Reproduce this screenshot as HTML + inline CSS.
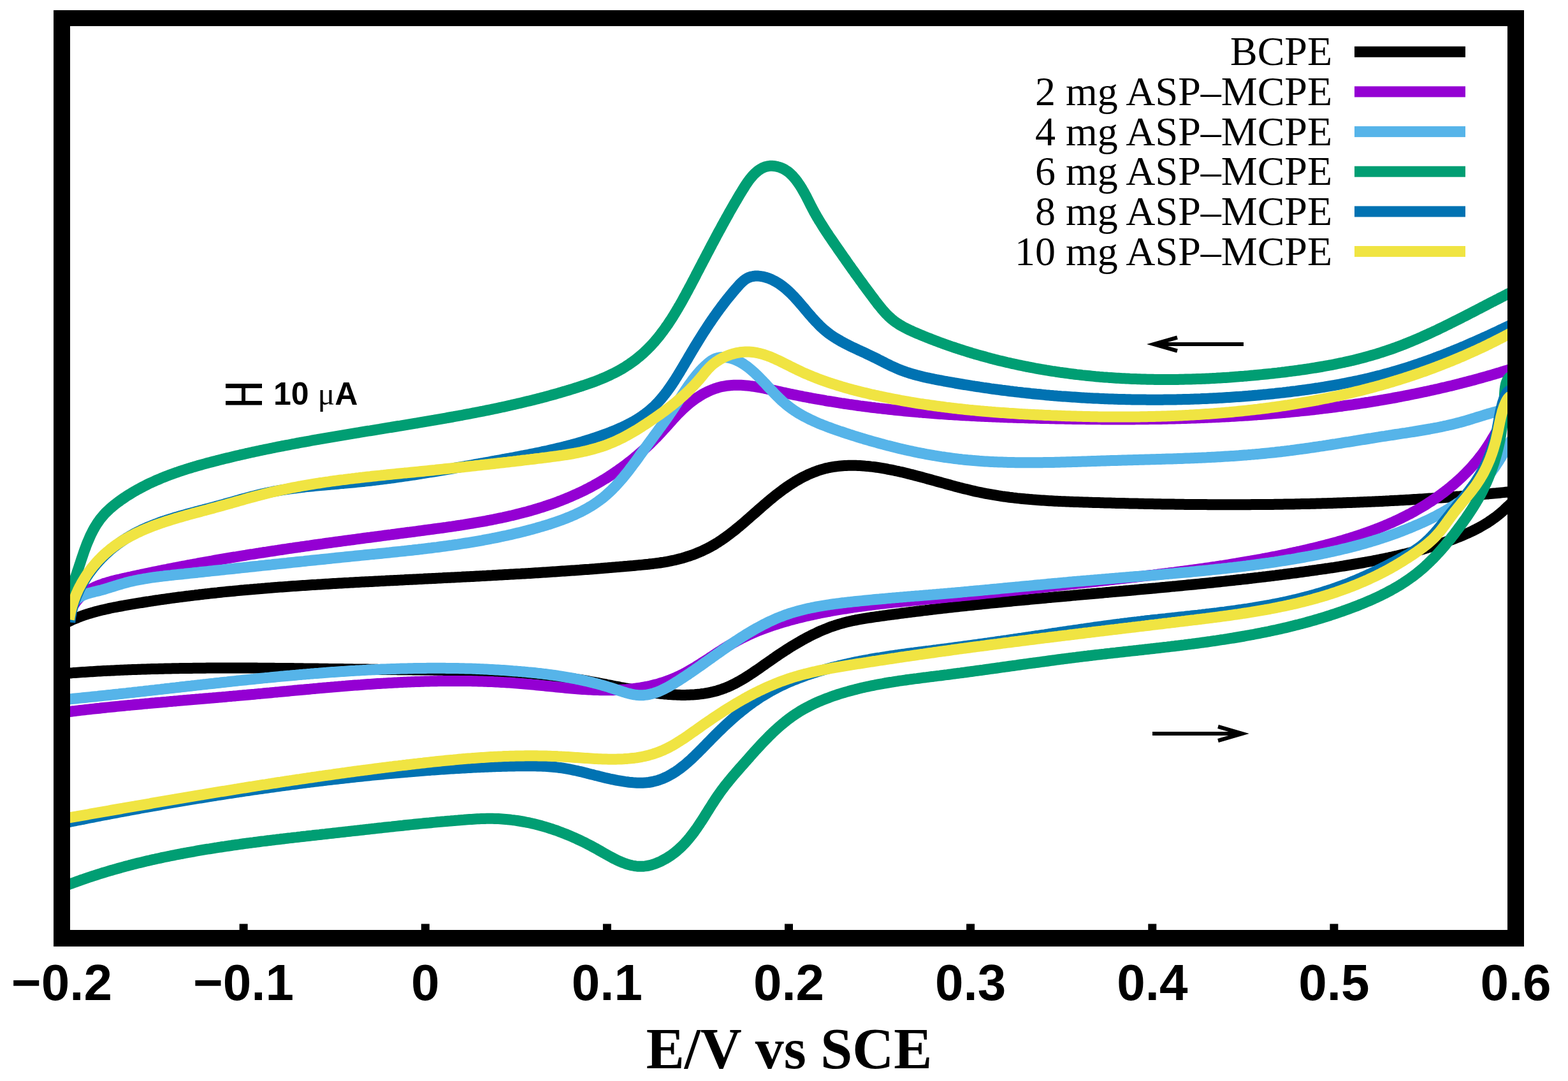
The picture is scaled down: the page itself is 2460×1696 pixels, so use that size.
<!DOCTYPE html>
<html><head><meta charset="utf-8"><title>Cyclic voltammograms</title>
<style>
html,body{margin:0;padding:0;background:#fff;}
body{width:2460px;height:1696px;overflow:hidden;}
svg{display:block;}
.tl{font-family:"Liberation Sans",Arial,sans-serif;font-weight:bold;font-size:80px;}
.leg{font-family:"Liberation Serif","Times New Roman",serif;font-size:64px;}
.xl{font-family:"Liberation Serif","Times New Roman",serif;font-weight:bold;font-size:90px;}
.sb{font-family:"Liberation Sans",Arial,sans-serif;font-weight:bold;font-size:50px;}
.mu{font-family:"Liberation Serif","Times New Roman",serif;font-weight:normal;font-size:50px;}
</style></head>
<body>
<svg xmlns="http://www.w3.org/2000/svg" width="2460" height="1696" viewBox="0 0 2460 1696">
<rect x="0" y="0" width="2460" height="1696" fill="#fff"/>
<defs><clipPath id="pa"><rect x="84" y="16" width="2307" height="1469"/></clipPath></defs>
<g clip-path="url(#pa)" fill="none" stroke-width="17" stroke-linejoin="round" stroke-linecap="butt">
<path d="M97.0 1057.0L100.0 1056.8 103.0 1056.5 106.0 1056.3 109.0 1056.1 112.0 1055.9 115.0 1055.6 118.0 1055.4 121.0 1055.2 124.0 1055.0 127.0 1054.8 130.0 1054.6 133.0 1054.4 136.0 1054.2 139.0 1054.0 142.0 1053.8 145.0 1053.7 148.0 1053.5 151.0 1053.3 153.9 1053.1 156.9 1053.0 159.9 1052.8 162.9 1052.6 165.9 1052.5 168.9 1052.3 171.9 1052.2 174.9 1052.0 177.9 1051.9 180.9 1051.7 183.9 1051.6 186.9 1051.5 189.9 1051.3 192.9 1051.2 195.9 1051.1 198.9 1051.0 201.9 1050.8 204.9 1050.7 207.9 1050.6 210.9 1050.5 213.9 1050.4 216.9 1050.3 219.8 1050.2 222.8 1050.1 225.8 1050.0 228.8 1049.9 231.8 1049.8 234.8 1049.7 237.8 1049.6 240.8 1049.5 243.8 1049.5 246.8 1049.4 249.8 1049.3 252.8 1049.2 255.8 1049.2 258.8 1049.1 261.8 1049.0 264.8 1049.0 267.8 1048.9 270.8 1048.8 273.7 1048.8 276.7 1048.7 279.7 1048.7 282.7 1048.6 285.7 1048.6 288.7 1048.5 291.7 1048.5 294.7 1048.4 297.7 1048.4 300.7 1048.4 303.7 1048.3 306.7 1048.3 309.7 1048.3 312.7 1048.2 315.7 1048.2 318.7 1048.2 321.7 1048.2 324.6 1048.1 327.6 1048.1 330.6 1048.1 333.6 1048.1 336.6 1048.1 339.6 1048.1 342.6 1048.0 345.6 1048.0 348.6 1048.0 351.6 1048.0 354.6 1048.0 357.6 1048.0 360.6 1048.0 363.6 1048.0 366.6 1048.0 369.6 1048.0 372.6 1048.0 375.6 1048.0 378.5 1048.0 381.5 1048.0 384.5 1048.1 387.5 1048.1 390.5 1048.1 393.5 1048.1 396.5 1048.1 399.5 1048.1 402.5 1048.1 405.5 1048.2 408.5 1048.2 411.5 1048.2 414.5 1048.2 417.5 1048.2 420.5 1048.3 423.5 1048.3 426.5 1048.3 429.5 1048.3 432.5 1048.4 435.5 1048.4 438.5 1048.4 441.4 1048.4 444.4 1048.5 447.4 1048.5 450.4 1048.5 453.4 1048.6 456.4 1048.6 459.4 1048.6 462.4 1048.7 465.4 1048.7 468.4 1048.7 471.4 1048.8 474.4 1048.8 477.4 1048.9 480.4 1048.9 483.4 1048.9 486.4 1049.0 489.4 1049.0 492.4 1049.0 495.4 1049.1 498.4 1049.1 501.4 1049.2 504.4 1049.2 507.4 1049.2 510.4 1049.3 513.4 1049.3 516.4 1049.4 519.4 1049.4 522.4 1049.4 525.4 1049.5 528.4 1049.5 531.4 1049.6 534.4 1049.6 537.4 1049.6 540.4 1049.7 543.4 1049.7 546.4 1049.8 549.4 1049.8 552.4 1049.8 555.4 1049.9 558.4 1049.9 561.4 1050.0 564.4 1050.0 567.4 1050.0 570.4 1050.1 573.4 1050.1 576.4 1050.1 579.4 1050.2 582.4 1050.2 585.4 1050.3 588.4 1050.3 591.4 1050.3 594.4 1050.4 597.4 1050.4 600.4 1050.4 603.4 1050.5 606.4 1050.5 609.4 1050.5 612.4 1050.5 615.4 1050.6 618.4 1050.6 621.4 1050.6 624.4 1050.7 627.4 1050.7 630.4 1050.7 633.4 1050.7 636.5 1050.8 639.5 1050.8 642.5 1050.8 645.5 1050.8 648.5 1050.9 651.5 1050.9 654.5 1050.9 657.5 1050.9 660.5 1051.0 663.5 1051.0 666.5 1051.0 669.5 1051.0 672.5 1051.1 675.5 1051.1 678.5 1051.1 681.5 1051.2 684.5 1051.2 687.5 1051.2 690.5 1051.3 693.6 1051.3 696.6 1051.4 699.6 1051.4 702.6 1051.4 705.6 1051.5 708.6 1051.5 711.6 1051.6 714.6 1051.7 717.6 1051.7 720.6 1051.8 723.6 1051.8 726.6 1051.9 729.6 1052.0 732.6 1052.1 735.6 1052.1 738.6 1052.2 741.6 1052.3 744.6 1052.4 747.6 1052.5 750.6 1052.6 753.6 1052.7 756.6 1052.8 759.6 1052.9 762.6 1053.0 765.6 1053.1 768.6 1053.2 771.6 1053.4 774.6 1053.5 777.6 1053.6 780.5 1053.8 783.5 1053.9 786.5 1054.1 789.5 1054.2 792.5 1054.4 795.5 1054.6 798.5 1054.7 801.5 1054.9 804.5 1055.1 807.5 1055.3 810.4 1055.5 813.4 1055.7 816.4 1055.9 819.4 1056.1 822.4 1056.4 825.4 1056.6 828.3 1056.8 831.3 1057.1 834.3 1057.3 837.3 1057.6 840.3 1057.8 843.2 1058.1 846.2 1058.4 849.2 1058.7 852.2 1059.0 855.1 1059.3 858.1 1059.6 861.1 1059.9 864.1 1060.3 867.0 1060.6 870.0 1060.9 873.0 1061.3 875.9 1061.7 878.9 1062.0 881.9 1062.4 884.8 1062.8 887.8 1063.2 890.8 1063.6 893.7 1064.0 896.7 1064.4 899.6 1064.9 902.6 1065.3 905.5 1065.8 908.5 1066.3 911.5 1066.7 914.4 1067.2 917.4 1067.7 920.3 1068.2 923.3 1068.7 926.2 1069.3 929.1 1069.8 932.1 1070.3 935.0 1070.9 938.0 1071.4 940.9 1072.0 943.9 1072.6 946.8 1073.1 949.8 1073.7 952.7 1074.3 955.7 1074.8 958.6 1075.4 961.5 1076.0 964.5 1076.6 967.4 1077.1 970.4 1077.7 973.3 1078.3 976.3 1078.8 979.2 1079.4 982.2 1080.0 985.2 1080.5 988.1 1081.0 991.1 1081.6 994.0 1082.1 997.0 1082.6 1000.0 1083.1 1003.0 1083.6 1005.9 1084.1 1008.9 1084.6 1011.9 1085.1 1014.9 1085.5 1017.9 1086.0 1020.8 1086.4 1023.8 1086.8 1026.8 1087.2 1029.8 1087.5 1032.9 1087.9 1035.9 1088.2 1038.9 1088.6 1041.9 1088.9 1044.9 1089.1 1047.9 1089.4 1050.9 1089.6 1054.0 1089.8 1057.0 1090.0 1060.0 1090.1 1063.0 1090.2 1066.0 1090.3 1069.0 1090.4 1072.0 1090.4 1075.0 1090.4 1078.0 1090.3 1081.0 1090.3 1084.0 1090.1 1087.0 1090.0 1090.0 1089.8 1092.9 1089.5 1095.9 1089.2 1098.8 1088.9 1101.7 1088.5 1104.7 1088.1 1107.6 1087.6 1110.5 1087.1 1113.3 1086.6 1116.2 1085.9 1119.1 1085.3 1121.9 1084.6 1124.7 1083.8 1127.5 1082.9 1130.3 1082.0 1133.1 1081.1 1135.9 1080.1 1138.6 1079.0 1141.3 1077.9 1144.0 1076.7 1146.7 1075.5 1149.4 1074.2 1152.1 1072.9 1154.7 1071.5 1157.3 1070.1 1160.0 1068.6 1162.6 1067.1 1165.2 1065.6 1167.8 1064.1 1170.3 1062.5 1172.9 1060.8 1175.5 1059.2 1178.0 1057.5 1180.6 1055.8 1183.1 1054.1 1185.6 1052.4 1188.1 1050.7 1190.7 1048.9 1193.2 1047.2 1195.7 1045.4 1198.2 1043.6 1200.7 1041.9 1203.2 1040.1 1205.7 1038.3 1208.3 1036.6 1210.8 1034.8 1213.3 1033.1 1215.8 1031.3 1218.3 1029.6 1220.8 1027.9 1223.4 1026.2 1225.9 1024.5 1228.4 1022.9 1230.9 1021.2 1233.5 1019.6 1236.0 1017.9 1238.6 1016.3 1241.1 1014.7 1243.7 1013.2 1246.2 1011.6 1248.8 1010.1 1251.4 1008.6 1254.0 1007.1 1256.5 1005.6 1259.1 1004.1 1261.7 1002.7 1264.3 1001.3 1267.0 999.9 1269.6 998.5 1272.2 997.2 1274.9 995.8 1277.5 994.6 1280.2 993.3 1282.9 992.0 1285.5 990.8 1288.2 989.6 1290.9 988.5 1293.6 987.4 1296.4 986.3 1299.1 985.2 1301.8 984.1 1304.6 983.1 1307.4 982.2 1310.2 981.2 1313.0 980.3 1315.8 979.4 1318.6 978.6 1321.4 977.8 1324.3 977.0 1327.2 976.3 1330.0 975.6 1332.9 974.9 1335.8 974.3 1338.7 973.6 1341.7 973.0 1344.6 972.5 1347.5 971.9 1350.5 971.4 1353.4 970.9 1356.4 970.4 1359.4 969.9 1362.3 969.4 1365.3 969.0 1368.3 968.5 1371.3 968.1 1374.2 967.7 1377.2 967.3 1380.2 966.8 1383.2 966.4 1386.2 966.0 1389.2 965.6 1392.1 965.2 1395.1 964.8 1398.1 964.4 1401.1 964.0 1404.1 963.6 1407.1 963.2 1410.0 962.8 1413.0 962.4 1416.0 962.0 1419.0 961.6 1422.0 961.3 1425.0 960.9 1428.0 960.5 1430.9 960.1 1433.9 959.8 1436.9 959.4 1439.9 959.0 1442.9 958.7 1445.9 958.3 1448.8 957.9 1451.8 957.6 1454.8 957.2 1457.8 956.9 1460.8 956.5 1463.8 956.1 1466.8 955.8 1469.7 955.4 1472.7 955.1 1475.7 954.8 1478.7 954.4 1481.7 954.1 1484.7 953.7 1487.7 953.4 1490.6 953.1 1493.6 952.7 1496.6 952.4 1499.6 952.1 1502.6 951.8 1505.6 951.4 1508.5 951.1 1511.5 950.8 1514.5 950.5 1517.5 950.1 1520.5 949.8 1523.5 949.5 1526.5 949.2 1529.4 948.9 1532.4 948.6 1535.4 948.3 1538.4 948.0 1541.4 947.6 1544.4 947.3 1547.4 947.0 1550.3 946.7 1553.3 946.4 1556.3 946.1 1559.3 945.8 1562.3 945.5 1565.3 945.2 1568.3 944.9 1571.2 944.7 1574.2 944.4 1577.2 944.1 1580.2 943.8 1583.2 943.5 1586.2 943.2 1589.1 942.9 1592.1 942.6 1595.1 942.3 1598.1 942.1 1601.1 941.8 1604.1 941.5 1607.1 941.2 1610.0 940.9 1613.0 940.7 1616.0 940.4 1619.0 940.1 1622.0 939.8 1625.0 939.5 1628.0 939.3 1630.9 939.0 1633.9 938.7 1636.9 938.4 1639.9 938.2 1642.9 937.9 1645.9 937.6 1648.8 937.4 1651.8 937.1 1654.8 936.8 1657.8 936.5 1660.8 936.3 1663.8 936.0 1666.8 935.7 1669.7 935.5 1672.7 935.2 1675.7 934.9 1678.7 934.7 1681.7 934.4 1684.7 934.1 1687.6 933.9 1690.6 933.6 1693.6 933.3 1696.6 933.1 1699.6 932.8 1702.6 932.6 1705.6 932.3 1708.5 932.0 1711.5 931.8 1714.5 931.5 1717.5 931.2 1720.5 931.0 1723.5 930.7 1726.4 930.4 1729.4 930.2 1732.4 929.9 1735.4 929.6 1738.4 929.4 1741.4 929.1 1744.3 928.8 1747.3 928.6 1750.3 928.3 1753.3 928.1 1756.3 927.8 1759.3 927.5 1762.2 927.3 1765.2 927.0 1768.2 926.7 1771.2 926.5 1774.2 926.2 1777.2 925.9 1780.1 925.7 1783.1 925.4 1786.1 925.1 1789.1 924.8 1792.1 924.6 1795.1 924.3 1798.0 924.0 1801.0 923.8 1804.0 923.5 1807.0 923.2 1810.0 922.9 1812.9 922.7 1815.9 922.4 1818.9 922.1 1821.9 921.8 1824.9 921.5 1827.9 921.3 1830.8 921.0 1833.8 920.7 1836.8 920.4 1839.8 920.1 1842.8 919.9 1845.7 919.6 1848.7 919.3 1851.7 919.0 1854.7 918.7 1857.7 918.4 1860.6 918.1 1863.6 917.8 1866.6 917.6 1869.6 917.3 1872.6 917.0 1875.5 916.7 1878.5 916.4 1881.5 916.1 1884.5 915.8 1887.5 915.5 1890.5 915.2 1893.4 914.9 1896.4 914.6 1899.4 914.3 1902.4 914.0 1905.3 913.6 1908.3 913.3 1911.3 913.0 1914.3 912.7 1917.3 912.4 1920.2 912.1 1923.2 911.8 1926.2 911.4 1929.2 911.1 1932.2 910.8 1935.1 910.5 1938.1 910.1 1941.1 909.8 1944.1 909.5 1947.1 909.2 1950.0 908.8 1953.0 908.5 1956.0 908.2 1959.0 907.8 1961.9 907.5 1964.9 907.1 1967.9 906.8 1970.9 906.4 1973.9 906.1 1976.8 905.7 1979.8 905.4 1982.8 905.0 1985.8 904.7 1988.7 904.3 1991.7 904.0 1994.7 903.6 1997.7 903.2 2000.6 902.9 2003.6 902.5 2006.6 902.1 2009.6 901.7 2012.5 901.4 2015.5 901.0 2018.5 900.6 2021.5 900.2 2024.4 899.8 2027.4 899.4 2030.4 899.1 2033.4 898.7 2036.3 898.3 2039.3 897.9 2042.3 897.5 2045.3 897.1 2048.2 896.7 2051.2 896.3 2054.2 895.8 2057.2 895.4 2060.1 895.0 2063.1 894.6 2066.1 894.2 2069.1 893.7 2072.0 893.3 2075.0 892.9 2078.0 892.5 2080.9 892.0 2083.9 891.6 2086.9 891.1 2089.9 890.7 2092.8 890.3 2095.8 889.8 2098.8 889.3 2101.7 888.9 2104.7 888.4 2107.7 888.0 2110.7 887.5 2113.6 887.0 2116.6 886.5 2119.6 886.0 2122.5 885.5 2125.5 885.0 2128.4 884.5 2131.4 884.0 2134.4 883.5 2137.3 883.0 2140.3 882.5 2143.2 881.9 2146.2 881.4 2149.1 880.8 2152.1 880.3 2155.0 879.7 2158.0 879.2 2160.9 878.6 2163.9 878.0 2166.8 877.4 2169.8 876.8 2172.7 876.2 2175.6 875.6 2178.6 875.0 2181.5 874.3 2184.4 873.7 2187.3 873.0 2190.3 872.4 2193.2 871.7 2196.1 871.0 2199.0 870.3 2201.9 869.6 2204.8 868.9 2207.7 868.2 2210.6 867.4 2213.5 866.7 2216.4 865.9 2219.3 865.2 2222.2 864.4 2225.1 863.6 2228.0 862.8 2230.9 862.0 2233.8 861.2 2236.6 860.3 2239.5 859.5 2242.4 858.6 2245.2 857.7 2248.1 856.9 2250.9 856.0 2253.8 855.0 2256.6 854.1 2259.5 853.2 2262.3 852.2 2265.2 851.2 2268.0 850.3 2270.8 849.3 2273.6 848.3 2276.4 847.2 2279.3 846.2 2282.1 845.1 2284.8 844.0 2287.6 842.9 2290.4 841.8 2293.2 840.7 2295.9 839.5 2298.7 838.3 2301.4 837.1 2304.1 835.9 2306.8 834.6 2309.5 833.3 2312.2 832.0 2314.9 830.7 2317.5 829.3 2320.1 827.9 2322.7 826.5 2325.3 825.0 2327.9 823.5 2330.4 822.0 2333.0 820.4 2335.5 818.8 2338.0 817.1 2340.4 815.5 2342.9 813.7 2345.3 812.0 2347.7 810.2 2350.0 808.4 2352.3 806.5 2354.6 804.6 2356.9 802.6 2359.2 800.6 2361.4 798.5 2363.6 796.4 2365.8 794.4 2368.0 792.3 2370.2 790.3 2372.5 788.3 2374.8 786.4 2377.2 784.6 2379.7 782.9 2382.3 781.4 2385.0 780.0 M2380.0 770.5L2377.0 770.8 2374.0 771.1 2371.0 771.4 2368.1 771.7 2365.1 772.0 2362.1 772.3 2359.1 772.6 2356.1 772.9 2353.1 773.2 2350.1 773.5 2347.2 773.8 2344.2 774.0 2341.2 774.3 2338.2 774.6 2335.2 774.9 2332.2 775.1 2329.2 775.4 2326.2 775.7 2323.3 775.9 2320.3 776.2 2317.3 776.4 2314.3 776.7 2311.3 777.0 2308.3 777.2 2305.3 777.5 2302.3 777.7 2299.4 777.9 2296.4 778.2 2293.4 778.4 2290.4 778.7 2287.4 778.9 2284.4 779.1 2281.4 779.4 2278.4 779.6 2275.4 779.8 2272.5 780.0 2269.5 780.3 2266.5 780.5 2263.5 780.7 2260.5 780.9 2257.5 781.1 2254.5 781.3 2251.5 781.5 2248.5 781.7 2245.5 781.9 2242.6 782.1 2239.6 782.3 2236.6 782.5 2233.6 782.7 2230.6 782.9 2227.6 783.1 2224.6 783.3 2221.6 783.5 2218.6 783.6 2215.6 783.8 2212.7 784.0 2209.7 784.2 2206.7 784.3 2203.7 784.5 2200.7 784.7 2197.7 784.8 2194.7 785.0 2191.7 785.2 2188.7 785.3 2185.7 785.5 2182.7 785.6 2179.7 785.8 2176.8 785.9 2173.8 786.1 2170.8 786.2 2167.8 786.4 2164.8 786.5 2161.8 786.7 2158.8 786.8 2155.8 786.9 2152.8 787.1 2149.8 787.2 2146.8 787.3 2143.8 787.5 2140.8 787.6 2137.8 787.7 2134.9 787.8 2131.9 787.9 2128.9 788.1 2125.9 788.2 2122.9 788.3 2119.9 788.4 2116.9 788.5 2113.9 788.6 2110.9 788.7 2107.9 788.8 2104.9 788.9 2101.9 789.0 2098.9 789.1 2095.9 789.2 2092.9 789.3 2089.9 789.4 2086.9 789.5 2084.0 789.6 2081.0 789.7 2078.0 789.8 2075.0 789.8 2072.0 789.9 2069.0 790.0 2066.0 790.1 2063.0 790.2 2060.0 790.2 2057.0 790.3 2054.0 790.4 2051.0 790.4 2048.0 790.5 2045.0 790.6 2042.0 790.6 2039.0 790.7 2036.0 790.7 2033.0 790.8 2030.0 790.9 2027.0 790.9 2024.0 791.0 2021.1 791.0 2018.1 791.1 2015.1 791.1 2012.1 791.2 2009.1 791.2 2006.1 791.2 2003.1 791.3 2000.1 791.3 1997.1 791.4 1994.1 791.4 1991.1 791.4 1988.1 791.5 1985.1 791.5 1982.1 791.5 1979.1 791.5 1976.1 791.6 1973.1 791.6 1970.1 791.6 1967.1 791.6 1964.1 791.6 1961.1 791.7 1958.1 791.7 1955.1 791.7 1952.1 791.7 1949.1 791.7 1946.1 791.7 1943.1 791.7 1940.1 791.7 1937.1 791.7 1934.1 791.7 1931.1 791.7 1928.1 791.7 1925.1 791.7 1922.1 791.7 1919.1 791.7 1916.1 791.7 1913.2 791.7 1910.2 791.7 1907.2 791.7 1904.2 791.7 1901.2 791.7 1898.2 791.7 1895.2 791.7 1892.2 791.6 1889.2 791.6 1886.2 791.6 1883.2 791.6 1880.2 791.6 1877.2 791.5 1874.2 791.5 1871.2 791.5 1868.2 791.4 1865.2 791.4 1862.2 791.4 1859.2 791.4 1856.2 791.3 1853.2 791.3 1850.2 791.2 1847.2 791.2 1844.2 791.2 1841.2 791.1 1838.2 791.1 1835.2 791.0 1832.2 791.0 1829.2 791.0 1826.2 790.9 1823.2 790.9 1820.2 790.8 1817.2 790.8 1814.2 790.7 1811.2 790.7 1808.2 790.6 1805.2 790.5 1802.2 790.5 1799.2 790.4 1796.2 790.4 1793.2 790.3 1790.2 790.2 1787.2 790.2 1784.2 790.1 1781.2 790.1 1778.2 790.0 1775.2 789.9 1772.2 789.9 1769.2 789.8 1766.2 789.7 1763.2 789.6 1760.2 789.6 1757.2 789.5 1754.2 789.4 1751.2 789.4 1748.2 789.3 1745.2 789.2 1742.2 789.1 1739.2 789.0 1736.2 789.0 1733.2 788.9 1730.2 788.8 1727.2 788.7 1724.2 788.6 1721.2 788.5 1718.2 788.4 1715.2 788.4 1712.2 788.3 1709.2 788.2 1706.2 788.1 1703.2 788.0 1700.2 787.9 1697.2 787.8 1694.2 787.7 1691.2 787.6 1688.2 787.5 1685.2 787.4 1682.2 787.3 1679.2 787.2 1676.2 787.1 1673.2 787.0 1670.2 786.8 1667.2 786.7 1664.2 786.6 1661.2 786.4 1658.2 786.3 1655.2 786.2 1652.2 786.0 1649.2 785.8 1646.2 785.7 1643.2 785.5 1640.2 785.3 1637.3 785.1 1634.3 784.9 1631.3 784.7 1628.3 784.5 1625.3 784.3 1622.3 784.1 1619.3 783.8 1616.4 783.6 1613.4 783.3 1610.4 783.1 1607.4 782.8 1604.5 782.5 1601.5 782.2 1598.5 781.9 1595.5 781.6 1592.6 781.2 1589.6 780.9 1586.6 780.5 1583.7 780.2 1580.7 779.8 1577.8 779.4 1574.8 779.0 1571.9 778.6 1568.9 778.1 1566.0 777.7 1563.0 777.2 1560.1 776.7 1557.1 776.2 1554.2 775.7 1551.2 775.2 1548.3 774.7 1545.4 774.1 1542.4 773.5 1539.5 772.9 1536.6 772.3 1533.7 771.7 1530.8 771.1 1527.8 770.4 1524.9 769.7 1522.0 769.0 1519.1 768.3 1516.2 767.6 1513.3 766.9 1510.4 766.2 1507.5 765.4 1504.6 764.7 1501.7 763.9 1498.8 763.2 1495.9 762.4 1493.0 761.6 1490.1 760.8 1487.2 760.0 1484.3 759.2 1481.4 758.4 1478.4 757.6 1475.5 756.8 1472.6 756.0 1469.7 755.2 1466.8 754.4 1463.9 753.6 1461.0 752.8 1458.1 752.0 1455.2 751.2 1452.3 750.4 1449.4 749.6 1446.5 748.8 1443.6 748.0 1440.6 747.2 1437.7 746.5 1434.8 745.7 1431.9 744.9 1428.9 744.2 1426.0 743.5 1423.1 742.7 1420.1 742.0 1417.2 741.3 1414.3 740.6 1411.3 740.0 1408.3 739.3 1405.4 738.7 1402.4 738.0 1399.5 737.4 1396.5 736.8 1393.5 736.3 1390.5 735.7 1387.6 735.2 1384.6 734.7 1381.6 734.2 1378.6 733.7 1375.6 733.2 1372.6 732.8 1369.6 732.4 1366.6 732.1 1363.6 731.7 1360.6 731.4 1357.7 731.2 1354.7 730.9 1351.7 730.7 1348.7 730.5 1345.7 730.4 1342.8 730.3 1339.8 730.2 1336.8 730.2 1333.9 730.2 1331.0 730.3 1328.0 730.4 1325.1 730.5 1322.2 730.7 1319.3 731.0 1316.4 731.3 1313.5 731.6 1310.6 732.0 1307.7 732.4 1304.9 732.9 1302.0 733.4 1299.2 734.0 1296.4 734.6 1293.6 735.3 1290.8 736.1 1288.0 736.9 1285.3 737.8 1282.5 738.7 1279.8 739.7 1277.1 740.7 1274.4 741.8 1271.7 742.9 1269.0 744.1 1266.4 745.3 1263.8 746.6 1261.1 747.9 1258.5 749.2 1255.9 750.6 1253.3 752.1 1250.8 753.5 1248.2 755.0 1245.7 756.6 1243.1 758.2 1240.6 759.8 1238.1 761.5 1235.6 763.1 1233.2 764.9 1230.7 766.6 1228.2 768.4 1225.8 770.2 1223.4 772.0 1220.9 773.9 1218.5 775.7 1216.1 777.6 1213.8 779.5 1211.4 781.5 1209.0 783.4 1206.7 785.4 1204.3 787.4 1202.0 789.4 1199.6 791.4 1197.3 793.4 1195.0 795.4 1192.6 797.5 1190.3 799.5 1188.0 801.5 1185.7 803.6 1183.3 805.6 1181.0 807.7 1178.7 809.7 1176.4 811.7 1174.1 813.8 1171.7 815.8 1169.4 817.8 1167.1 819.8 1164.8 821.8 1162.4 823.8 1160.1 825.8 1157.7 827.7 1155.4 829.6 1153.0 831.6 1150.6 833.5 1148.2 835.3 1145.8 837.2 1143.4 839.0 1141.0 840.8 1138.6 842.6 1136.2 844.3 1133.7 846.0 1131.2 847.7 1128.8 849.3 1126.3 851.0 1123.7 852.5 1121.2 854.1 1118.7 855.6 1116.1 857.0 1113.5 858.4 1110.9 859.8 1108.3 861.1 1105.6 862.4 1103.0 863.7 1100.3 864.9 1097.6 866.1 1094.9 867.2 1092.2 868.3 1089.5 869.4 1086.7 870.4 1084.0 871.4 1081.2 872.3 1078.4 873.2 1075.6 874.1 1072.8 875.0 1070.0 875.8 1067.1 876.6 1064.3 877.3 1061.4 878.0 1058.5 878.7 1055.7 879.3 1052.8 879.9 1049.9 880.5 1046.9 881.1 1044.0 881.6 1041.1 882.1 1038.1 882.5 1035.2 883.0 1032.2 883.4 1029.2 883.8 1026.3 884.1 1023.3 884.5 1020.3 884.8 1017.3 885.2 1014.3 885.5 1011.3 885.8 1008.4 886.1 1005.4 886.4 1002.4 886.6 999.4 886.9 996.4 887.2 993.4 887.5 990.4 887.7 987.4 888.0 984.4 888.3 981.4 888.5 978.4 888.8 975.4 889.1 972.4 889.3 969.4 889.6 966.4 889.8 963.4 890.1 960.4 890.3 957.4 890.6 954.4 890.8 951.4 891.1 948.4 891.3 945.4 891.5 942.4 891.8 939.4 892.0 936.4 892.2 933.4 892.5 930.4 892.7 927.4 892.9 924.4 893.2 921.5 893.4 918.5 893.6 915.5 893.8 912.5 894.0 909.5 894.3 906.5 894.5 903.5 894.7 900.5 894.9 897.5 895.1 894.5 895.3 891.5 895.5 888.5 895.7 885.5 895.9 882.5 896.1 879.5 896.3 876.5 896.5 873.5 896.7 870.5 896.9 867.6 897.1 864.6 897.3 861.6 897.5 858.6 897.7 855.6 897.9 852.6 898.1 849.6 898.3 846.6 898.5 843.6 898.7 840.6 898.8 837.6 899.0 834.6 899.2 831.6 899.4 828.6 899.6 825.6 899.7 822.7 899.9 819.7 900.1 816.7 900.3 813.7 900.4 810.7 900.6 807.7 900.8 804.7 901.0 801.7 901.1 798.7 901.3 795.7 901.5 792.7 901.6 789.7 901.8 786.7 902.0 783.8 902.1 780.8 902.3 777.8 902.5 774.8 902.6 771.8 902.8 768.8 902.9 765.8 903.1 762.8 903.3 759.8 903.4 756.8 903.6 753.8 903.7 750.8 903.9 747.8 904.0 744.8 904.2 741.9 904.4 738.9 904.5 735.9 904.7 732.9 904.8 729.9 905.0 726.9 905.1 723.9 905.3 720.9 905.4 717.9 905.6 714.9 905.7 711.9 905.9 708.9 906.0 705.9 906.2 703.0 906.3 700.0 906.5 697.0 906.6 694.0 906.8 691.0 906.9 688.0 907.1 685.0 907.2 682.0 907.4 679.0 907.5 676.0 907.7 673.0 907.8 670.0 908.0 667.0 908.1 664.1 908.3 661.1 908.4 658.1 908.6 655.1 908.7 652.1 908.9 649.1 909.0 646.1 909.2 643.1 909.3 640.1 909.5 637.1 909.6 634.1 909.8 631.1 909.9 628.1 910.1 625.1 910.2 622.2 910.4 619.2 910.5 616.2 910.7 613.2 910.8 610.2 911.0 607.2 911.1 604.2 911.3 601.2 911.4 598.2 911.6 595.2 911.7 592.2 911.9 589.2 912.0 586.2 912.2 583.2 912.4 580.2 912.5 577.2 912.7 574.2 912.8 571.3 913.0 568.3 913.1 565.3 913.3 562.3 913.5 559.3 913.6 556.3 913.8 553.3 914.0 550.3 914.1 547.3 914.3 544.3 914.4 541.3 914.6 538.3 914.8 535.3 915.0 532.3 915.1 529.3 915.3 526.3 915.5 523.3 915.6 520.3 915.8 517.3 916.0 514.4 916.2 511.4 916.3 508.4 916.5 505.4 916.7 502.4 916.9 499.4 917.1 496.4 917.3 493.4 917.4 490.4 917.6 487.4 917.8 484.4 918.0 481.4 918.2 478.4 918.4 475.4 918.6 472.4 918.8 469.4 919.0 466.4 919.2 463.5 919.4 460.5 919.6 457.5 919.8 454.5 920.0 451.5 920.3 448.5 920.5 445.5 920.7 442.5 920.9 439.5 921.1 436.5 921.3 433.5 921.6 430.5 921.8 427.5 922.0 424.6 922.3 421.6 922.5 418.6 922.7 415.6 923.0 412.6 923.2 409.6 923.5 406.6 923.7 403.6 924.0 400.6 924.2 397.6 924.5 394.7 924.7 391.7 925.0 388.7 925.2 385.7 925.5 382.7 925.8 379.7 926.0 376.7 926.3 373.8 926.6 370.8 926.9 367.8 927.2 364.8 927.5 361.8 927.7 358.8 928.0 355.8 928.3 352.9 928.6 349.9 928.9 346.9 929.2 343.9 929.5 340.9 929.9 338.0 930.2 335.0 930.5 332.0 930.8 329.0 931.1 326.0 931.5 323.1 931.8 320.1 932.1 317.1 932.5 314.1 932.8 311.1 933.2 308.2 933.5 305.2 933.9 302.2 934.2 299.2 934.6 296.3 935.0 293.3 935.3 290.3 935.7 287.3 936.1 284.4 936.5 281.4 936.8 278.4 937.2 275.5 937.6 272.5 938.0 269.5 938.4 266.6 938.8 263.6 939.2 260.6 939.7 257.6 940.1 254.7 940.5 251.7 940.9 248.8 941.4 245.8 941.8 242.8 942.2 239.9 942.7 236.9 943.1 233.9 943.6 231.0 944.0 228.0 944.5 225.1 945.0 222.1 945.5 219.1 945.9 216.2 946.4 213.2 946.9 210.3 947.4 207.3 947.9 204.4 948.4 201.4 948.9 198.4 949.4 195.5 949.9 192.5 950.5 189.6 951.0 186.6 951.5 183.7 952.1 180.8 952.7 177.8 953.2 174.9 953.8 172.0 954.4 169.0 955.1 166.1 955.7 163.2 956.4 160.3 957.1 157.4 957.8 154.5 958.5 151.6 959.2 148.7 960.0 145.9 960.8 143.0 961.7 140.1 962.5 137.3 963.4 134.4 964.3 131.6 965.3 128.8 966.3 126.0 967.3 123.2 968.4 120.4 969.5 117.7 970.6 114.9 971.8 112.1 973.0 109.4 974.3 106.7 975.6 104.0 977.0" stroke="#000000"/>
<path d="M97.0 1118.0L99.9 1117.6 102.9 1117.3 105.8 1116.9 108.8 1116.5 111.7 1116.2 114.7 1115.8 117.6 1115.5 120.6 1115.1 123.5 1114.8 126.5 1114.4 129.5 1114.1 132.4 1113.8 135.4 1113.4 138.4 1113.1 141.3 1112.8 144.3 1112.4 147.3 1112.1 150.2 1111.8 153.2 1111.5 156.2 1111.2 159.2 1110.8 162.1 1110.5 165.1 1110.2 168.1 1109.9 171.1 1109.6 174.1 1109.3 177.0 1109.0 180.0 1108.7 183.0 1108.4 186.0 1108.1 189.0 1107.8 192.0 1107.5 195.0 1107.2 197.9 1106.9 200.9 1106.6 203.9 1106.4 206.9 1106.1 209.9 1105.8 212.9 1105.5 215.9 1105.2 218.9 1105.0 221.9 1104.7 224.9 1104.4 227.9 1104.1 230.9 1103.9 233.9 1103.6 236.9 1103.3 239.9 1103.0 242.9 1102.8 245.9 1102.5 248.9 1102.2 251.9 1102.0 254.9 1101.7 257.9 1101.4 260.9 1101.2 263.9 1100.9 266.9 1100.6 270.0 1100.4 273.0 1100.1 276.0 1099.9 279.0 1099.6 282.0 1099.3 285.0 1099.1 288.0 1098.8 291.0 1098.6 294.0 1098.3 297.0 1098.1 300.0 1097.8 303.0 1097.5 306.0 1097.3 309.0 1097.0 312.1 1096.8 315.1 1096.5 318.1 1096.3 321.1 1096.0 324.1 1095.7 327.1 1095.5 330.1 1095.2 333.1 1095.0 336.1 1094.7 339.1 1094.5 342.1 1094.2 345.1 1093.9 348.1 1093.7 351.1 1093.4 354.1 1093.2 357.1 1092.9 360.1 1092.6 363.1 1092.4 366.1 1092.1 369.1 1091.9 372.1 1091.6 375.1 1091.3 378.1 1091.1 381.1 1090.8 384.1 1090.5 387.1 1090.3 390.1 1090.0 393.1 1089.7 396.1 1089.4 399.1 1089.2 402.1 1088.9 405.1 1088.6 408.1 1088.4 411.1 1088.1 414.0 1087.8 417.0 1087.5 420.0 1087.2 423.0 1087.0 426.0 1086.7 429.0 1086.4 432.0 1086.1 434.9 1085.9 437.9 1085.6 440.9 1085.3 443.9 1085.0 446.9 1084.7 449.8 1084.5 452.8 1084.2 455.8 1083.9 458.8 1083.6 461.8 1083.3 464.7 1083.1 467.7 1082.8 470.7 1082.5 473.7 1082.2 476.6 1082.0 479.6 1081.7 482.6 1081.4 485.6 1081.2 488.5 1080.9 491.5 1080.6 494.5 1080.4 497.5 1080.1 500.4 1079.8 503.4 1079.6 506.4 1079.3 509.4 1079.0 512.3 1078.8 515.3 1078.5 518.3 1078.3 521.2 1078.0 524.2 1077.8 527.2 1077.5 530.2 1077.3 533.1 1077.0 536.1 1076.8 539.1 1076.5 542.0 1076.3 545.0 1076.0 548.0 1075.8 551.0 1075.6 553.9 1075.3 556.9 1075.1 559.9 1074.9 562.8 1074.7 565.8 1074.5 568.8 1074.2 571.7 1074.0 574.7 1073.8 577.7 1073.6 580.7 1073.4 583.6 1073.2 586.6 1073.0 589.6 1072.8 592.5 1072.6 595.5 1072.4 598.5 1072.2 601.5 1072.1 604.4 1071.9 607.4 1071.7 610.4 1071.5 613.3 1071.4 616.3 1071.2 619.3 1071.0 622.3 1070.9 625.2 1070.7 628.2 1070.6 631.2 1070.4 634.2 1070.3 637.1 1070.2 640.1 1070.0 643.1 1069.9 646.1 1069.8 649.1 1069.7 652.0 1069.6 655.0 1069.5 658.0 1069.4 661.0 1069.3 663.9 1069.2 666.9 1069.1 669.9 1069.0 672.9 1068.9 675.9 1068.8 678.9 1068.8 681.8 1068.7 684.8 1068.7 687.8 1068.6 690.8 1068.6 693.8 1068.5 696.8 1068.5 699.8 1068.5 702.8 1068.4 705.7 1068.4 708.7 1068.4 711.7 1068.4 714.7 1068.4 717.7 1068.4 720.7 1068.4 723.7 1068.4 726.7 1068.5 729.7 1068.5 732.7 1068.5 735.7 1068.6 738.7 1068.6 741.7 1068.7 744.7 1068.8 747.7 1068.8 750.7 1068.9 753.7 1069.0 756.7 1069.1 759.7 1069.2 762.7 1069.3 765.7 1069.4 768.7 1069.5 771.7 1069.6 774.8 1069.8 777.8 1069.9 780.8 1070.1 783.8 1070.2 786.8 1070.4 789.8 1070.6 792.9 1070.7 795.9 1070.9 798.9 1071.1 801.9 1071.3 804.9 1071.5 808.0 1071.8 811.0 1072.0 814.0 1072.2 817.1 1072.5 820.1 1072.7 823.1 1073.0 826.1 1073.3 829.2 1073.5 832.2 1073.8 835.3 1074.1 838.3 1074.4 841.3 1074.7 844.4 1075.0 847.4 1075.3 850.4 1075.6 853.5 1075.9 856.5 1076.2 859.6 1076.5 862.6 1076.8 865.6 1077.1 868.7 1077.4 871.7 1077.7 874.7 1078.0 877.8 1078.3 880.8 1078.6 883.8 1078.9 886.9 1079.2 889.9 1079.5 892.9 1079.7 895.9 1080.0 899.0 1080.3 902.0 1080.5 905.0 1080.7 908.0 1081.0 911.0 1081.2 914.0 1081.4 917.1 1081.6 920.1 1081.8 923.1 1081.9 926.1 1082.1 929.1 1082.2 932.0 1082.4 935.0 1082.5 938.0 1082.6 941.0 1082.7 944.0 1082.7 947.0 1082.8 949.9 1082.8 952.9 1082.8 955.9 1082.8 958.8 1082.7 961.8 1082.7 964.7 1082.6 967.7 1082.5 970.6 1082.4 973.5 1082.2 976.5 1082.1 979.4 1081.9 982.3 1081.7 985.2 1081.4 988.1 1081.1 991.0 1080.8 993.9 1080.5 996.8 1080.1 999.7 1079.7 1002.5 1079.3 1005.4 1078.9 1008.3 1078.4 1011.1 1077.9 1014.0 1077.3 1016.8 1076.8 1019.6 1076.2 1022.5 1075.5 1025.3 1074.8 1028.1 1074.1 1030.9 1073.4 1033.7 1072.6 1036.5 1071.7 1039.2 1070.9 1042.0 1070.0 1044.8 1069.0 1047.5 1068.0 1050.3 1067.0 1053.0 1065.9 1055.7 1064.8 1058.4 1063.7 1061.1 1062.5 1063.8 1061.2 1066.5 1060.0 1069.2 1058.6 1071.9 1057.3 1074.5 1055.9 1077.2 1054.4 1079.9 1052.9 1082.5 1051.4 1085.1 1049.9 1087.8 1048.3 1090.4 1046.8 1093.0 1045.1 1095.6 1043.5 1098.2 1041.9 1100.8 1040.2 1103.5 1038.5 1106.1 1036.8 1108.7 1035.2 1111.3 1033.5 1113.9 1031.7 1116.5 1030.0 1119.1 1028.3 1121.7 1026.6 1124.3 1024.9 1126.9 1023.2 1129.5 1021.5 1132.1 1019.9 1134.7 1018.2 1137.3 1016.6 1140.0 1014.9 1142.6 1013.3 1145.2 1011.8 1147.9 1010.2 1150.5 1008.7 1153.2 1007.2 1155.8 1005.7 1158.5 1004.3 1161.2 1002.8 1163.8 1001.5 1166.5 1000.1 1169.2 998.8 1171.9 997.5 1174.6 996.2 1177.4 995.0 1180.1 993.8 1182.8 992.6 1185.5 991.5 1188.3 990.3 1191.0 989.2 1193.8 988.1 1196.5 987.1 1199.3 986.0 1202.1 985.0 1204.9 984.0 1207.6 983.0 1210.4 982.1 1213.2 981.1 1216.0 980.2 1218.8 979.3 1221.6 978.4 1224.5 977.5 1227.3 976.7 1230.1 975.9 1232.9 975.0 1235.8 974.2 1238.6 973.4 1241.5 972.6 1244.3 971.9 1247.2 971.1 1250.0 970.4 1252.9 969.6 1255.8 968.9 1258.6 968.2 1261.5 967.5 1264.4 966.8 1267.3 966.2 1270.2 965.5 1273.1 964.9 1276.0 964.2 1278.9 963.6 1281.8 963.0 1284.7 962.4 1287.6 961.8 1290.5 961.2 1293.4 960.6 1296.3 960.1 1299.3 959.5 1302.2 959.0 1305.1 958.4 1308.1 957.9 1311.0 957.4 1314.0 956.9 1316.9 956.4 1319.8 955.9 1322.8 955.4 1325.8 955.0 1328.7 954.5 1331.7 954.1 1334.6 953.6 1337.6 953.2 1340.6 952.7 1343.5 952.3 1346.5 951.9 1349.5 951.5 1352.4 951.1 1355.4 950.7 1358.4 950.3 1361.4 949.9 1364.4 949.5 1367.4 949.2 1370.3 948.8 1373.3 948.4 1376.3 948.1 1379.3 947.7 1382.3 947.4 1385.3 947.0 1388.3 946.7 1391.3 946.4 1394.3 946.0 1397.3 945.7 1400.3 945.4 1403.3 945.1 1406.3 944.8 1409.3 944.5 1412.3 944.2 1415.3 943.8 1418.3 943.5 1421.3 943.2 1424.3 943.0 1427.3 942.7 1430.3 942.4 1433.4 942.1 1436.4 941.8 1439.4 941.5 1442.4 941.2 1445.4 940.9 1448.4 940.6 1451.4 940.4 1454.4 940.1 1457.4 939.8 1460.4 939.5 1463.4 939.2 1466.4 938.9 1469.4 938.7 1472.4 938.4 1475.5 938.1 1478.5 937.8 1481.5 937.5 1484.5 937.2 1487.5 936.9 1490.5 936.6 1493.5 936.4 1496.5 936.1 1499.5 935.8 1502.5 935.5 1505.5 935.2 1508.4 934.9 1511.4 934.6 1514.4 934.3 1517.4 934.0 1520.4 933.7 1523.4 933.4 1526.4 933.1 1529.4 932.8 1532.4 932.5 1535.4 932.2 1538.4 931.9 1541.3 931.5 1544.3 931.2 1547.3 930.9 1550.3 930.6 1553.3 930.3 1556.3 930.0 1559.3 929.7 1562.2 929.4 1565.2 929.0 1568.2 928.7 1571.2 928.4 1574.2 928.1 1577.2 927.8 1580.1 927.5 1583.1 927.1 1586.1 926.8 1589.1 926.5 1592.1 926.2 1595.0 925.9 1598.0 925.5 1601.0 925.2 1604.0 924.9 1606.9 924.6 1609.9 924.3 1612.9 923.9 1615.9 923.6 1618.8 923.3 1621.8 923.0 1624.8 922.6 1627.8 922.3 1630.7 922.0 1633.7 921.7 1636.7 921.3 1639.7 921.0 1642.6 920.7 1645.6 920.3 1648.6 920.0 1651.6 919.7 1654.5 919.4 1657.5 919.0 1660.5 918.7 1663.4 918.4 1666.4 918.1 1669.4 917.7 1672.4 917.4 1675.3 917.1 1678.3 916.7 1681.3 916.4 1684.3 916.1 1687.2 915.8 1690.2 915.4 1693.2 915.1 1696.1 914.8 1699.1 914.5 1702.1 914.1 1705.1 913.8 1708.0 913.5 1711.0 913.2 1714.0 912.8 1716.9 912.5 1719.9 912.2 1722.9 911.8 1725.9 911.5 1728.8 911.2 1731.8 910.9 1734.8 910.5 1737.8 910.2 1740.7 909.9 1743.7 909.6 1746.7 909.2 1749.6 908.9 1752.6 908.6 1755.6 908.2 1758.6 907.9 1761.5 907.6 1764.5 907.2 1767.5 906.9 1770.4 906.6 1773.4 906.2 1776.4 905.9 1779.4 905.5 1782.3 905.2 1785.3 904.9 1788.3 904.5 1791.3 904.2 1794.2 903.8 1797.2 903.5 1800.2 903.1 1803.1 902.8 1806.1 902.4 1809.1 902.1 1812.0 901.7 1815.0 901.4 1818.0 901.0 1821.0 900.6 1823.9 900.3 1826.9 899.9 1829.9 899.5 1832.8 899.2 1835.8 898.8 1838.8 898.4 1841.7 898.1 1844.7 897.7 1847.7 897.3 1850.6 896.9 1853.6 896.5 1856.6 896.1 1859.6 895.7 1862.5 895.3 1865.5 894.9 1868.5 894.5 1871.4 894.1 1874.4 893.7 1877.3 893.3 1880.3 892.9 1883.3 892.5 1886.2 892.1 1889.2 891.7 1892.2 891.2 1895.1 890.8 1898.1 890.4 1901.1 889.9 1904.0 889.5 1907.0 889.1 1909.9 888.6 1912.9 888.2 1915.9 887.7 1918.8 887.3 1921.8 886.8 1924.8 886.3 1927.7 885.9 1930.7 885.4 1933.6 884.9 1936.6 884.4 1939.5 884.0 1942.5 883.5 1945.5 883.0 1948.4 882.5 1951.4 882.0 1954.3 881.5 1957.3 881.0 1960.2 880.5 1963.2 879.9 1966.2 879.4 1969.1 878.9 1972.1 878.4 1975.0 877.8 1978.0 877.3 1980.9 876.7 1983.9 876.2 1986.8 875.6 1989.8 875.1 1992.7 874.5 1995.7 873.9 1998.6 873.3 2001.6 872.8 2004.5 872.2 2007.5 871.6 2010.4 871.0 2013.4 870.4 2016.3 869.8 2019.2 869.2 2022.2 868.5 2025.1 867.9 2028.1 867.3 2031.0 866.6 2034.0 866.0 2036.9 865.3 2039.8 864.7 2042.8 864.0 2045.7 863.4 2048.7 862.7 2051.6 862.0 2054.5 861.3 2057.5 860.6 2060.4 859.9 2063.3 859.2 2066.3 858.5 2069.2 857.8 2072.1 857.0 2075.0 856.3 2078.0 855.6 2080.9 854.8 2083.8 854.0 2086.7 853.3 2089.6 852.5 2092.5 851.7 2095.4 850.9 2098.3 850.1 2101.2 849.2 2104.1 848.4 2107.0 847.6 2109.9 846.7 2112.8 845.8 2115.7 845.0 2118.5 844.1 2121.4 843.2 2124.3 842.3 2127.1 841.3 2130.0 840.4 2132.8 839.4 2135.7 838.5 2138.5 837.5 2141.3 836.5 2144.2 835.5 2147.0 834.5 2149.8 833.5 2152.6 832.5 2155.4 831.4 2158.2 830.3 2161.0 829.3 2163.8 828.2 2166.6 827.1 2169.3 825.9 2172.1 824.8 2174.9 823.6 2177.6 822.5 2180.3 821.3 2183.1 820.1 2185.8 818.9 2188.5 817.6 2191.2 816.4 2193.9 815.1 2196.6 813.8 2199.3 812.5 2202.0 811.2 2204.6 809.9 2207.3 808.5 2209.9 807.1 2212.6 805.8 2215.2 804.3 2217.8 802.9 2220.4 801.5 2223.0 800.0 2225.6 798.5 2228.2 797.0 2230.8 795.5 2233.3 794.0 2235.9 792.4 2238.4 790.8 2240.9 789.2 2243.5 787.6 2246.0 786.0 2248.4 784.3 2250.9 782.6 2253.4 780.9 2255.8 779.2 2258.2 777.5 2260.7 775.7 2263.1 773.9 2265.5 772.1 2267.8 770.3 2270.2 768.5 2272.5 766.6 2274.8 764.7 2277.1 762.8 2279.4 760.9 2281.7 759.0 2283.9 757.0 2286.2 755.0 2288.4 753.0 2290.6 751.0 2292.8 749.0 2294.9 746.9 2297.0 744.8 2299.2 742.7 2301.2 740.6 2303.3 738.4 2305.4 736.3 2307.4 734.1 2309.4 731.9 2311.4 729.6 2313.3 727.4 2315.3 725.1 2317.2 722.8 2319.1 720.5 2320.9 718.1 2322.8 715.7 2324.6 713.4 2326.4 711.0 2328.2 708.5 2329.9 706.1 2331.6 703.6 2333.3 701.1 2334.9 698.6 2336.6 696.0 2338.2 693.5 2339.7 690.9 2341.3 688.3 2342.8 685.7 2344.4 683.1 2345.9 680.4 2347.4 677.9 2349.0 675.3 2350.6 672.7 2352.2 670.2 2353.8 667.8 2355.5 665.4 2357.3 663.1 2359.1 660.8 2361.0 658.6 2363.0 656.5 2365.1 654.5 2367.3 652.6 2369.6 650.8 2372.0 649.2 2374.5 647.6 2377.2 646.2 2380.0 645.0 M2380.0 576.0L2377.1 576.9 2374.3 577.8 2371.4 578.8 2368.5 579.7 2365.7 580.6 2362.8 581.5 2359.9 582.3 2357.1 583.2 2354.2 584.1 2351.3 585.0 2348.4 585.8 2345.6 586.7 2342.7 587.5 2339.8 588.4 2336.9 589.2 2334.0 590.0 2331.1 590.9 2328.3 591.7 2325.4 592.5 2322.5 593.3 2319.6 594.1 2316.7 594.9 2313.8 595.7 2310.9 596.5 2308.0 597.2 2305.1 598.0 2302.2 598.8 2299.3 599.5 2296.4 600.3 2293.5 601.0 2290.6 601.8 2287.7 602.5 2284.8 603.2 2281.9 603.9 2279.0 604.7 2276.1 605.4 2273.2 606.1 2270.3 606.8 2267.4 607.5 2264.4 608.1 2261.5 608.8 2258.6 609.5 2255.7 610.2 2252.8 610.8 2249.9 611.5 2246.9 612.1 2244.0 612.8 2241.1 613.4 2238.2 614.1 2235.2 614.7 2232.3 615.3 2229.4 615.9 2226.5 616.5 2223.5 617.1 2220.6 617.7 2217.7 618.3 2214.7 618.9 2211.8 619.5 2208.9 620.1 2205.9 620.7 2203.0 621.2 2200.1 621.8 2197.1 622.4 2194.2 622.9 2191.3 623.5 2188.3 624.0 2185.4 624.5 2182.4 625.1 2179.5 625.6 2176.5 626.1 2173.6 626.6 2170.6 627.2 2167.7 627.7 2164.7 628.2 2161.8 628.7 2158.8 629.1 2155.9 629.6 2152.9 630.1 2150.0 630.6 2147.0 631.1 2144.1 631.5 2141.1 632.0 2138.2 632.4 2135.2 632.9 2132.3 633.3 2129.3 633.8 2126.3 634.2 2123.4 634.7 2120.4 635.1 2117.5 635.5 2114.5 635.9 2111.5 636.3 2108.6 636.7 2105.6 637.2 2102.6 637.6 2099.7 637.9 2096.7 638.3 2093.7 638.7 2090.8 639.1 2087.8 639.5 2084.8 639.9 2081.8 640.2 2078.9 640.6 2075.9 640.9 2072.9 641.3 2070.0 641.6 2067.0 642.0 2064.0 642.3 2061.0 642.7 2058.1 643.0 2055.1 643.3 2052.1 643.7 2049.1 644.0 2046.1 644.3 2043.2 644.6 2040.2 644.9 2037.2 645.2 2034.2 645.5 2031.2 645.8 2028.3 646.1 2025.3 646.4 2022.3 646.7 2019.3 646.9 2016.3 647.2 2013.3 647.5 2010.4 647.7 2007.4 648.0 2004.4 648.3 2001.4 648.5 1998.4 648.8 1995.4 649.0 1992.4 649.3 1989.4 649.5 1986.5 649.7 1983.5 650.0 1980.5 650.2 1977.5 650.4 1974.5 650.6 1971.5 650.9 1968.5 651.1 1965.5 651.3 1962.5 651.5 1959.5 651.7 1956.5 651.9 1953.5 652.1 1950.6 652.3 1947.6 652.4 1944.6 652.6 1941.6 652.8 1938.6 653.0 1935.6 653.2 1932.6 653.3 1929.6 653.5 1926.6 653.7 1923.6 653.8 1920.6 654.0 1917.6 654.1 1914.6 654.3 1911.6 654.4 1908.6 654.6 1905.6 654.7 1902.6 654.8 1899.6 655.0 1896.6 655.1 1893.6 655.2 1890.6 655.3 1887.6 655.5 1884.6 655.6 1881.6 655.7 1878.6 655.8 1875.6 655.9 1872.6 656.0 1869.6 656.1 1866.6 656.2 1863.6 656.3 1860.6 656.4 1857.6 656.5 1854.6 656.6 1851.6 656.7 1848.6 656.7 1845.6 656.8 1842.6 656.9 1839.6 657.0 1836.6 657.0 1833.6 657.1 1830.6 657.2 1827.6 657.2 1824.6 657.3 1821.6 657.4 1818.6 657.4 1815.6 657.5 1812.6 657.5 1809.6 657.5 1806.6 657.6 1803.6 657.6 1800.6 657.7 1797.5 657.7 1794.5 657.7 1791.5 657.8 1788.5 657.8 1785.5 657.8 1782.5 657.8 1779.5 657.9 1776.5 657.9 1773.5 657.9 1770.5 657.9 1767.5 657.9 1764.5 657.9 1761.5 657.9 1758.5 657.9 1755.5 657.9 1752.5 657.9 1749.5 657.9 1746.5 657.9 1743.5 657.9 1740.5 657.9 1737.5 657.9 1734.5 657.9 1731.5 657.9 1728.5 657.9 1725.5 657.8 1722.5 657.8 1719.5 657.8 1716.5 657.8 1713.5 657.7 1710.5 657.7 1707.5 657.7 1704.5 657.7 1701.5 657.6 1698.5 657.6 1695.5 657.5 1692.5 657.5 1689.5 657.5 1686.5 657.4 1683.5 657.4 1680.5 657.3 1677.5 657.3 1674.6 657.2 1671.6 657.2 1668.6 657.1 1665.6 657.1 1662.6 657.0 1659.6 657.0 1656.6 656.9 1653.6 656.8 1650.6 656.8 1647.6 656.7 1644.6 656.6 1641.6 656.6 1638.6 656.5 1635.6 656.4 1632.7 656.4 1629.7 656.3 1626.7 656.2 1623.7 656.1 1620.7 656.1 1617.7 656.0 1614.7 655.9 1611.7 655.8 1608.8 655.7 1605.8 655.6 1602.8 655.6 1599.8 655.5 1596.8 655.4 1593.8 655.3 1590.8 655.2 1587.9 655.1 1584.9 655.0 1581.9 654.9 1578.9 654.8 1575.9 654.7 1572.9 654.6 1570.0 654.4 1567.0 654.3 1564.0 654.2 1561.0 654.1 1558.0 654.0 1555.1 653.8 1552.1 653.7 1549.1 653.6 1546.1 653.5 1543.1 653.3 1540.2 653.2 1537.2 653.0 1534.2 652.9 1531.2 652.8 1528.2 652.6 1525.3 652.5 1522.3 652.3 1519.3 652.1 1516.3 652.0 1513.3 651.8 1510.4 651.7 1507.4 651.5 1504.4 651.3 1501.4 651.1 1498.5 651.0 1495.5 650.8 1492.5 650.6 1489.5 650.4 1486.6 650.2 1483.6 650.0 1480.6 649.8 1477.6 649.6 1474.7 649.4 1471.7 649.2 1468.7 649.0 1465.7 648.7 1462.8 648.5 1459.8 648.3 1456.8 648.1 1453.8 647.8 1450.9 647.6 1447.9 647.4 1444.9 647.1 1441.9 646.9 1439.0 646.6 1436.0 646.3 1433.0 646.1 1430.0 645.8 1427.1 645.5 1424.1 645.3 1421.1 645.0 1418.2 644.7 1415.2 644.4 1412.2 644.1 1409.2 643.8 1406.3 643.5 1403.3 643.2 1400.3 642.9 1397.3 642.6 1394.4 642.3 1391.4 641.9 1388.4 641.6 1385.4 641.3 1382.5 640.9 1379.5 640.6 1376.5 640.2 1373.6 639.9 1370.6 639.5 1367.6 639.2 1364.6 638.8 1361.7 638.4 1358.7 638.0 1355.7 637.6 1352.7 637.2 1349.8 636.9 1346.8 636.5 1343.8 636.0 1340.8 635.6 1337.9 635.2 1334.9 634.8 1331.9 634.4 1328.9 633.9 1326.0 633.5 1323.0 633.0 1320.0 632.6 1317.0 632.1 1314.1 631.7 1311.1 631.2 1308.1 630.7 1305.1 630.2 1302.2 629.7 1299.2 629.3 1296.2 628.8 1293.2 628.2 1290.3 627.7 1287.3 627.2 1284.3 626.7 1281.3 626.2 1278.4 625.6 1275.4 625.1 1272.4 624.5 1269.4 624.0 1266.4 623.4 1263.5 622.8 1260.5 622.3 1257.5 621.7 1254.5 621.1 1251.6 620.5 1248.6 619.9 1245.6 619.3 1242.6 618.7 1239.6 618.1 1236.7 617.4 1233.7 616.8 1230.7 616.1 1227.7 615.5 1224.7 614.8 1221.7 614.2 1218.8 613.5 1215.8 612.8 1212.8 612.2 1209.8 611.5 1206.8 610.9 1203.9 610.2 1200.9 609.6 1197.9 609.0 1195.0 608.4 1192.0 607.9 1189.0 607.4 1186.1 606.9 1183.1 606.4 1180.2 606.0 1177.2 605.6 1174.3 605.2 1171.4 604.9 1168.4 604.7 1165.5 604.5 1162.6 604.3 1159.7 604.2 1156.8 604.2 1153.9 604.2 1151.0 604.3 1148.2 604.4 1145.3 604.7 1142.5 605.0 1139.6 605.3 1136.8 605.8 1133.9 606.3 1131.1 606.9 1128.3 607.7 1125.5 608.5 1122.8 609.3 1120.0 610.3 1117.2 611.4 1114.5 612.5 1111.8 613.7 1109.1 615.0 1106.4 616.3 1103.8 617.7 1101.2 619.2 1098.6 620.8 1096.0 622.4 1093.5 624.0 1091.0 625.7 1088.5 627.5 1086.1 629.3 1083.7 631.2 1081.3 633.1 1079.0 635.0 1076.7 637.0 1074.4 639.0 1072.2 641.1 1070.0 643.2 1067.9 645.3 1065.7 647.4 1063.6 649.5 1061.5 651.7 1059.5 653.9 1057.4 656.1 1055.4 658.3 1053.4 660.6 1051.4 662.8 1049.4 665.0 1047.4 667.3 1045.4 669.5 1043.4 671.7 1041.4 673.9 1039.4 676.2 1037.4 678.4 1035.3 680.6 1033.3 682.7 1031.3 684.9 1029.2 687.0 1027.1 689.1 1025.0 691.2 1022.9 693.3 1020.8 695.4 1018.7 697.5 1016.5 699.5 1014.3 701.6 1012.1 703.6 1009.9 705.6 1007.7 707.6 1005.4 709.6 1003.2 711.6 1000.9 713.6 998.6 715.5 996.3 717.4 994.0 719.4 991.6 721.3 989.3 723.1 986.9 725.0 984.5 726.9 982.1 728.7 979.7 730.5 977.3 732.3 974.8 734.1 972.4 735.9 969.9 737.6 967.4 739.4 964.9 741.1 962.4 742.8 959.9 744.5 957.4 746.1 954.9 747.8 952.3 749.4 949.8 751.0 947.2 752.5 944.6 754.1 942.0 755.6 939.4 757.1 936.8 758.6 934.2 760.1 931.6 761.5 929.0 763.0 926.3 764.4 923.7 765.8 921.0 767.1 918.4 768.5 915.7 769.8 913.0 771.1 910.3 772.4 907.6 773.6 904.9 774.9 902.2 776.1 899.5 777.3 896.8 778.5 894.1 779.7 891.3 780.8 888.6 782.0 885.8 783.1 883.1 784.2 880.3 785.3 877.6 786.3 874.8 787.4 872.0 788.4 869.2 789.4 866.4 790.4 863.6 791.4 860.8 792.3 858.0 793.3 855.2 794.2 852.3 795.2 849.5 796.1 846.7 796.9 843.8 797.8 841.0 798.7 838.1 799.5 835.3 800.4 832.4 801.2 829.5 802.0 826.7 802.8 823.8 803.6 820.9 804.3 818.0 805.1 815.1 805.8 812.2 806.5 809.3 807.3 806.4 808.0 803.5 808.7 800.6 809.3 797.7 810.0 794.8 810.7 791.8 811.3 788.9 812.0 786.0 812.6 783.0 813.2 780.1 813.8 777.2 814.4 774.2 815.0 771.3 815.6 768.3 816.2 765.4 816.7 762.4 817.3 759.5 817.8 756.5 818.4 753.5 818.9 750.6 819.4 747.6 819.9 744.6 820.4 741.6 821.0 738.7 821.4 735.7 821.9 732.7 822.4 729.7 822.9 726.8 823.4 723.8 823.8 720.8 824.3 717.8 824.7 714.8 825.2 711.8 825.6 708.8 826.1 705.8 826.5 702.9 826.9 699.9 827.4 696.9 827.8 693.9 828.2 690.9 828.6 687.9 829.0 684.9 829.4 681.9 829.8 678.9 830.2 675.9 830.6 672.9 831.0 669.9 831.4 666.9 831.8 663.9 832.2 660.9 832.6 657.9 833.0 654.9 833.4 652.0 833.8 649.0 834.2 646.0 834.6 643.0 835.0 640.0 835.3 637.0 835.7 634.0 836.1 631.0 836.5 628.1 836.9 625.1 837.3 622.1 837.7 619.1 838.1 616.1 838.5 613.1 838.9 610.2 839.2 607.2 839.6 604.2 840.0 601.2 840.4 598.3 840.8 595.3 841.2 592.3 841.6 589.3 842.0 586.4 842.4 583.4 842.8 580.4 843.2 577.4 843.5 574.5 843.9 571.5 844.3 568.5 844.7 565.6 845.1 562.6 845.5 559.6 845.9 556.7 846.3 553.7 846.7 550.7 847.1 547.8 847.5 544.8 847.9 541.8 848.3 538.9 848.7 535.9 849.1 533.0 849.5 530.0 849.9 527.0 850.3 524.1 850.7 521.1 851.1 518.2 851.5 515.2 851.9 512.2 852.3 509.3 852.7 506.3 853.2 503.4 853.6 500.4 854.0 497.5 854.4 494.5 854.8 491.6 855.2 488.6 855.6 485.6 856.1 482.7 856.5 479.7 856.9 476.8 857.3 473.8 857.7 470.9 858.2 467.9 858.6 465.0 859.0 462.0 859.4 459.1 859.9 456.1 860.3 453.2 860.7 450.2 861.2 447.3 861.6 444.3 862.0 441.4 862.5 438.4 862.9 435.5 863.4 432.5 863.8 429.6 864.3 426.6 864.7 423.7 865.1 420.7 865.6 417.8 866.1 414.8 866.5 411.9 867.0 408.9 867.4 406.0 867.9 403.0 868.3 400.1 868.8 397.1 869.3 394.2 869.7 391.2 870.2 388.3 870.7 385.4 871.2 382.4 871.6 379.5 872.1 376.5 872.6 373.6 873.1 370.6 873.6 367.7 874.0 364.7 874.5 361.8 875.0 358.8 875.5 355.9 876.0 352.9 876.5 350.0 877.0 347.0 877.5 344.1 878.0 341.1 878.5 338.2 879.0 335.2 879.5 332.3 880.1 329.4 880.6 326.4 881.1 323.5 881.6 320.5 882.1 317.6 882.7 314.6 883.2 311.7 883.7 308.7 884.3 305.8 884.8 302.8 885.4 299.9 885.9 296.9 886.5 294.0 887.0 291.0 887.6 288.1 888.1 285.1 888.7 282.1 889.2 279.2 889.8 276.2 890.4 273.3 890.9 270.3 891.5 267.4 892.1 264.4 892.7 261.5 893.3 258.5 893.8 255.6 894.4 252.6 895.0 249.6 895.6 246.7 896.2 243.7 896.8 240.8 897.4 237.8 898.0 234.9 898.7 231.9 899.3 228.9 899.9 226.0 900.5 223.0 901.1 220.1 901.8 217.1 902.4 214.1 903.0 211.2 903.7 208.2 904.3 205.2 905.0 202.3 905.6 199.3 906.3 196.3 906.9 193.4 907.6 190.4 908.3 187.5 909.0 184.5 909.6 181.5 910.3 178.6 911.1 175.7 911.8 172.8 912.6 169.9 913.4 167.0 914.3 164.2 915.1 161.3 916.1 158.6 917.1 155.8 918.1 153.1 919.2 150.4 920.3 147.8 921.5 145.2 922.8 142.6 924.2 140.1 925.6 137.7 927.1 135.3 928.7 133.0 930.4 130.7 932.2 128.5 934.1 126.4 936.1 124.3 938.1 122.3 940.3 120.4 942.6 118.5 945.1 116.8 947.6 115.1 950.3 113.5 953.1 112.0 956.0" stroke="#9400d3"/>
<path d="M97.0 1098.0L100.0 1097.7 102.9 1097.4 105.9 1097.1 108.8 1096.9 111.8 1096.6 114.8 1096.3 117.7 1096.0 120.7 1095.7 123.7 1095.4 126.6 1095.1 129.6 1094.8 132.6 1094.5 135.5 1094.2 138.5 1093.9 141.5 1093.6 144.4 1093.3 147.4 1093.0 150.4 1092.7 153.3 1092.4 156.3 1092.0 159.3 1091.7 162.3 1091.4 165.2 1091.1 168.2 1090.8 171.2 1090.5 174.2 1090.2 177.1 1089.8 180.1 1089.5 183.1 1089.2 186.1 1088.9 189.0 1088.5 192.0 1088.2 195.0 1087.9 198.0 1087.6 200.9 1087.2 203.9 1086.9 206.9 1086.6 209.9 1086.2 212.8 1085.9 215.8 1085.6 218.8 1085.2 221.8 1084.9 224.8 1084.6 227.8 1084.2 230.7 1083.9 233.7 1083.6 236.7 1083.2 239.7 1082.9 242.7 1082.6 245.6 1082.2 248.6 1081.9 251.6 1081.6 254.6 1081.2 257.6 1080.9 260.6 1080.5 263.6 1080.2 266.5 1079.9 269.5 1079.5 272.5 1079.2 275.5 1078.9 278.5 1078.5 281.5 1078.2 284.5 1077.8 287.4 1077.5 290.4 1077.2 293.4 1076.8 296.4 1076.5 299.4 1076.2 302.4 1075.8 305.4 1075.5 308.4 1075.1 311.4 1074.8 314.3 1074.5 317.3 1074.1 320.3 1073.8 323.3 1073.5 326.3 1073.1 329.3 1072.8 332.3 1072.5 335.3 1072.2 338.3 1071.8 341.3 1071.5 344.3 1071.2 347.3 1070.8 350.2 1070.5 353.2 1070.2 356.2 1069.9 359.2 1069.5 362.2 1069.2 365.2 1068.9 368.2 1068.6 371.2 1068.3 374.2 1067.9 377.2 1067.6 380.2 1067.3 383.2 1067.0 386.2 1066.7 389.2 1066.4 392.2 1066.1 395.2 1065.8 398.2 1065.5 401.1 1065.1 404.1 1064.8 407.1 1064.5 410.1 1064.2 413.1 1063.9 416.1 1063.6 419.1 1063.4 422.1 1063.1 425.1 1062.8 428.1 1062.5 431.1 1062.2 434.1 1061.9 437.1 1061.6 440.1 1061.3 443.1 1061.1 446.1 1060.8 449.1 1060.5 452.1 1060.2 455.1 1060.0 458.1 1059.7 461.1 1059.4 464.1 1059.2 467.1 1058.9 470.1 1058.6 473.1 1058.4 476.1 1058.1 479.1 1057.9 482.1 1057.6 485.1 1057.4 488.0 1057.1 491.0 1056.9 494.0 1056.6 497.0 1056.4 500.0 1056.2 503.0 1055.9 506.0 1055.7 509.0 1055.5 512.0 1055.3 515.0 1055.0 518.0 1054.8 521.0 1054.6 524.0 1054.4 527.0 1054.2 530.0 1054.0 533.0 1053.8 536.0 1053.6 539.0 1053.4 542.0 1053.2 545.0 1053.0 548.0 1052.8 551.0 1052.6 554.0 1052.4 557.0 1052.3 560.0 1052.1 563.0 1051.9 566.0 1051.7 569.0 1051.6 571.9 1051.4 574.9 1051.3 577.9 1051.1 580.9 1051.0 583.9 1050.8 586.9 1050.7 589.9 1050.5 592.9 1050.4 595.9 1050.3 598.9 1050.1 601.9 1050.0 604.9 1049.9 607.9 1049.8 610.9 1049.7 613.9 1049.6 616.9 1049.5 619.9 1049.4 622.8 1049.3 625.8 1049.2 628.8 1049.1 631.8 1049.0 634.8 1048.9 637.8 1048.9 640.8 1048.8 643.8 1048.7 646.8 1048.7 649.8 1048.6 652.8 1048.5 655.8 1048.5 658.7 1048.5 661.7 1048.4 664.7 1048.4 667.7 1048.4 670.7 1048.3 673.7 1048.3 676.7 1048.3 679.7 1048.3 682.7 1048.3 685.6 1048.3 688.6 1048.3 691.6 1048.3 694.6 1048.3 697.6 1048.3 700.6 1048.4 703.6 1048.4 706.5 1048.4 709.5 1048.5 712.5 1048.5 715.5 1048.5 718.5 1048.6 721.5 1048.7 724.4 1048.7 727.4 1048.8 730.4 1048.9 733.4 1049.0 736.4 1049.0 739.4 1049.1 742.3 1049.2 745.3 1049.3 748.3 1049.5 751.3 1049.6 754.3 1049.7 757.2 1049.8 760.2 1050.0 763.2 1050.1 766.2 1050.2 769.2 1050.4 772.1 1050.5 775.1 1050.7 778.1 1050.9 781.1 1051.0 784.0 1051.2 787.0 1051.4 790.0 1051.6 793.0 1051.8 795.9 1052.0 798.9 1052.2 801.9 1052.4 804.8 1052.7 807.8 1052.9 810.8 1053.1 813.8 1053.4 816.7 1053.6 819.7 1053.9 822.7 1054.1 825.6 1054.4 828.6 1054.7 831.6 1054.9 834.5 1055.2 837.5 1055.5 840.5 1055.8 843.4 1056.2 846.4 1056.5 849.4 1056.8 852.3 1057.2 855.3 1057.5 858.3 1057.9 861.2 1058.3 864.2 1058.7 867.2 1059.1 870.1 1059.5 873.1 1059.9 876.1 1060.4 879.0 1060.8 882.0 1061.3 885.0 1061.8 887.9 1062.3 890.9 1062.8 893.9 1063.3 896.8 1063.8 899.8 1064.4 902.8 1065.0 905.7 1065.6 908.7 1066.2 911.7 1066.8 914.6 1067.4 917.6 1068.1 920.6 1068.8 923.5 1069.5 926.5 1070.2 929.5 1070.9 932.4 1071.7 935.4 1072.4 938.4 1073.2 941.4 1074.1 944.3 1074.9 947.3 1075.8 950.3 1076.6 953.2 1077.5 956.2 1078.5 959.2 1079.4 962.2 1080.4 965.1 1081.4 968.1 1082.4 971.1 1083.4 974.1 1084.3 977.0 1085.3 980.0 1086.2 982.9 1087.1 985.9 1087.9 988.8 1088.6 991.7 1089.2 994.7 1089.8 997.5 1090.2 1000.4 1090.5 1003.3 1090.7 1006.1 1090.7 1009.0 1090.7 1011.8 1090.4 1014.6 1090.1 1017.4 1089.6 1020.1 1089.0 1022.9 1088.4 1025.6 1087.6 1028.4 1086.7 1031.1 1085.7 1033.8 1084.7 1036.5 1083.5 1039.1 1082.3 1041.8 1081.0 1044.4 1079.7 1047.1 1078.3 1049.7 1076.8 1052.3 1075.3 1054.9 1073.8 1057.5 1072.2 1060.1 1070.6 1062.7 1069.0 1065.3 1067.4 1067.8 1065.7 1070.4 1064.1 1072.9 1062.4 1075.4 1060.7 1078.0 1059.1 1080.5 1057.4 1083.0 1055.6 1085.5 1053.9 1088.0 1052.2 1090.5 1050.5 1093.0 1048.7 1095.5 1047.0 1098.0 1045.3 1100.5 1043.5 1102.9 1041.8 1105.4 1040.0 1107.9 1038.2 1110.4 1036.5 1112.8 1034.7 1115.3 1033.0 1117.8 1031.2 1120.2 1029.4 1122.7 1027.7 1125.2 1025.9 1127.6 1024.2 1130.1 1022.5 1132.6 1020.7 1135.0 1019.0 1137.5 1017.3 1140.0 1015.5 1142.4 1013.8 1144.9 1012.1 1147.4 1010.4 1149.9 1008.8 1152.4 1007.1 1154.9 1005.4 1157.4 1003.8 1159.9 1002.1 1162.4 1000.5 1164.9 998.9 1167.4 997.3 1169.9 995.7 1172.5 994.2 1175.0 992.6 1177.6 991.1 1180.1 989.6 1182.7 988.1 1185.3 986.6 1187.9 985.2 1190.4 983.8 1193.0 982.4 1195.7 981.0 1198.3 979.6 1200.9 978.3 1203.6 977.0 1206.2 975.7 1208.9 974.4 1211.6 973.2 1214.3 972.0 1217.0 970.8 1219.7 969.6 1222.4 968.5 1225.2 967.4 1228.0 966.4 1230.7 965.3 1233.5 964.3 1236.3 963.4 1239.2 962.4 1242.0 961.5 1244.9 960.6 1247.7 959.8 1250.6 959.0 1253.5 958.2 1256.4 957.4 1259.3 956.7 1262.2 956.0 1265.2 955.3 1268.1 954.6 1271.1 954.0 1274.0 953.4 1277.0 952.8 1280.0 952.2 1283.0 951.6 1286.0 951.1 1289.0 950.6 1292.0 950.1 1295.0 949.6 1298.0 949.1 1301.0 948.7 1304.0 948.2 1307.1 947.8 1310.1 947.4 1313.1 947.0 1316.2 946.6 1319.2 946.2 1322.2 945.8 1325.3 945.5 1328.3 945.1 1331.3 944.8 1334.4 944.5 1337.4 944.1 1340.4 943.8 1343.4 943.5 1346.5 943.2 1349.5 942.9 1352.5 942.6 1355.5 942.3 1358.5 942.0 1361.5 941.7 1364.5 941.4 1367.5 941.1 1370.5 940.8 1373.5 940.5 1376.5 940.2 1379.5 940.0 1382.5 939.7 1385.5 939.4 1388.5 939.2 1391.5 938.9 1394.4 938.6 1397.4 938.4 1400.4 938.1 1403.4 937.9 1406.4 937.6 1409.3 937.4 1412.3 937.1 1415.3 936.9 1418.3 936.6 1421.2 936.4 1424.2 936.1 1427.2 935.9 1430.1 935.6 1433.1 935.4 1436.1 935.1 1439.0 934.9 1442.0 934.7 1445.0 934.4 1447.9 934.2 1450.9 933.9 1453.9 933.7 1456.8 933.5 1459.8 933.2 1462.8 933.0 1465.7 932.7 1468.7 932.5 1471.7 932.2 1474.6 932.0 1477.6 931.7 1480.6 931.5 1483.5 931.2 1486.5 931.0 1489.5 930.7 1492.4 930.5 1495.4 930.2 1498.4 930.0 1501.3 929.7 1504.3 929.4 1507.3 929.2 1510.2 928.9 1513.2 928.6 1516.2 928.4 1519.1 928.1 1522.1 927.8 1525.1 927.6 1528.1 927.3 1531.0 927.0 1534.0 926.7 1537.0 926.5 1540.0 926.2 1542.9 925.9 1545.9 925.6 1548.9 925.4 1551.9 925.1 1554.8 924.8 1557.8 924.5 1560.8 924.2 1563.8 924.0 1566.8 923.7 1569.7 923.4 1572.7 923.1 1575.7 922.8 1578.7 922.6 1581.7 922.3 1584.6 922.0 1587.6 921.7 1590.6 921.4 1593.6 921.1 1596.6 920.9 1599.6 920.6 1602.5 920.3 1605.5 920.0 1608.5 919.7 1611.5 919.4 1614.5 919.2 1617.5 918.9 1620.4 918.6 1623.4 918.3 1626.4 918.0 1629.4 917.7 1632.4 917.5 1635.4 917.2 1638.4 916.9 1641.4 916.6 1644.3 916.3 1647.3 916.1 1650.3 915.8 1653.3 915.5 1656.3 915.2 1659.3 915.0 1662.3 914.7 1665.3 914.4 1668.3 914.1 1671.3 913.9 1674.2 913.6 1677.2 913.3 1680.2 913.1 1683.2 912.8 1686.2 912.5 1689.2 912.3 1692.2 912.0 1695.2 911.8 1698.2 911.5 1701.2 911.2 1704.2 911.0 1707.2 910.7 1710.2 910.5 1713.2 910.2 1716.1 910.0 1719.1 909.7 1722.1 909.5 1725.1 909.2 1728.1 909.0 1731.1 908.7 1734.1 908.5 1737.1 908.2 1740.1 908.0 1743.1 907.7 1746.1 907.5 1749.1 907.3 1752.1 907.0 1755.1 906.8 1758.1 906.5 1761.1 906.3 1764.1 906.1 1767.1 905.8 1770.1 905.6 1773.1 905.3 1776.1 905.1 1779.1 904.8 1782.1 904.6 1785.1 904.4 1788.1 904.1 1791.1 903.9 1794.0 903.6 1797.0 903.4 1800.0 903.1 1803.0 902.9 1806.0 902.7 1809.0 902.4 1812.0 902.2 1815.0 901.9 1818.0 901.7 1821.0 901.4 1824.0 901.2 1827.0 900.9 1830.0 900.6 1833.0 900.4 1836.0 900.1 1839.0 899.9 1842.0 899.6 1844.9 899.3 1847.9 899.1 1850.9 898.8 1853.9 898.5 1856.9 898.3 1859.9 898.0 1862.9 897.7 1865.9 897.5 1868.9 897.2 1871.9 896.9 1874.9 896.6 1877.8 896.3 1880.8 896.0 1883.8 895.7 1886.8 895.5 1889.8 895.2 1892.8 894.9 1895.8 894.6 1898.7 894.3 1901.7 893.9 1904.7 893.6 1907.7 893.3 1910.7 893.0 1913.7 892.7 1916.6 892.4 1919.6 892.0 1922.6 891.7 1925.6 891.4 1928.6 891.0 1931.5 890.7 1934.5 890.4 1937.5 890.0 1940.5 889.7 1943.4 889.3 1946.4 889.0 1949.4 888.6 1952.4 888.2 1955.3 887.9 1958.3 887.5 1961.3 887.1 1964.3 886.7 1967.2 886.3 1970.2 885.9 1973.2 885.5 1976.1 885.1 1979.1 884.7 1982.1 884.3 1985.0 883.9 1988.0 883.5 1991.0 883.1 1993.9 882.6 1996.9 882.2 1999.8 881.8 2002.8 881.3 2005.8 880.9 2008.7 880.4 2011.7 879.9 2014.6 879.5 2017.6 879.0 2020.5 878.5 2023.5 878.0 2026.4 877.6 2029.4 877.1 2032.3 876.6 2035.3 876.0 2038.2 875.5 2041.2 875.0 2044.1 874.5 2047.1 874.0 2050.0 873.4 2053.0 872.9 2055.9 872.3 2058.8 871.8 2061.8 871.2 2064.7 870.6 2067.6 870.1 2070.6 869.5 2073.5 868.9 2076.4 868.3 2079.4 867.7 2082.3 867.0 2085.2 866.4 2088.1 865.8 2091.1 865.1 2094.0 864.5 2096.9 863.8 2099.8 863.2 2102.7 862.5 2105.6 861.8 2108.5 861.1 2111.4 860.4 2114.3 859.7 2117.2 859.0 2120.1 858.2 2123.0 857.5 2125.9 856.7 2128.8 856.0 2131.7 855.2 2134.6 854.4 2137.5 853.6 2140.3 852.8 2143.2 852.0 2146.1 851.1 2149.0 850.3 2151.8 849.4 2154.7 848.6 2157.5 847.7 2160.4 846.8 2163.3 845.9 2166.1 845.0 2169.0 844.1 2171.8 843.1 2174.6 842.2 2177.5 841.2 2180.3 840.2 2183.1 839.2 2186.0 838.2 2188.8 837.2 2191.6 836.2 2194.4 835.2 2197.2 834.1 2200.0 833.0 2202.8 831.9 2205.6 830.8 2208.4 829.7 2211.2 828.6 2214.0 827.4 2216.8 826.3 2219.5 825.1 2222.3 823.9 2225.1 822.7 2227.8 821.5 2230.6 820.3 2233.3 819.0 2236.1 817.7 2238.8 816.5 2241.6 815.2 2244.3 813.8 2247.0 812.5 2249.7 811.1 2252.4 809.8 2255.1 808.4 2257.7 806.9 2260.4 805.5 2263.0 804.0 2265.7 802.6 2268.3 801.1 2270.9 799.5 2273.5 798.0 2276.0 796.4 2278.6 794.8 2281.1 793.2 2283.6 791.6 2286.1 789.9 2288.6 788.2 2291.1 786.5 2293.5 784.8 2295.9 783.0 2298.3 781.2 2300.7 779.4 2303.0 777.5 2305.4 775.7 2307.7 773.8 2309.9 771.8 2312.2 769.9 2314.4 767.9 2316.6 765.9 2318.8 763.8 2320.9 761.7 2323.0 759.6 2325.1 757.5 2327.1 755.3 2329.2 753.1 2331.1 750.8 2333.1 748.6 2335.0 746.2 2336.9 743.9 2338.7 741.5 2340.6 739.1 2342.3 736.7 2344.1 734.2 2345.8 731.7 2347.5 729.2 2349.1 726.7 2350.8 724.2 2352.4 721.6 2353.9 719.1 2355.5 716.6 2357.0 714.0 2358.5 711.5 2359.9 709.0 2361.4 706.4 2362.8 703.9 2364.2 701.5 2365.5 699.0 2366.9 696.6 2368.3 694.3 2369.9 692.2 2371.8 690.4 2374.0 689.1 2376.7 688.2 2380.0 688.0 M2380.0 640.0L2377.0 640.3 2374.0 640.6 2371.1 641.0 2368.1 641.5 2365.1 642.0 2362.2 642.5 2359.3 643.1 2356.3 643.7 2353.4 644.4 2350.5 645.1 2347.6 645.8 2344.7 646.6 2341.8 647.3 2338.9 648.2 2336.1 649.0 2333.2 649.8 2330.3 650.7 2327.4 651.6 2324.6 652.5 2321.7 653.4 2318.8 654.2 2316.0 655.1 2313.1 656.0 2310.2 656.9 2307.3 657.8 2304.5 658.7 2301.6 659.5 2298.7 660.4 2295.8 661.2 2292.9 662.0 2290.1 662.8 2287.2 663.5 2284.3 664.3 2281.4 665.0 2278.5 665.7 2275.5 666.4 2272.6 667.0 2269.7 667.7 2266.8 668.3 2263.9 669.0 2260.9 669.6 2258.0 670.2 2255.1 670.8 2252.1 671.3 2249.2 671.9 2246.3 672.4 2243.3 673.0 2240.4 673.5 2237.4 674.0 2234.5 674.5 2231.5 675.0 2228.6 675.5 2225.6 676.0 2222.7 676.5 2219.7 677.0 2216.8 677.5 2213.8 677.9 2210.9 678.4 2207.9 678.8 2204.9 679.3 2202.0 679.7 2199.0 680.2 2196.0 680.7 2193.1 681.1 2190.1 681.5 2187.2 682.0 2184.2 682.5 2181.2 682.9 2178.3 683.4 2175.3 683.8 2172.3 684.3 2169.4 684.7 2166.4 685.2 2163.4 685.7 2160.5 686.1 2157.5 686.6 2154.6 687.1 2151.6 687.6 2148.6 688.0 2145.7 688.5 2142.7 689.0 2139.7 689.5 2136.8 689.9 2133.8 690.4 2130.8 690.9 2127.9 691.4 2124.9 691.8 2122.0 692.3 2119.0 692.8 2116.0 693.3 2113.1 693.7 2110.1 694.2 2107.1 694.7 2104.2 695.2 2101.2 695.6 2098.2 696.1 2095.3 696.6 2092.3 697.0 2089.4 697.5 2086.4 698.0 2083.4 698.4 2080.5 698.9 2077.5 699.3 2074.5 699.8 2071.6 700.2 2068.6 700.7 2065.6 701.1 2062.7 701.5 2059.7 702.0 2056.7 702.4 2053.8 702.8 2050.8 703.3 2047.8 703.7 2044.9 704.1 2041.9 704.5 2038.9 704.9 2035.9 705.3 2033.0 705.7 2030.0 706.1 2027.0 706.5 2024.1 706.9 2021.1 707.2 2018.1 707.6 2015.1 708.0 2012.2 708.3 2009.2 708.7 2006.2 709.0 2003.3 709.3 2000.3 709.7 1997.3 710.0 1994.3 710.3 1991.4 710.6 1988.4 710.9 1985.4 711.2 1982.4 711.5 1979.4 711.8 1976.5 712.1 1973.5 712.4 1970.5 712.6 1967.5 712.9 1964.6 713.1 1961.6 713.4 1958.6 713.6 1955.6 713.9 1952.6 714.1 1949.6 714.3 1946.7 714.5 1943.7 714.8 1940.7 715.0 1937.7 715.2 1934.7 715.4 1931.7 715.6 1928.8 715.8 1925.8 716.0 1922.8 716.1 1919.8 716.3 1916.8 716.5 1913.8 716.7 1910.8 716.8 1907.9 717.0 1904.9 717.2 1901.9 717.3 1898.9 717.5 1895.9 717.6 1892.9 717.8 1889.9 717.9 1886.9 718.0 1884.0 718.2 1881.0 718.3 1878.0 718.4 1875.0 718.5 1872.0 718.7 1869.0 718.8 1866.0 718.9 1863.0 719.0 1860.0 719.1 1857.0 719.2 1854.0 719.4 1851.0 719.5 1848.0 719.6 1845.1 719.7 1842.1 719.8 1839.1 719.9 1836.1 720.0 1833.1 720.0 1830.1 720.1 1827.1 720.2 1824.1 720.3 1821.1 720.4 1818.1 720.5 1815.1 720.6 1812.1 720.7 1809.1 720.8 1806.1 720.8 1803.1 720.9 1800.1 721.0 1797.1 721.1 1794.1 721.2 1791.1 721.3 1788.1 721.3 1785.1 721.4 1782.1 721.5 1779.1 721.6 1776.1 721.7 1773.1 721.8 1770.1 721.8 1767.1 721.9 1764.1 722.0 1761.1 722.1 1758.1 722.2 1755.1 722.3 1752.1 722.4 1749.1 722.4 1746.1 722.5 1743.1 722.6 1740.1 722.7 1737.1 722.8 1734.1 722.9 1731.1 723.0 1728.1 723.1 1725.1 723.2 1722.1 723.3 1719.1 723.4 1716.1 723.5 1713.1 723.6 1710.1 723.7 1707.1 723.8 1704.1 723.9 1701.1 724.0 1698.1 724.1 1695.1 724.2 1692.1 724.3 1689.1 724.4 1686.1 724.5 1683.1 724.6 1680.1 724.7 1677.1 724.8 1674.1 724.8 1671.1 724.9 1668.1 725.0 1665.1 725.1 1662.1 725.2 1659.1 725.2 1656.1 725.3 1653.1 725.4 1650.1 725.4 1647.1 725.5 1644.1 725.5 1641.1 725.6 1638.1 725.6 1635.1 725.7 1632.1 725.7 1629.1 725.7 1626.1 725.8 1623.1 725.8 1620.1 725.8 1617.1 725.8 1614.1 725.8 1611.1 725.8 1608.1 725.8 1605.1 725.8 1602.1 725.8 1599.1 725.7 1596.1 725.7 1593.1 725.7 1590.2 725.6 1587.2 725.5 1584.2 725.5 1581.2 725.4 1578.2 725.3 1575.2 725.2 1572.2 725.1 1569.2 725.0 1566.2 724.9 1563.2 724.8 1560.3 724.7 1557.3 724.5 1554.3 724.4 1551.3 724.2 1548.3 724.0 1545.3 723.9 1542.4 723.7 1539.4 723.5 1536.4 723.3 1533.4 723.0 1530.4 722.8 1527.4 722.6 1524.5 722.3 1521.5 722.0 1518.5 721.8 1515.5 721.5 1512.6 721.2 1509.6 720.9 1506.6 720.5 1503.6 720.2 1500.7 719.8 1497.7 719.5 1494.7 719.1 1491.8 718.7 1488.8 718.3 1485.8 717.9 1482.9 717.5 1479.9 717.0 1476.9 716.6 1474.0 716.1 1471.0 715.6 1468.0 715.1 1465.1 714.7 1462.1 714.1 1459.2 713.6 1456.2 713.1 1453.3 712.6 1450.3 712.0 1447.4 711.4 1444.5 710.9 1441.5 710.3 1438.6 709.7 1435.6 709.1 1432.7 708.5 1429.8 707.8 1426.9 707.2 1423.9 706.6 1421.0 705.9 1418.1 705.2 1415.2 704.6 1412.3 703.9 1409.4 703.2 1406.5 702.5 1403.6 701.8 1400.7 701.1 1397.8 700.3 1394.9 699.6 1392.0 698.9 1389.1 698.1 1386.3 697.3 1383.4 696.6 1380.5 695.8 1377.6 695.0 1374.8 694.2 1371.9 693.4 1369.0 692.6 1366.1 691.8 1363.3 690.9 1360.4 690.1 1357.5 689.3 1354.7 688.4 1351.8 687.5 1348.9 686.7 1346.1 685.8 1343.2 684.9 1340.3 684.0 1337.5 683.1 1334.6 682.2 1331.7 681.2 1328.8 680.3 1326.0 679.4 1323.1 678.4 1320.2 677.4 1317.3 676.5 1314.4 675.5 1311.6 674.5 1308.7 673.5 1305.8 672.5 1303.0 671.4 1300.1 670.4 1297.3 669.3 1294.5 668.2 1291.6 667.1 1288.8 666.0 1286.0 664.9 1283.3 663.7 1280.5 662.5 1277.8 661.3 1275.1 660.0 1272.4 658.8 1269.7 657.5 1267.1 656.2 1264.4 654.8 1261.8 653.5 1259.3 652.1 1256.7 650.6 1254.2 649.2 1251.8 647.7 1249.3 646.1 1246.9 644.6 1244.5 643.0 1242.2 641.3 1239.8 639.6 1237.5 637.9 1235.3 636.1 1233.0 634.3 1230.8 632.4 1228.5 630.5 1226.3 628.5 1224.1 626.4 1222.0 624.3 1219.8 622.2 1217.6 620.0 1215.4 617.8 1213.3 615.5 1211.1 613.2 1209.0 610.9 1206.8 608.6 1204.6 606.3 1202.5 604.0 1200.3 601.6 1198.1 599.3 1195.9 597.0 1193.7 594.8 1191.5 592.5 1189.3 590.3 1187.1 588.1 1184.8 585.9 1182.6 583.8 1180.3 581.8 1178.0 579.8 1175.6 577.9 1173.3 576.0 1170.9 574.3 1168.5 572.6 1166.0 570.9 1163.5 569.4 1161.0 568.0 1158.5 566.7 1155.9 565.5 1153.3 564.4 1150.7 563.4 1148.0 562.5 1145.2 561.8 1142.5 561.2 1139.6 560.8 1136.8 560.5 1134.0 560.5 1131.2 560.6 1128.4 561.0 1125.6 561.6 1122.9 562.4 1120.3 563.5 1117.7 564.9 1115.2 566.5 1112.8 568.3 1110.4 570.3 1108.1 572.3 1105.9 574.3 1103.7 576.4 1101.5 578.6 1099.4 580.8 1097.4 583.0 1095.4 585.3 1093.4 587.6 1091.5 589.9 1089.6 592.3 1087.7 594.7 1085.9 597.1 1084.1 599.6 1082.3 602.0 1080.5 604.5 1078.8 607.0 1077.1 609.5 1075.4 612.0 1073.7 614.6 1072.1 617.1 1070.4 619.6 1068.8 622.2 1067.2 624.7 1065.5 627.3 1063.9 629.8 1062.3 632.4 1060.6 634.9 1059.0 637.4 1057.4 639.9 1055.7 642.4 1054.1 644.9 1052.4 647.3 1050.7 649.8 1049.1 652.2 1047.4 654.6 1045.7 657.0 1044.0 659.4 1042.3 661.8 1040.6 664.2 1038.8 666.6 1037.1 669.0 1035.4 671.3 1033.6 673.7 1031.9 676.1 1030.2 678.5 1028.4 680.8 1026.7 683.2 1024.9 685.6 1023.2 688.0 1021.4 690.4 1019.6 692.8 1017.9 695.2 1016.1 697.6 1014.4 700.0 1012.6 702.4 1010.8 704.9 1009.1 707.3 1007.3 709.8 1005.5 712.3 1003.7 714.7 1002.0 717.2 1000.2 719.7 998.4 722.2 996.6 724.6 994.7 727.1 992.9 729.5 991.1 732.0 989.2 734.4 987.4 736.8 985.5 739.3 983.6 741.7 981.7 744.0 979.8 746.4 977.9 748.8 975.9 751.1 973.9 753.4 972.0 755.7 969.9 757.9 967.9 760.2 965.9 762.4 963.8 764.5 961.7 766.7 959.6 768.8 957.4 770.9 955.2 772.9 953.0 774.9 950.8 776.9 948.6 778.8 946.3 780.7 944.0 782.5 941.6 784.3 939.2 786.0 936.8 787.8 934.4 789.4 932.0 791.1 929.5 792.7 927.0 794.2 924.4 795.7 921.9 797.2 919.3 798.7 916.7 800.1 914.1 801.5 911.5 802.8 908.8 804.1 906.1 805.4 903.4 806.7 900.7 807.9 898.0 809.1 895.3 810.3 892.5 811.4 889.7 812.5 887.0 813.6 884.2 814.7 881.4 815.8 878.5 816.8 875.7 817.8 872.9 818.8 870.0 819.8 867.2 820.7 864.3 821.6 861.4 822.6 858.5 823.5 855.7 824.3 852.8 825.2 849.9 826.1 847.0 826.9 844.1 827.7 841.2 828.6 838.3 829.4 835.4 830.2 832.5 830.9 829.6 831.7 826.7 832.5 823.8 833.2 820.9 834.0 818.0 834.7 815.1 835.4 812.1 836.1 809.2 836.8 806.3 837.5 803.4 838.2 800.5 838.9 797.5 839.5 794.6 840.2 791.7 840.8 788.7 841.4 785.8 842.0 782.9 842.7 779.9 843.3 777.0 843.9 774.1 844.4 771.1 845.0 768.2 845.6 765.2 846.1 762.3 846.7 759.4 847.2 756.4 847.8 753.5 848.3 750.5 848.8 747.6 849.3 744.6 849.8 741.7 850.3 738.7 850.8 735.8 851.3 732.8 851.8 729.8 852.2 726.9 852.7 723.9 853.2 721.0 853.6 718.0 854.1 715.0 854.5 712.1 854.9 709.1 855.4 706.1 855.8 703.2 856.2 700.2 856.6 697.2 857.0 694.3 857.4 691.3 857.8 688.3 858.2 685.3 858.6 682.4 858.9 679.4 859.3 676.4 859.7 673.4 860.0 670.5 860.4 667.5 860.8 664.5 861.1 661.5 861.5 658.6 861.8 655.6 862.2 652.6 862.5 649.6 862.8 646.6 863.2 643.7 863.5 640.7 863.8 637.7 864.1 634.7 864.5 631.7 864.8 628.8 865.1 625.8 865.4 622.8 865.7 619.8 866.0 616.8 866.3 613.8 866.6 610.8 867.0 607.9 867.3 604.9 867.6 601.9 867.9 598.9 868.2 595.9 868.5 592.9 868.8 590.0 869.1 587.0 869.4 584.0 869.6 581.0 869.9 578.0 870.2 575.0 870.5 572.0 870.8 569.1 871.1 566.1 871.4 563.1 871.7 560.1 872.0 557.1 872.3 554.1 872.6 551.2 872.9 548.2 873.2 545.2 873.5 542.2 873.8 539.2 874.1 536.2 874.4 533.3 874.7 530.3 875.0 527.3 875.3 524.3 875.6 521.3 875.9 518.4 876.3 515.4 876.6 512.4 876.9 509.4 877.2 506.4 877.5 503.5 877.8 500.5 878.1 497.5 878.4 494.5 878.7 491.5 879.0 488.6 879.3 485.6 879.6 482.6 879.9 479.6 880.2 476.6 880.6 473.7 880.9 470.7 881.2 467.7 881.5 464.7 881.8 461.7 882.1 458.8 882.4 455.8 882.7 452.8 883.0 449.8 883.4 446.8 883.7 443.9 884.0 440.9 884.3 437.9 884.6 434.9 884.9 432.0 885.2 429.0 885.5 426.0 885.9 423.0 886.2 420.0 886.5 417.1 886.8 414.1 887.1 411.1 887.4 408.1 887.7 405.2 888.1 402.2 888.4 399.2 888.7 396.2 889.0 393.2 889.3 390.3 889.6 387.3 890.0 384.3 890.3 381.3 890.6 378.4 890.9 375.4 891.2 372.4 891.5 369.4 891.8 366.4 892.2 363.5 892.5 360.5 892.8 357.5 893.1 354.5 893.4 351.6 893.7 348.6 894.1 345.6 894.4 342.6 894.7 339.6 895.0 336.7 895.3 333.7 895.6 330.7 895.9 327.7 896.3 324.8 896.6 321.8 896.9 318.8 897.2 315.8 897.5 312.8 897.8 309.9 898.2 306.9 898.5 303.9 898.8 300.9 899.1 297.9 899.4 295.0 899.7 292.0 900.0 289.0 900.4 286.0 900.7 283.1 901.0 280.1 901.3 277.1 901.6 274.1 901.9 271.1 902.2 268.2 902.6 265.2 902.9 262.2 903.2 259.2 903.5 256.3 903.9 253.3 904.2 250.3 904.6 247.3 905.0 244.4 905.4 241.4 905.8 238.5 906.2 235.5 906.6 232.5 907.1 229.6 907.6 226.6 908.0 223.7 908.6 220.8 909.1 217.8 909.6 214.9 910.2 212.0 910.8 209.0 911.5 206.1 912.1 203.2 912.8 200.3 913.5 197.4 914.3 194.5 915.1 191.6 915.9 188.7 916.8 185.8 917.6 183.0 918.5 180.1 919.4 177.2 920.3 174.3 921.2 171.4 922.1 168.5 923.0 165.6 923.9 162.7 924.8 159.8 925.6 156.8 926.4 153.8 927.1 150.9 927.8 147.9 928.5 145.0 929.3 142.1 930.0 139.2 930.8 136.4 931.7 133.7 932.6 131.0 933.7 128.5 934.9 126.0 936.2 123.7 937.7 121.5 939.4 119.5 941.3 117.6 943.4 115.9 945.8 114.3 948.4 113.0 951.3 111.9 954.5 111.0 958.0" stroke="#56b4e9"/>
<path d="M97.0 1392.0L99.8 1390.9 102.6 1389.8 105.4 1388.7 108.2 1387.6 111.0 1386.6 113.8 1385.5 116.7 1384.5 119.5 1383.5 122.3 1382.4 125.1 1381.4 128.0 1380.4 130.8 1379.5 133.6 1378.5 136.5 1377.5 139.3 1376.5 142.2 1375.6 145.0 1374.7 147.9 1373.7 150.7 1372.8 153.6 1371.9 156.4 1371.0 159.3 1370.1 162.1 1369.2 165.0 1368.4 167.9 1367.5 170.7 1366.6 173.6 1365.8 176.5 1365.0 179.4 1364.1 182.2 1363.3 185.1 1362.5 188.0 1361.7 190.9 1360.9 193.8 1360.1 196.7 1359.3 199.6 1358.6 202.4 1357.8 205.3 1357.1 208.2 1356.3 211.1 1355.6 214.0 1354.8 216.9 1354.1 219.8 1353.4 222.8 1352.7 225.7 1352.0 228.6 1351.3 231.5 1350.6 234.4 1350.0 237.3 1349.3 240.2 1348.6 243.2 1348.0 246.1 1347.3 249.0 1346.7 251.9 1346.1 254.9 1345.4 257.8 1344.8 260.7 1344.2 263.7 1343.6 266.6 1343.0 269.5 1342.4 272.5 1341.8 275.4 1341.2 278.3 1340.7 281.3 1340.1 284.2 1339.5 287.2 1339.0 290.1 1338.4 293.1 1337.9 296.0 1337.3 299.0 1336.8 301.9 1336.3 304.9 1335.8 307.8 1335.2 310.8 1334.7 313.7 1334.2 316.7 1333.7 319.6 1333.2 322.6 1332.7 325.6 1332.2 328.5 1331.8 331.5 1331.3 334.5 1330.8 337.4 1330.3 340.4 1329.9 343.4 1329.4 346.3 1329.0 349.3 1328.5 352.3 1328.1 355.2 1327.6 358.2 1327.2 361.2 1326.8 364.1 1326.3 367.1 1325.9 370.1 1325.5 373.1 1325.1 376.0 1324.7 379.0 1324.2 382.0 1323.8 385.0 1323.4 387.9 1323.0 390.9 1322.6 393.9 1322.2 396.9 1321.9 399.8 1321.5 402.8 1321.1 405.8 1320.7 408.8 1320.3 411.8 1319.9 414.7 1319.6 417.7 1319.2 420.7 1318.8 423.7 1318.5 426.7 1318.1 429.7 1317.7 432.6 1317.4 435.6 1317.0 438.6 1316.7 441.6 1316.3 444.6 1316.0 447.5 1315.6 450.5 1315.3 453.5 1314.9 456.5 1314.6 459.5 1314.2 462.5 1313.9 465.4 1313.6 468.4 1313.2 471.4 1312.9 474.4 1312.5 477.4 1312.2 480.3 1311.9 483.3 1311.5 486.3 1311.2 489.3 1310.9 492.3 1310.5 495.2 1310.2 498.2 1309.9 501.2 1309.6 504.2 1309.2 507.1 1308.9 510.1 1308.6 513.1 1308.2 516.1 1307.9 519.0 1307.6 522.0 1307.3 525.0 1306.9 528.0 1306.6 530.9 1306.3 533.9 1305.9 536.9 1305.6 539.9 1305.3 542.8 1304.9 545.8 1304.6 548.8 1304.3 551.7 1303.9 554.7 1303.6 557.7 1303.3 560.6 1303.0 563.6 1302.6 566.6 1302.3 569.5 1302.0 572.5 1301.6 575.5 1301.3 578.4 1301.0 581.4 1300.6 584.4 1300.3 587.3 1300.0 590.3 1299.6 593.2 1299.3 596.2 1299.0 599.2 1298.7 602.1 1298.3 605.1 1298.0 608.1 1297.7 611.0 1297.4 614.0 1297.1 617.0 1296.7 620.0 1296.4 622.9 1296.1 625.9 1295.8 628.9 1295.5 631.8 1295.2 634.8 1294.8 637.8 1294.5 640.8 1294.2 643.7 1293.9 646.7 1293.6 649.7 1293.3 652.7 1293.0 655.6 1292.7 658.6 1292.4 661.6 1292.1 664.6 1291.8 667.6 1291.5 670.6 1291.2 673.5 1291.0 676.5 1290.7 679.5 1290.4 682.5 1290.1 685.5 1289.8 688.5 1289.6 691.5 1289.3 694.5 1289.0 697.5 1288.8 700.5 1288.5 703.5 1288.2 706.5 1288.0 709.5 1287.7 712.5 1287.5 715.5 1287.2 718.6 1287.0 721.6 1286.7 724.6 1286.5 727.6 1286.3 730.6 1286.0 733.6 1285.8 736.7 1285.6 739.7 1285.4 742.7 1285.2 745.7 1285.0 748.8 1284.8 751.8 1284.7 754.8 1284.6 757.8 1284.5 760.8 1284.4 763.9 1284.3 766.9 1284.3 769.9 1284.3 772.9 1284.3 775.8 1284.4 778.8 1284.5 781.8 1284.6 784.8 1284.8 787.8 1285.0 790.7 1285.2 793.7 1285.4 796.6 1285.7 799.6 1286.0 802.5 1286.4 805.5 1286.7 808.4 1287.1 811.3 1287.5 814.3 1288.0 817.2 1288.5 820.1 1289.0 823.0 1289.5 825.9 1290.1 828.8 1290.6 831.7 1291.3 834.6 1291.9 837.5 1292.6 840.4 1293.3 843.2 1294.0 846.1 1294.7 849.0 1295.5 851.8 1296.3 854.7 1297.1 857.5 1298.0 860.4 1298.9 863.2 1299.8 866.0 1300.7 868.9 1301.7 871.7 1302.6 874.5 1303.6 877.3 1304.7 880.1 1305.7 882.9 1306.8 885.7 1307.9 888.5 1309.0 891.3 1310.1 894.1 1311.3 896.9 1312.5 899.6 1313.7 902.4 1314.9 905.2 1316.2 907.9 1317.5 910.7 1318.8 913.4 1320.1 916.2 1321.4 918.9 1322.8 921.6 1324.2 924.4 1325.6 927.1 1327.0 929.8 1328.5 932.5 1330.0 935.2 1331.4 937.9 1333.0 940.6 1334.5 943.3 1336.0 946.0 1337.6 948.7 1339.1 951.4 1340.6 954.1 1342.1 956.8 1343.6 959.4 1345.0 962.1 1346.5 964.8 1347.8 967.5 1349.2 970.2 1350.4 973.0 1351.7 975.7 1352.8 978.4 1353.9 981.1 1354.9 983.9 1355.8 986.6 1356.6 989.4 1357.4 992.2 1358.0 995.0 1358.5 997.8 1358.9 1000.6 1359.2 1003.5 1359.3 1006.3 1359.3 1009.2 1359.2 1012.1 1358.9 1015.0 1358.5 1017.9 1358.0 1020.8 1357.3 1023.8 1356.4 1026.7 1355.5 1029.6 1354.4 1032.5 1353.2 1035.4 1352.0 1038.2 1350.6 1041.0 1349.1 1043.8 1347.6 1046.5 1346.0 1049.2 1344.3 1051.8 1342.6 1054.3 1340.8 1056.8 1338.9 1059.2 1337.1 1061.6 1335.1 1063.9 1333.1 1066.1 1331.1 1068.3 1329.1 1070.5 1327.0 1072.6 1324.8 1074.7 1322.7 1076.7 1320.4 1078.6 1318.2 1080.6 1315.9 1082.5 1313.6 1084.3 1311.3 1086.2 1308.9 1088.0 1306.6 1089.7 1304.1 1091.5 1301.7 1093.2 1299.3 1094.9 1296.8 1096.6 1294.3 1098.2 1291.8 1099.9 1289.3 1101.5 1286.8 1103.1 1284.3 1104.7 1281.8 1106.3 1279.2 1107.9 1276.7 1109.5 1274.1 1111.1 1271.6 1112.7 1269.0 1114.3 1266.5 1115.9 1264.0 1117.5 1261.4 1119.2 1258.9 1120.8 1256.4 1122.4 1253.9 1124.1 1251.4 1125.8 1248.9 1127.5 1246.5 1129.2 1244.0 1130.9 1241.6 1132.7 1239.2 1134.5 1236.8 1136.3 1234.4 1138.1 1232.1 1140.0 1229.7 1141.9 1227.4 1143.7 1225.1 1145.6 1222.8 1147.5 1220.5 1149.5 1218.2 1151.4 1215.9 1153.3 1213.7 1155.3 1211.4 1157.3 1209.1 1159.2 1206.9 1161.2 1204.6 1163.2 1202.4 1165.2 1200.1 1167.2 1197.8 1169.2 1195.6 1171.2 1193.3 1173.2 1191.1 1175.2 1188.8 1177.2 1186.5 1179.2 1184.3 1181.2 1182.0 1183.2 1179.8 1185.2 1177.5 1187.3 1175.3 1189.3 1173.1 1191.4 1170.9 1193.4 1168.6 1195.5 1166.4 1197.6 1164.2 1199.7 1162.1 1201.8 1159.9 1203.9 1157.8 1206.0 1155.6 1208.1 1153.5 1210.3 1151.4 1212.4 1149.3 1214.6 1147.3 1216.8 1145.2 1219.0 1143.2 1221.3 1141.2 1223.5 1139.2 1225.8 1137.3 1228.1 1135.4 1230.4 1133.5 1232.7 1131.6 1235.0 1129.7 1237.4 1127.9 1239.8 1126.2 1242.2 1124.4 1244.6 1122.7 1247.1 1121.0 1249.6 1119.4 1252.1 1117.8 1254.6 1116.2 1257.2 1114.7 1259.8 1113.2 1262.4 1111.7 1265.0 1110.3 1267.6 1108.9 1270.3 1107.5 1273.0 1106.1 1275.7 1104.8 1278.4 1103.6 1281.2 1102.3 1283.9 1101.1 1286.7 1099.9 1289.5 1098.7 1292.2 1097.6 1295.1 1096.5 1297.9 1095.4 1300.7 1094.4 1303.5 1093.3 1306.4 1092.3 1309.2 1091.3 1312.1 1090.4 1315.0 1089.4 1317.8 1088.5 1320.7 1087.6 1323.6 1086.8 1326.5 1085.9 1329.4 1085.1 1332.3 1084.3 1335.2 1083.5 1338.1 1082.7 1341.0 1082.0 1343.9 1081.2 1346.8 1080.5 1349.7 1079.8 1352.6 1079.1 1355.5 1078.4 1358.4 1077.8 1361.4 1077.2 1364.3 1076.5 1367.2 1075.9 1370.2 1075.3 1373.1 1074.7 1376.0 1074.2 1379.0 1073.6 1381.9 1073.1 1384.9 1072.6 1387.8 1072.0 1390.8 1071.5 1393.7 1071.0 1396.7 1070.5 1399.6 1070.1 1402.6 1069.6 1405.5 1069.1 1408.5 1068.7 1411.5 1068.2 1414.4 1067.8 1417.4 1067.4 1420.4 1067.0 1423.3 1066.5 1426.3 1066.1 1429.3 1065.7 1432.2 1065.3 1435.2 1064.9 1438.2 1064.6 1441.2 1064.2 1444.1 1063.8 1447.1 1063.4 1450.1 1063.0 1453.1 1062.7 1456.0 1062.3 1459.0 1061.9 1462.0 1061.5 1465.0 1061.2 1467.9 1060.8 1470.9 1060.4 1473.9 1060.1 1476.9 1059.7 1479.8 1059.3 1482.8 1058.9 1485.8 1058.6 1488.8 1058.2 1491.7 1057.8 1494.7 1057.4 1497.7 1057.0 1500.6 1056.6 1503.6 1056.2 1506.6 1055.9 1509.6 1055.5 1512.5 1055.1 1515.5 1054.7 1518.5 1054.3 1521.4 1053.9 1524.4 1053.5 1527.4 1053.1 1530.3 1052.7 1533.3 1052.3 1536.3 1051.9 1539.2 1051.5 1542.2 1051.1 1545.2 1050.6 1548.2 1050.2 1551.1 1049.8 1554.1 1049.4 1557.1 1049.0 1560.0 1048.6 1563.0 1048.2 1566.0 1047.8 1568.9 1047.4 1571.9 1046.9 1574.9 1046.5 1577.8 1046.1 1580.8 1045.7 1583.8 1045.3 1586.7 1044.9 1589.7 1044.5 1592.7 1044.1 1595.6 1043.7 1598.6 1043.2 1601.6 1042.8 1604.5 1042.4 1607.5 1042.0 1610.5 1041.6 1613.4 1041.2 1616.4 1040.8 1619.4 1040.4 1622.3 1040.0 1625.3 1039.6 1628.3 1039.2 1631.2 1038.8 1634.2 1038.4 1637.2 1038.0 1640.1 1037.6 1643.1 1037.2 1646.1 1036.8 1649.0 1036.4 1652.0 1036.0 1655.0 1035.6 1657.9 1035.2 1660.9 1034.8 1663.9 1034.4 1666.9 1034.0 1669.8 1033.6 1672.8 1033.3 1675.8 1032.9 1678.7 1032.5 1681.7 1032.1 1684.7 1031.7 1687.7 1031.4 1690.6 1031.0 1693.6 1030.6 1696.6 1030.3 1699.6 1029.9 1702.5 1029.5 1705.5 1029.2 1708.5 1028.8 1711.5 1028.5 1714.4 1028.1 1717.4 1027.8 1720.4 1027.4 1723.4 1027.1 1726.4 1026.8 1729.3 1026.4 1732.3 1026.1 1735.3 1025.7 1738.3 1025.4 1741.3 1025.1 1744.2 1024.7 1747.2 1024.4 1750.2 1024.1 1753.2 1023.7 1756.2 1023.4 1759.2 1023.1 1762.1 1022.8 1765.1 1022.4 1768.1 1022.1 1771.1 1021.8 1774.1 1021.4 1777.0 1021.1 1780.0 1020.8 1783.0 1020.5 1786.0 1020.1 1789.0 1019.8 1792.0 1019.5 1794.9 1019.1 1797.9 1018.8 1800.9 1018.5 1803.9 1018.1 1806.9 1017.8 1809.8 1017.5 1812.8 1017.1 1815.8 1016.8 1818.8 1016.5 1821.8 1016.1 1824.7 1015.8 1827.7 1015.4 1830.7 1015.1 1833.7 1014.7 1836.6 1014.4 1839.6 1014.0 1842.6 1013.7 1845.6 1013.3 1848.6 1013.0 1851.5 1012.6 1854.5 1012.2 1857.5 1011.9 1860.4 1011.5 1863.4 1011.1 1866.4 1010.7 1869.4 1010.4 1872.3 1010.0 1875.3 1009.6 1878.3 1009.2 1881.2 1008.8 1884.2 1008.4 1887.2 1008.0 1890.1 1007.6 1893.1 1007.2 1896.1 1006.8 1899.0 1006.4 1902.0 1005.9 1904.9 1005.5 1907.9 1005.1 1910.9 1004.6 1913.8 1004.2 1916.8 1003.7 1919.7 1003.3 1922.7 1002.8 1925.6 1002.4 1928.6 1001.9 1931.6 1001.4 1934.5 1001.0 1937.4 1000.5 1940.4 1000.0 1943.3 999.5 1946.3 999.0 1949.2 998.5 1952.2 998.0 1955.1 997.4 1958.1 996.9 1961.0 996.4 1963.9 995.8 1966.9 995.3 1969.8 994.7 1972.7 994.2 1975.7 993.6 1978.6 993.0 1981.5 992.4 1984.5 991.9 1987.4 991.3 1990.3 990.7 1993.2 990.0 1996.2 989.4 1999.1 988.8 2002.0 988.2 2004.9 987.5 2007.8 986.9 2010.7 986.2 2013.7 985.5 2016.6 984.9 2019.5 984.2 2022.4 983.5 2025.3 982.8 2028.2 982.1 2031.1 981.3 2034.0 980.6 2036.9 979.9 2039.8 979.1 2042.7 978.4 2045.6 977.6 2048.4 976.8 2051.3 976.0 2054.2 975.2 2057.1 974.4 2060.0 973.6 2062.9 972.8 2065.7 971.9 2068.6 971.1 2071.5 970.2 2074.4 969.4 2077.2 968.5 2080.1 967.6 2083.0 966.7 2085.8 965.8 2088.7 964.8 2091.5 963.9 2094.4 963.0 2097.2 962.0 2100.1 961.0 2102.9 960.0 2105.8 959.1 2108.6 958.0 2111.5 957.0 2114.3 956.0 2117.1 955.0 2120.0 953.9 2122.8 952.8 2125.6 951.8 2128.5 950.7 2131.3 949.6 2134.1 948.4 2136.9 947.3 2139.7 946.2 2142.5 945.0 2145.3 943.8 2148.1 942.6 2150.8 941.4 2153.6 940.2 2156.4 938.9 2159.1 937.7 2161.9 936.4 2164.6 935.1 2167.3 933.8 2170.0 932.4 2172.7 931.1 2175.4 929.7 2178.0 928.3 2180.7 926.9 2183.3 925.5 2185.9 924.0 2188.6 922.5 2191.1 921.0 2193.7 919.5 2196.3 917.9 2198.8 916.4 2201.3 914.8 2203.8 913.1 2206.3 911.5 2208.8 909.8 2211.2 908.1 2213.6 906.4 2216.0 904.7 2218.4 902.9 2220.7 901.1 2223.1 899.3 2225.4 897.4 2227.7 895.5 2229.9 893.6 2232.2 891.7 2234.4 889.7 2236.6 887.7 2238.7 885.7 2240.9 883.7 2243.0 881.7 2245.1 879.6 2247.2 877.5 2249.3 875.4 2251.4 873.2 2253.4 871.1 2255.4 868.9 2257.4 866.7 2259.4 864.5 2261.4 862.3 2263.3 860.0 2265.3 857.8 2267.2 855.5 2269.1 853.2 2271.0 850.9 2272.9 848.6 2274.8 846.3 2276.7 843.9 2278.5 841.6 2280.4 839.2 2282.2 836.8 2284.0 834.4 2285.8 832.0 2287.6 829.6 2289.4 827.2 2291.2 824.8 2293.0 822.4 2294.7 820.0 2296.5 817.5 2298.2 815.1 2300.0 812.6 2301.7 810.1 2303.4 807.6 2305.1 805.2 2306.7 802.7 2308.4 800.1 2310.0 797.6 2311.6 795.1 2313.2 792.5 2314.8 790.0 2316.3 787.4 2317.9 784.8 2319.4 782.2 2320.8 779.6 2322.3 777.0 2323.7 774.3 2325.1 771.7 2326.4 769.0 2327.7 766.3 2329.0 763.6 2330.3 760.9 2331.5 758.2 2332.8 755.5 2333.9 752.7 2335.1 750.0 2336.2 747.2 2337.3 744.4 2338.4 741.7 2339.4 738.9 2340.5 736.1 2341.5 733.3 2342.4 730.4 2343.4 727.6 2344.3 724.8 2345.1 722.0 2346.0 719.1 2346.8 716.3 2347.6 713.4 2348.4 710.6 2349.1 707.7 2349.9 704.8 2350.6 702.0 2351.2 699.1 2351.9 696.2 2352.5 693.3 2353.1 690.4 2353.6 687.5 2354.2 684.6 2354.7 681.7 2355.2 678.8 2355.6 675.8 2356.1 672.9 2356.5 669.9 2356.9 666.9 2357.3 663.9 2357.6 660.9 2358.0 657.8 2358.3 654.8 2358.6 651.7 2358.8 648.7 2359.1 645.6 2359.3 642.4 2359.5 639.3 2359.7 636.1 2359.9 633.0 2360.0 629.8 2360.1 626.5 2360.3 623.3 2360.4 620.1 2360.6 616.9 2360.8 613.8 2361.1 610.7 2361.5 607.8 2362.0 605.0 2362.6 602.3 2363.4 599.8 2364.4 597.4 2365.5 595.3 2366.9 593.4 2368.5 591.7 2370.4 590.4 2372.9 589.7 2376.0 589.9 2380.0 591.0 M2380.0 454.0L2377.3 455.3 2374.7 456.6 2372.0 458.0 2369.4 459.3 2366.7 460.6 2364.1 462.0 2361.4 463.3 2358.7 464.7 2356.1 466.0 2353.4 467.4 2350.8 468.8 2348.1 470.1 2345.4 471.5 2342.8 472.9 2340.1 474.2 2337.5 475.6 2334.8 477.0 2332.1 478.4 2329.5 479.8 2326.8 481.2 2324.1 482.5 2321.5 483.9 2318.8 485.3 2316.1 486.7 2313.4 488.1 2310.8 489.5 2308.1 490.8 2305.4 492.2 2302.7 493.6 2300.1 495.0 2297.4 496.4 2294.7 497.7 2292.0 499.1 2289.3 500.5 2286.6 501.8 2283.9 503.2 2281.2 504.5 2278.5 505.9 2275.8 507.2 2273.1 508.6 2270.4 509.9 2267.7 511.2 2265.0 512.6 2262.3 513.9 2259.6 515.2 2256.9 516.5 2254.2 517.8 2251.4 519.1 2248.7 520.3 2246.0 521.6 2243.3 522.9 2240.5 524.1 2237.8 525.4 2235.0 526.6 2232.3 527.8 2229.5 529.1 2226.8 530.3 2224.0 531.5 2221.3 532.6 2218.5 533.8 2215.7 535.0 2213.0 536.1 2210.2 537.2 2207.4 538.4 2204.6 539.5 2201.9 540.6 2199.1 541.7 2196.3 542.7 2193.5 543.8 2190.7 544.8 2187.9 545.9 2185.0 546.9 2182.2 547.9 2179.4 548.8 2176.6 549.8 2173.7 550.8 2170.9 551.7 2168.1 552.6 2165.2 553.5 2162.4 554.4 2159.5 555.3 2156.7 556.1 2153.8 557.0 2150.9 557.8 2148.1 558.6 2145.2 559.4 2142.3 560.2 2139.4 561.0 2136.6 561.8 2133.7 562.5 2130.8 563.2 2127.9 564.0 2125.0 564.7 2122.1 565.4 2119.2 566.1 2116.3 566.7 2113.3 567.4 2110.4 568.0 2107.5 568.7 2104.6 569.3 2101.7 569.9 2098.7 570.5 2095.8 571.1 2092.9 571.7 2089.9 572.3 2087.0 572.8 2084.1 573.4 2081.1 573.9 2078.2 574.4 2075.2 575.0 2072.3 575.5 2069.3 576.0 2066.3 576.5 2063.4 577.0 2060.4 577.4 2057.5 577.9 2054.5 578.4 2051.5 578.8 2048.6 579.3 2045.6 579.7 2042.6 580.1 2039.6 580.5 2036.7 581.0 2033.7 581.4 2030.7 581.8 2027.7 582.1 2024.8 582.5 2021.8 582.9 2018.8 583.3 2015.8 583.7 2012.8 584.0 2009.8 584.4 2006.8 584.7 2003.9 585.1 2000.9 585.4 1997.9 585.7 1994.9 586.1 1991.9 586.4 1988.9 586.7 1985.9 587.0 1982.9 587.3 1979.9 587.6 1976.9 587.9 1973.9 588.2 1970.9 588.5 1967.9 588.8 1964.9 589.1 1961.9 589.3 1958.9 589.6 1955.9 589.9 1953.0 590.1 1950.0 590.4 1947.0 590.6 1944.0 590.8 1940.9 591.1 1937.9 591.3 1934.9 591.5 1931.9 591.7 1928.9 592.0 1925.9 592.2 1922.9 592.4 1919.9 592.5 1916.9 592.7 1913.9 592.9 1910.9 593.1 1907.9 593.3 1904.9 593.4 1901.9 593.6 1898.9 593.7 1895.9 593.9 1892.9 594.0 1889.9 594.2 1886.9 594.3 1883.9 594.4 1880.9 594.5 1877.9 594.6 1874.9 594.7 1871.9 594.8 1868.8 594.9 1865.8 595.0 1862.8 595.1 1859.8 595.1 1856.8 595.2 1853.8 595.3 1850.8 595.3 1847.8 595.4 1844.8 595.4 1841.8 595.4 1838.8 595.5 1835.8 595.5 1832.8 595.5 1829.8 595.5 1826.8 595.5 1823.8 595.5 1820.8 595.5 1817.8 595.4 1814.8 595.4 1811.8 595.4 1808.8 595.3 1805.8 595.3 1802.8 595.2 1799.8 595.2 1796.8 595.1 1793.8 595.0 1790.8 594.9 1787.8 594.8 1784.8 594.7 1781.8 594.6 1778.8 594.5 1775.8 594.4 1772.8 594.3 1769.8 594.1 1766.8 594.0 1763.8 593.8 1760.8 593.7 1757.8 593.5 1754.8 593.3 1751.8 593.2 1748.8 593.0 1745.9 592.8 1742.9 592.6 1739.9 592.4 1736.9 592.1 1733.9 591.9 1730.9 591.7 1727.9 591.4 1725.0 591.2 1722.0 590.9 1719.0 590.7 1716.0 590.4 1713.0 590.1 1710.0 589.8 1707.1 589.5 1704.1 589.2 1701.1 588.9 1698.1 588.6 1695.2 588.2 1692.2 587.9 1689.2 587.6 1686.2 587.2 1683.3 586.8 1680.3 586.5 1677.3 586.1 1674.4 585.7 1671.4 585.3 1668.4 584.9 1665.5 584.5 1662.5 584.1 1659.6 583.6 1656.6 583.2 1653.6 582.7 1650.7 582.3 1647.7 581.8 1644.8 581.3 1641.8 580.9 1638.9 580.4 1635.9 579.9 1633.0 579.4 1630.0 578.8 1627.1 578.3 1624.1 577.8 1621.2 577.2 1618.3 576.7 1615.3 576.1 1612.4 575.5 1609.4 575.0 1606.5 574.4 1603.6 573.8 1600.6 573.2 1597.7 572.6 1594.8 571.9 1591.9 571.3 1588.9 570.7 1586.0 570.0 1583.1 569.3 1580.2 568.7 1577.3 568.0 1574.3 567.3 1571.4 566.6 1568.5 565.9 1565.6 565.2 1562.7 564.4 1559.8 563.7 1556.9 562.9 1554.0 562.2 1551.1 561.4 1548.2 560.6 1545.3 559.8 1542.4 559.0 1539.5 558.2 1536.6 557.4 1533.7 556.6 1530.8 555.8 1527.9 554.9 1525.0 554.1 1522.2 553.2 1519.3 552.3 1516.4 551.4 1513.5 550.5 1510.7 549.6 1507.8 548.7 1504.9 547.8 1502.1 546.8 1499.2 545.9 1496.3 544.9 1493.5 544.0 1490.6 543.0 1487.8 542.0 1484.9 541.0 1482.1 540.0 1479.3 539.0 1476.4 537.9 1473.6 536.9 1470.8 535.8 1467.9 534.8 1465.1 533.7 1462.3 532.6 1459.5 531.5 1456.7 530.4 1453.9 529.3 1451.1 528.2 1448.3 527.0 1445.5 525.9 1442.8 524.7 1440.0 523.6 1437.2 522.4 1434.5 521.2 1431.7 520.0 1429.0 518.7 1426.3 517.5 1423.6 516.2 1420.9 514.8 1418.3 513.5 1415.7 512.0 1413.1 510.6 1410.6 509.0 1408.1 507.4 1405.7 505.8 1403.3 504.1 1401.0 502.3 1398.7 500.4 1396.5 498.4 1394.3 496.4 1392.2 494.3 1390.1 492.2 1388.1 490.0 1386.1 487.8 1384.1 485.5 1382.2 483.2 1380.3 480.8 1378.4 478.5 1376.5 476.1 1374.7 473.7 1372.8 471.3 1371.0 468.8 1369.2 466.4 1367.4 464.0 1365.6 461.6 1363.8 459.2 1362.0 456.7 1360.2 454.3 1358.4 451.9 1356.6 449.5 1354.8 447.1 1353.1 444.6 1351.3 442.2 1349.5 439.8 1347.8 437.4 1346.0 434.9 1344.3 432.5 1342.5 430.1 1340.8 427.6 1339.1 425.2 1337.3 422.8 1335.6 420.4 1333.9 417.9 1332.1 415.5 1330.4 413.0 1328.7 410.6 1327.0 408.1 1325.3 405.7 1323.6 403.3 1321.8 400.8 1320.1 398.3 1318.4 395.9 1316.7 393.4 1315.0 391.0 1313.3 388.5 1311.6 386.0 1309.9 383.6 1308.2 381.1 1306.5 378.6 1304.8 376.1 1303.1 373.7 1301.4 371.2 1299.7 368.7 1298.1 366.2 1296.4 363.7 1294.7 361.1 1293.1 358.6 1291.5 356.1 1289.9 353.5 1288.3 351.0 1286.7 348.4 1285.1 345.9 1283.6 343.3 1282.0 340.7 1280.5 338.1 1279.1 335.5 1277.6 332.9 1276.2 330.3 1274.8 327.6 1273.4 324.9 1272.0 322.3 1270.7 319.6 1269.3 316.9 1268.0 314.3 1266.6 311.6 1265.3 308.9 1263.9 306.3 1262.5 303.7 1261.0 301.0 1259.5 298.4 1258.0 295.8 1256.5 293.3 1254.8 290.7 1253.1 288.2 1251.4 285.7 1249.6 283.2 1247.7 280.8 1245.7 278.5 1243.6 276.1 1241.4 273.9 1239.2 271.8 1236.8 269.8 1234.2 268.0 1231.6 266.3 1228.8 264.8 1225.9 263.5 1223.0 262.4 1220.0 261.6 1217.1 260.9 1214.1 260.5 1211.2 260.3 1208.4 260.3 1205.7 260.6 1203.1 261.1 1200.5 261.8 1198.0 262.7 1195.6 263.8 1193.3 265.1 1191.0 266.6 1188.8 268.2 1186.7 270.0 1184.6 271.9 1182.5 273.9 1180.6 276.0 1178.6 278.3 1176.7 280.6 1174.9 283.0 1173.1 285.5 1171.3 288.1 1169.6 290.7 1167.9 293.4 1166.2 296.1 1164.5 298.8 1162.9 301.5 1161.2 304.2 1159.6 306.9 1158.0 309.6 1156.4 312.3 1154.9 315.0 1153.3 317.7 1151.7 320.4 1150.2 323.0 1148.7 325.7 1147.2 328.3 1145.6 331.0 1144.1 333.6 1142.7 336.3 1141.2 338.9 1139.7 341.5 1138.3 344.2 1136.8 346.8 1135.4 349.4 1133.9 352.0 1132.5 354.6 1131.1 357.3 1129.7 359.9 1128.2 362.5 1126.8 365.1 1125.4 367.7 1124.0 370.3 1122.7 372.9 1121.3 375.5 1119.9 378.1 1118.5 380.7 1117.1 383.3 1115.8 385.9 1114.4 388.5 1113.0 391.1 1111.7 393.7 1110.3 396.3 1108.9 398.9 1107.6 401.5 1106.2 404.1 1104.9 406.7 1103.5 409.3 1102.1 411.9 1100.8 414.5 1099.4 417.2 1098.0 419.8 1096.7 422.4 1095.3 425.0 1093.9 427.7 1092.5 430.3 1091.2 433.0 1089.8 435.6 1088.4 438.3 1087.0 440.9 1085.6 443.6 1084.2 446.3 1082.8 449.0 1081.3 451.6 1079.9 454.3 1078.5 457.0 1077.0 459.7 1075.6 462.4 1074.1 465.0 1072.7 467.7 1071.2 470.4 1069.7 473.1 1068.2 475.7 1066.7 478.4 1065.1 481.0 1063.6 483.7 1062.0 486.3 1060.5 488.9 1058.9 491.5 1057.3 494.1 1055.7 496.7 1054.1 499.3 1052.4 501.9 1050.7 504.4 1049.1 506.9 1047.4 509.5 1045.6 511.9 1043.9 514.4 1042.1 516.9 1040.3 519.3 1038.5 521.7 1036.7 524.1 1034.9 526.5 1033.0 528.8 1031.1 531.1 1029.2 533.4 1027.3 535.7 1025.3 537.9 1023.3 540.1 1021.3 542.3 1019.2 544.4 1017.2 546.5 1015.1 548.6 1012.9 550.7 1010.8 552.7 1008.6 554.7 1006.4 556.6 1004.2 558.5 1001.9 560.4 999.6 562.2 997.3 564.1 995.0 565.8 992.6 567.6 990.2 569.3 987.8 571.0 985.4 572.6 982.9 574.2 980.4 575.8 977.9 577.4 975.4 578.9 972.8 580.3 970.2 581.8 967.6 583.2 965.0 584.6 962.3 585.9 959.6 587.2 956.9 588.5 954.2 589.8 951.5 591.0 948.8 592.2 946.0 593.4 943.2 594.5 940.4 595.7 937.6 596.8 934.8 597.9 932.0 598.9 929.1 600.0 926.3 601.0 923.4 602.0 920.5 603.0 917.7 604.0 914.8 604.9 911.9 605.9 909.0 606.8 906.1 607.8 903.2 608.7 900.3 609.6 897.4 610.5 894.5 611.4 891.6 612.3 888.7 613.1 885.8 614.0 882.9 614.8 880.0 615.7 877.1 616.5 874.2 617.4 871.3 618.2 868.4 619.0 865.5 619.8 862.6 620.6 859.7 621.4 856.8 622.2 853.9 623.0 851.0 623.7 848.1 624.5 845.2 625.2 842.3 626.0 839.3 626.7 836.4 627.5 833.5 628.2 830.6 628.9 827.7 629.6 824.8 630.3 821.9 631.0 818.9 631.7 816.0 632.4 813.1 633.1 810.2 633.8 807.3 634.4 804.4 635.1 801.4 635.8 798.5 636.4 795.6 637.1 792.7 637.7 789.8 638.4 786.8 639.0 783.9 639.6 781.0 640.2 778.1 640.9 775.1 641.5 772.2 642.1 769.3 642.7 766.3 643.3 763.4 643.9 760.5 644.5 757.6 645.1 754.6 645.6 751.7 646.2 748.8 646.8 745.8 647.4 742.9 647.9 740.0 648.5 737.0 649.1 734.1 649.6 731.1 650.2 728.2 650.7 725.3 651.3 722.3 651.8 719.4 652.4 716.5 652.9 713.5 653.4 710.6 654.0 707.6 654.5 704.7 655.0 701.7 655.5 698.8 656.1 695.8 656.6 692.9 657.1 690.0 657.6 687.0 658.1 684.1 658.6 681.1 659.2 678.2 659.7 675.2 660.2 672.3 660.7 669.3 661.2 666.4 661.7 663.4 662.2 660.5 662.7 657.5 663.2 654.6 663.7 651.6 664.1 648.7 664.6 645.7 665.1 642.7 665.6 639.8 666.1 636.8 666.6 633.9 667.1 630.9 667.6 628.0 668.1 625.0 668.5 622.1 669.0 619.1 669.5 616.1 670.0 613.2 670.5 610.2 670.9 607.3 671.4 604.3 671.9 601.4 672.4 598.4 672.9 595.4 673.4 592.5 673.8 589.5 674.3 586.6 674.8 583.6 675.3 580.6 675.8 577.7 676.2 574.7 676.7 571.8 677.2 568.8 677.7 565.8 678.2 562.9 678.7 559.9 679.1 557.0 679.6 554.0 680.1 551.1 680.6 548.1 681.1 545.1 681.6 542.2 682.1 539.2 682.6 536.3 683.1 533.3 683.6 530.3 684.1 527.4 684.6 524.4 685.1 521.5 685.6 518.5 686.1 515.6 686.6 512.6 687.1 509.6 687.6 506.7 688.1 503.7 688.6 500.8 689.1 497.8 689.7 494.9 690.2 491.9 690.7 488.9 691.2 486.0 691.8 483.0 692.3 480.1 692.8 477.1 693.4 474.2 693.9 471.2 694.4 468.3 695.0 465.3 695.5 462.4 696.1 459.4 696.6 456.5 697.2 453.5 697.8 450.6 698.3 447.6 698.9 444.7 699.5 441.7 700.0 438.8 700.6 435.8 701.2 432.9 701.8 429.9 702.4 427.0 703.0 424.0 703.6 421.1 704.2 418.2 704.8 415.2 705.4 412.3 706.0 409.3 706.6 406.4 707.3 403.5 707.9 400.5 708.5 397.6 709.1 394.6 709.8 391.7 710.4 388.8 711.1 385.8 711.7 382.9 712.4 380.0 713.1 377.0 713.7 374.1 714.4 371.2 715.1 368.2 715.8 365.3 716.5 362.4 717.2 359.5 717.9 356.5 718.6 353.6 719.3 350.7 720.0 347.8 720.8 344.8 721.5 341.9 722.2 339.0 723.0 336.1 723.7 333.2 724.5 330.3 725.3 327.3 726.0 324.4 726.8 321.5 727.6 318.6 728.4 315.7 729.2 312.8 730.0 309.9 730.8 307.0 731.7 304.1 732.5 301.2 733.4 298.4 734.3 295.5 735.1 292.6 736.0 289.8 737.0 286.9 737.9 284.0 738.8 281.2 739.8 278.4 740.8 275.5 741.7 272.7 742.7 269.9 743.8 267.1 744.8 264.3 745.8 261.5 746.9 258.7 748.0 255.9 749.1 253.1 750.2 250.4 751.4 247.6 752.6 244.9 753.7 242.2 755.0 239.4 756.2 236.7 757.4 234.0 758.7 231.3 760.0 228.7 761.3 226.0 762.7 223.3 764.1 220.7 765.5 218.1 766.9 215.4 768.3 212.8 769.8 210.3 771.3 207.7 772.8 205.1 774.4 202.6 776.0 200.0 777.6 197.5 779.2 195.0 780.9 192.5 782.6 190.0 784.3 187.6 786.1 185.1 787.8 182.7 789.7 180.3 791.5 178.0 793.4 175.7 795.4 173.4 797.3 171.2 799.3 169.0 801.4 166.8 803.5 164.7 805.6 162.7 807.8 160.8 810.1 158.9 812.4 157.0 814.7 155.3 817.1 153.6 819.5 151.9 822.0 150.4 824.5 148.8 827.0 147.4 829.6 145.9 832.2 144.6 834.9 143.2 837.6 141.9 840.3 140.7 843.0 139.5 845.8 138.3 848.6 137.1 851.4 136.0 854.2 134.9 857.0 133.9 859.9 132.8 862.7 131.8 865.6 130.8 868.5 129.8 871.4 128.9 874.2 127.9 877.1 126.9 880.0 126.0 882.9 125.0 885.8 124.1 888.7 123.1 891.5 122.2 894.4 121.2 897.2 120.3 900.0 119.3 902.9 118.3 905.7 117.4 908.5 116.4 911.3 115.5 914.1 114.6 916.9 113.7 919.7 112.8 922.5 112.0 925.3 111.2 928.2 110.5 931.0 109.8 933.9 109.2 936.8 108.7 939.8 108.2 942.8 107.8 945.8 107.4 948.8 107.2 951.9 107.0 955.0" stroke="#009e73"/>
<path d="M97.0 1292.0L99.9 1291.4 102.8 1290.8 105.7 1290.2 108.6 1289.6 111.6 1289.0 114.5 1288.4 117.4 1287.9 120.3 1287.3 123.2 1286.7 126.1 1286.1 129.1 1285.5 132.0 1285.0 134.9 1284.4 137.8 1283.8 140.7 1283.2 143.7 1282.7 146.6 1282.1 149.5 1281.5 152.4 1280.9 155.4 1280.4 158.3 1279.8 161.2 1279.2 164.2 1278.7 167.1 1278.1 170.0 1277.6 173.0 1277.0 175.9 1276.4 178.8 1275.9 181.8 1275.3 184.7 1274.8 187.6 1274.2 190.6 1273.7 193.5 1273.1 196.4 1272.6 199.4 1272.0 202.3 1271.5 205.3 1270.9 208.2 1270.4 211.2 1269.9 214.1 1269.3 217.0 1268.8 220.0 1268.2 222.9 1267.7 225.9 1267.2 228.8 1266.7 231.8 1266.1 234.7 1265.6 237.7 1265.1 240.6 1264.5 243.6 1264.0 246.5 1263.5 249.5 1263.0 252.4 1262.5 255.4 1261.9 258.4 1261.4 261.3 1260.9 264.3 1260.4 267.2 1259.9 270.2 1259.4 273.1 1258.9 276.1 1258.4 279.1 1257.9 282.0 1257.4 285.0 1256.9 287.9 1256.4 290.9 1255.9 293.9 1255.4 296.8 1254.9 299.8 1254.4 302.8 1253.9 305.7 1253.4 308.7 1252.9 311.6 1252.4 314.6 1252.0 317.6 1251.5 320.5 1251.0 323.5 1250.5 326.5 1250.0 329.4 1249.6 332.4 1249.1 335.4 1248.6 338.4 1248.2 341.3 1247.7 344.3 1247.2 347.3 1246.8 350.2 1246.3 353.2 1245.8 356.2 1245.4 359.2 1244.9 362.1 1244.5 365.1 1244.0 368.1 1243.6 371.0 1243.1 374.0 1242.7 377.0 1242.2 380.0 1241.8 382.9 1241.3 385.9 1240.9 388.9 1240.5 391.9 1240.0 394.9 1239.6 397.8 1239.2 400.8 1238.7 403.8 1238.3 406.8 1237.9 409.7 1237.5 412.7 1237.0 415.7 1236.6 418.7 1236.2 421.7 1235.8 424.6 1235.4 427.6 1235.0 430.6 1234.5 433.6 1234.1 436.6 1233.7 439.5 1233.3 442.5 1232.9 445.5 1232.5 448.5 1232.1 451.5 1231.7 454.4 1231.3 457.4 1230.9 460.4 1230.6 463.4 1230.2 466.4 1229.8 469.3 1229.4 472.3 1229.0 475.3 1228.6 478.3 1228.3 481.3 1227.9 484.2 1227.5 487.2 1227.1 490.2 1226.8 493.2 1226.4 496.2 1226.0 499.2 1225.7 502.1 1225.3 505.1 1225.0 508.1 1224.6 511.1 1224.2 514.1 1223.9 517.1 1223.5 520.0 1223.2 523.0 1222.9 526.0 1222.5 529.0 1222.2 532.0 1221.8 534.9 1221.5 537.9 1221.2 540.9 1220.8 543.9 1220.5 546.9 1220.2 549.9 1219.9 552.8 1219.5 555.8 1219.2 558.8 1218.9 561.8 1218.6 564.8 1218.3 567.7 1218.0 570.7 1217.6 573.7 1217.3 576.7 1217.0 579.7 1216.7 582.6 1216.4 585.6 1216.1 588.6 1215.8 591.6 1215.5 594.6 1215.3 597.5 1215.0 600.5 1214.7 603.5 1214.4 606.5 1214.1 609.5 1213.8 612.4 1213.6 615.4 1213.3 618.4 1213.0 621.4 1212.8 624.3 1212.5 627.3 1212.2 630.3 1212.0 633.3 1211.7 636.2 1211.5 639.2 1211.2 642.2 1210.9 645.2 1210.7 648.1 1210.5 651.1 1210.2 654.1 1210.0 657.1 1209.7 660.0 1209.5 663.0 1209.3 666.0 1209.0 668.9 1208.8 671.9 1208.6 674.9 1208.4 677.9 1208.1 680.8 1207.9 683.8 1207.7 686.8 1207.5 689.8 1207.3 692.7 1207.1 695.7 1206.9 698.7 1206.7 701.7 1206.5 704.6 1206.3 707.6 1206.1 710.6 1205.9 713.6 1205.7 716.5 1205.6 719.5 1205.4 722.5 1205.2 725.5 1205.0 728.5 1204.9 731.5 1204.7 734.4 1204.5 737.4 1204.4 740.4 1204.2 743.4 1204.1 746.4 1203.9 749.4 1203.8 752.4 1203.7 755.4 1203.5 758.4 1203.4 761.4 1203.3 764.4 1203.2 767.4 1203.0 770.4 1202.9 773.4 1202.8 776.4 1202.7 779.4 1202.6 782.4 1202.5 785.4 1202.4 788.4 1202.3 791.5 1202.2 794.5 1202.2 797.5 1202.1 800.5 1202.0 803.6 1202.0 806.6 1201.9 809.6 1201.8 812.7 1201.8 815.7 1201.7 818.7 1201.7 821.8 1201.7 824.8 1201.7 827.8 1201.7 830.9 1201.7 833.9 1201.7 837.0 1201.7 840.0 1201.8 843.0 1201.9 846.0 1201.9 849.0 1202.1 852.1 1202.2 855.1 1202.3 858.1 1202.5 861.1 1202.7 864.1 1203.0 867.0 1203.2 870.0 1203.5 873.0 1203.8 875.9 1204.2 878.9 1204.5 881.8 1204.9 884.7 1205.4 887.6 1205.9 890.6 1206.4 893.4 1206.9 896.3 1207.5 899.2 1208.1 902.1 1208.7 905.0 1209.3 907.8 1210.0 910.7 1210.6 913.6 1211.3 916.4 1212.0 919.3 1212.7 922.1 1213.5 925.0 1214.2 927.9 1214.9 930.7 1215.6 933.6 1216.4 936.5 1217.1 939.3 1217.8 942.2 1218.6 945.1 1219.3 948.0 1220.0 950.9 1220.7 953.9 1221.3 956.8 1222.0 959.7 1222.6 962.7 1223.2 965.7 1223.8 968.6 1224.4 971.6 1224.9 974.7 1225.4 977.7 1225.9 980.7 1226.4 983.8 1226.8 986.9 1227.2 990.0 1227.5 993.2 1227.8 996.3 1228.0 999.4 1228.2 1002.5 1228.3 1005.6 1228.3 1008.7 1228.2 1011.8 1228.1 1014.8 1227.8 1017.8 1227.5 1020.7 1227.0 1023.6 1226.5 1026.5 1225.8 1029.3 1225.1 1032.1 1224.3 1034.8 1223.4 1037.5 1222.4 1040.2 1221.3 1042.8 1220.2 1045.5 1219.0 1048.0 1217.7 1050.6 1216.3 1053.1 1214.9 1055.6 1213.4 1058.1 1211.9 1060.6 1210.3 1063.0 1208.6 1065.4 1206.9 1067.8 1205.1 1070.1 1203.3 1072.4 1201.5 1074.8 1199.6 1077.1 1197.6 1079.3 1195.6 1081.6 1193.6 1083.9 1191.6 1086.1 1189.5 1088.3 1187.4 1090.5 1185.3 1092.7 1183.1 1094.9 1181.0 1097.1 1178.8 1099.3 1176.6 1101.5 1174.4 1103.6 1172.2 1105.8 1170.0 1107.9 1167.8 1110.1 1165.6 1112.2 1163.4 1114.4 1161.2 1116.5 1159.0 1118.7 1156.8 1120.8 1154.6 1123.0 1152.5 1125.2 1150.3 1127.3 1148.2 1129.5 1146.1 1131.7 1144.0 1133.8 1141.9 1136.0 1139.8 1138.2 1137.8 1140.4 1135.7 1142.6 1133.7 1144.8 1131.7 1147.0 1129.7 1149.2 1127.7 1151.5 1125.8 1153.7 1123.8 1155.9 1121.9 1158.2 1120.0 1160.5 1118.1 1162.8 1116.2 1165.0 1114.4 1167.4 1112.5 1169.7 1110.7 1172.0 1108.9 1174.3 1107.2 1176.7 1105.4 1179.1 1103.7 1181.4 1102.0 1183.8 1100.3 1186.3 1098.6 1188.7 1097.0 1191.1 1095.3 1193.6 1093.7 1196.1 1092.1 1198.6 1090.6 1201.1 1089.1 1203.6 1087.6 1206.2 1086.1 1208.8 1084.6 1211.4 1083.2 1214.0 1081.8 1216.6 1080.4 1219.3 1079.0 1221.9 1077.7 1224.6 1076.3 1227.3 1075.1 1230.0 1073.8 1232.7 1072.5 1235.5 1071.3 1238.2 1070.1 1241.0 1068.9 1243.8 1067.7 1246.6 1066.6 1249.4 1065.5 1252.2 1064.4 1255.0 1063.3 1257.9 1062.2 1260.7 1061.2 1263.6 1060.1 1266.4 1059.1 1269.3 1058.1 1272.2 1057.2 1275.1 1056.2 1278.0 1055.3 1280.9 1054.4 1283.8 1053.5 1286.7 1052.6 1289.6 1051.7 1292.5 1050.9 1295.4 1050.0 1298.4 1049.2 1301.3 1048.4 1304.2 1047.6 1307.2 1046.9 1310.1 1046.1 1313.0 1045.4 1316.0 1044.6 1318.9 1043.9 1321.8 1043.2 1324.8 1042.5 1327.7 1041.9 1330.6 1041.2 1333.6 1040.6 1336.5 1039.9 1339.4 1039.3 1342.4 1038.7 1345.3 1038.1 1348.3 1037.5 1351.2 1037.0 1354.1 1036.4 1357.1 1035.8 1360.0 1035.3 1362.9 1034.8 1365.9 1034.2 1368.8 1033.7 1371.8 1033.2 1374.7 1032.7 1377.7 1032.2 1380.6 1031.8 1383.5 1031.3 1386.5 1030.8 1389.4 1030.4 1392.4 1029.9 1395.3 1029.5 1398.3 1029.0 1401.2 1028.6 1404.1 1028.2 1407.1 1027.8 1410.0 1027.3 1413.0 1026.9 1415.9 1026.5 1418.9 1026.1 1421.8 1025.7 1424.8 1025.3 1427.7 1024.9 1430.7 1024.5 1433.6 1024.2 1436.6 1023.8 1439.5 1023.4 1442.5 1023.0 1445.5 1022.6 1448.4 1022.3 1451.4 1021.9 1454.3 1021.5 1457.3 1021.2 1460.2 1020.8 1463.2 1020.4 1466.2 1020.0 1469.1 1019.7 1472.1 1019.3 1475.1 1018.9 1478.0 1018.5 1481.0 1018.1 1484.0 1017.8 1486.9 1017.4 1489.9 1017.0 1492.9 1016.6 1495.8 1016.2 1498.8 1015.8 1501.8 1015.4 1504.8 1015.0 1507.7 1014.6 1510.7 1014.2 1513.7 1013.8 1516.7 1013.4 1519.6 1013.0 1522.6 1012.6 1525.6 1012.2 1528.6 1011.8 1531.6 1011.4 1534.5 1011.0 1537.5 1010.5 1540.5 1010.1 1543.5 1009.7 1546.5 1009.3 1549.4 1008.9 1552.4 1008.4 1555.4 1008.0 1558.4 1007.6 1561.4 1007.2 1564.3 1006.7 1567.3 1006.3 1570.3 1005.9 1573.3 1005.4 1576.3 1005.0 1579.2 1004.6 1582.2 1004.1 1585.2 1003.7 1588.2 1003.3 1591.1 1002.8 1594.1 1002.4 1597.1 1002.0 1600.1 1001.5 1603.0 1001.1 1606.0 1000.6 1609.0 1000.2 1612.0 999.8 1614.9 999.3 1617.9 998.9 1620.9 998.4 1623.8 998.0 1626.8 997.5 1629.8 997.1 1632.7 996.6 1635.7 996.2 1638.6 995.8 1641.6 995.3 1644.6 994.9 1647.5 994.4 1650.5 994.0 1653.4 993.5 1656.4 993.1 1659.4 992.7 1662.3 992.2 1665.3 991.8 1668.2 991.3 1671.2 990.9 1674.1 990.5 1677.1 990.0 1680.1 989.6 1683.0 989.2 1686.0 988.7 1688.9 988.3 1691.9 987.9 1694.8 987.4 1697.8 987.0 1700.7 986.6 1703.7 986.1 1706.7 985.7 1709.6 985.3 1712.6 984.9 1715.5 984.5 1718.5 984.0 1721.4 983.6 1724.4 983.2 1727.3 982.8 1730.3 982.4 1733.3 982.0 1736.2 981.6 1739.2 981.2 1742.1 980.8 1745.1 980.4 1748.1 980.0 1751.0 979.6 1754.0 979.2 1757.0 978.9 1759.9 978.5 1762.9 978.1 1765.9 977.7 1768.8 977.4 1771.8 977.0 1774.8 976.6 1777.8 976.3 1780.7 975.9 1783.7 975.6 1786.7 975.2 1789.7 974.9 1792.6 974.5 1795.6 974.2 1798.6 973.8 1801.6 973.5 1804.6 973.2 1807.6 972.8 1810.5 972.5 1813.5 972.2 1816.5 971.9 1819.5 971.5 1822.5 971.2 1825.5 970.9 1828.5 970.6 1831.5 970.2 1834.5 969.9 1837.4 969.6 1840.4 969.3 1843.4 969.0 1846.4 968.6 1849.4 968.3 1852.4 968.0 1855.4 967.7 1858.4 967.4 1861.4 967.0 1864.4 966.7 1867.4 966.4 1870.4 966.0 1873.4 965.7 1876.3 965.4 1879.3 965.1 1882.3 964.7 1885.3 964.4 1888.3 964.0 1891.3 963.7 1894.3 963.3 1897.3 963.0 1900.3 962.6 1903.3 962.3 1906.2 961.9 1909.2 961.6 1912.2 961.2 1915.2 960.8 1918.2 960.4 1921.2 960.1 1924.1 959.7 1927.1 959.3 1930.1 958.9 1933.1 958.5 1936.0 958.1 1939.0 957.7 1942.0 957.2 1945.0 956.8 1947.9 956.4 1950.9 955.9 1953.9 955.5 1956.8 955.1 1959.8 954.6 1962.7 954.1 1965.7 953.7 1968.7 953.2 1971.6 952.7 1974.6 952.2 1977.5 951.7 1980.5 951.2 1983.4 950.7 1986.4 950.1 1989.3 949.6 1992.2 949.1 1995.2 948.5 1998.1 947.9 2001.1 947.4 2004.0 946.8 2006.9 946.2 2009.8 945.6 2012.8 945.0 2015.7 944.4 2018.6 943.7 2021.5 943.1 2024.4 942.4 2027.3 941.8 2030.2 941.1 2033.1 940.4 2036.0 939.7 2038.9 939.0 2041.8 938.3 2044.7 937.5 2047.6 936.8 2050.5 936.0 2053.4 935.3 2056.2 934.5 2059.1 933.7 2062.0 932.9 2064.8 932.0 2067.7 931.2 2070.6 930.4 2073.4 929.5 2076.3 928.6 2079.1 927.7 2082.0 926.8 2084.8 925.9 2087.6 925.0 2090.5 924.0 2093.3 923.0 2096.1 922.1 2098.9 921.1 2101.7 920.1 2104.6 919.0 2107.4 918.0 2110.2 916.9 2113.0 915.9 2115.8 914.8 2118.5 913.7 2121.3 912.5 2124.1 911.4 2126.9 910.2 2129.6 909.1 2132.4 907.9 2135.2 906.7 2137.9 905.4 2140.7 904.2 2143.4 903.0 2146.2 901.7 2148.9 900.4 2151.6 899.2 2154.4 897.9 2157.1 896.6 2159.8 895.3 2162.5 893.9 2165.2 892.6 2167.9 891.3 2170.6 889.9 2173.3 888.6 2176.0 887.2 2178.7 885.8 2181.4 884.5 2184.0 883.1 2186.7 881.7 2189.4 880.3 2192.0 878.9 2194.7 877.5 2197.3 876.1 2200.0 874.7 2202.6 873.3 2205.3 871.9 2207.9 870.5 2210.5 869.0 2213.1 867.6 2215.6 866.0 2218.2 864.5 2220.7 862.9 2223.1 861.2 2225.6 859.5 2227.9 857.8 2230.3 855.9 2232.6 854.0 2234.9 852.1 2237.1 850.1 2239.3 848.0 2241.5 846.0 2243.6 843.8 2245.7 841.7 2247.7 839.5 2249.8 837.3 2251.8 835.0 2253.8 832.8 2255.8 830.5 2257.7 828.2 2259.6 825.9 2261.5 823.6 2263.4 821.2 2265.2 818.9 2267.1 816.6 2268.9 814.3 2270.8 812.0 2272.6 809.6 2274.5 807.3 2276.3 805.0 2278.2 802.7 2280.1 800.4 2282.0 798.1 2283.9 795.8 2285.8 793.4 2287.7 791.1 2289.6 788.8 2291.5 786.5 2293.4 784.2 2295.3 781.9 2297.2 779.6 2299.1 777.2 2301.0 774.9 2302.9 772.5 2304.7 770.2 2306.5 767.8 2308.3 765.4 2310.1 763.0 2311.8 760.6 2313.6 758.1 2315.2 755.7 2316.9 753.2 2318.5 750.7 2320.1 748.2 2321.6 745.7 2323.1 743.1 2324.6 740.6 2326.0 738.0 2327.4 735.4 2328.7 732.7 2330.1 730.1 2331.3 727.4 2332.6 724.7 2333.8 722.0 2334.9 719.3 2336.1 716.5 2337.2 713.7 2338.2 711.0 2339.3 708.1 2340.3 705.3 2341.2 702.5 2342.1 699.6 2343.0 696.7 2343.9 693.8 2344.7 690.8 2345.5 687.9 2346.2 684.9 2346.9 681.9 2347.6 678.9 2348.3 675.8 2348.9 672.8 2349.5 669.7 2350.1 666.6 2350.6 663.6 2351.2 660.5 2351.8 657.4 2352.3 654.4 2352.9 651.4 2353.5 648.4 2354.1 645.4 2354.8 642.4 2355.4 639.5 2356.2 636.7 2356.9 633.9 2357.7 631.1 2358.6 628.5 2359.5 625.8 2360.6 623.3 2361.6 620.8 2362.8 618.4 2364.1 616.3 2365.7 614.3 2367.6 612.8 2369.9 611.8 2372.6 611.5 2376.0 611.8 2380.0 613.0 M2380.0 505.0L2377.3 506.3 2374.6 507.6 2371.9 508.9 2369.2 510.3 2366.5 511.6 2363.8 512.9 2361.1 514.2 2358.4 515.5 2355.7 516.7 2353.0 518.0 2350.3 519.3 2347.6 520.6 2344.9 521.9 2342.1 523.1 2339.4 524.4 2336.7 525.7 2334.0 526.9 2331.3 528.2 2328.5 529.4 2325.8 530.6 2323.1 531.9 2320.3 533.1 2317.6 534.3 2314.8 535.5 2312.1 536.7 2309.3 537.9 2306.6 539.1 2303.8 540.3 2301.1 541.5 2298.3 542.7 2295.6 543.9 2292.8 545.0 2290.0 546.2 2287.3 547.3 2284.5 548.5 2281.7 549.6 2278.9 550.7 2276.2 551.9 2273.4 553.0 2270.6 554.1 2267.8 555.2 2265.0 556.3 2262.2 557.4 2259.4 558.4 2256.6 559.5 2253.8 560.6 2251.0 561.6 2248.2 562.7 2245.4 563.7 2242.6 564.7 2239.8 565.8 2236.9 566.8 2234.1 567.8 2231.3 568.8 2228.5 569.7 2225.6 570.7 2222.8 571.7 2220.0 572.6 2217.1 573.6 2214.3 574.5 2211.4 575.4 2208.6 576.4 2205.7 577.3 2202.9 578.2 2200.0 579.0 2197.2 579.9 2194.3 580.8 2191.4 581.6 2188.6 582.5 2185.7 583.3 2182.8 584.1 2179.9 585.0 2177.0 585.8 2174.2 586.5 2171.3 587.3 2168.4 588.1 2165.5 588.9 2162.6 589.6 2159.7 590.3 2156.8 591.1 2153.9 591.8 2151.0 592.5 2148.0 593.2 2145.1 593.9 2142.2 594.6 2139.3 595.2 2136.4 595.9 2133.4 596.5 2130.5 597.2 2127.6 597.8 2124.7 598.4 2121.7 599.0 2118.8 599.6 2115.8 600.2 2112.9 600.8 2110.0 601.4 2107.0 601.9 2104.1 602.5 2101.1 603.1 2098.2 603.6 2095.2 604.1 2092.3 604.7 2089.3 605.2 2086.3 605.7 2083.4 606.2 2080.4 606.7 2077.5 607.2 2074.5 607.6 2071.5 608.1 2068.6 608.6 2065.6 609.0 2062.6 609.5 2059.6 609.9 2056.7 610.3 2053.7 610.8 2050.7 611.2 2047.8 611.6 2044.8 612.0 2041.8 612.4 2038.8 612.8 2035.8 613.2 2032.9 613.6 2029.9 613.9 2026.9 614.3 2023.9 614.7 2020.9 615.0 2018.0 615.4 2015.0 615.7 2012.0 616.1 2009.0 616.4 2006.0 616.7 2003.0 617.0 2000.1 617.4 1997.1 617.7 1994.1 618.0 1991.1 618.3 1988.1 618.6 1985.1 618.9 1982.1 619.1 1979.2 619.4 1976.2 619.7 1973.2 620.0 1970.2 620.2 1967.2 620.5 1964.2 620.8 1961.2 621.0 1958.2 621.3 1955.3 621.5 1952.3 621.7 1949.3 622.0 1946.3 622.2 1943.3 622.4 1940.3 622.6 1937.3 622.8 1934.3 623.0 1931.4 623.2 1928.4 623.4 1925.4 623.6 1922.4 623.8 1919.4 624.0 1916.4 624.2 1913.4 624.3 1910.4 624.5 1907.5 624.7 1904.5 624.8 1901.5 625.0 1898.5 625.1 1895.5 625.2 1892.5 625.4 1889.5 625.5 1886.5 625.6 1883.5 625.8 1880.5 625.9 1877.5 626.0 1874.6 626.1 1871.6 626.2 1868.6 626.3 1865.6 626.4 1862.6 626.5 1859.6 626.5 1856.6 626.6 1853.6 626.7 1850.6 626.8 1847.6 626.8 1844.6 626.9 1841.6 626.9 1838.7 627.0 1835.7 627.0 1832.7 627.1 1829.7 627.1 1826.7 627.1 1823.7 627.2 1820.7 627.2 1817.7 627.2 1814.7 627.2 1811.7 627.2 1808.7 627.2 1805.7 627.2 1802.7 627.2 1799.7 627.2 1796.7 627.1 1793.8 627.1 1790.8 627.1 1787.8 627.1 1784.8 627.0 1781.8 627.0 1778.8 626.9 1775.8 626.9 1772.8 626.8 1769.8 626.8 1766.8 626.7 1763.8 626.6 1760.8 626.6 1757.8 626.5 1754.8 626.4 1751.8 626.3 1748.8 626.2 1745.8 626.1 1742.8 626.0 1739.8 625.9 1736.8 625.8 1733.8 625.7 1730.8 625.5 1727.8 625.4 1724.8 625.3 1721.8 625.1 1718.9 625.0 1715.9 624.9 1712.9 624.7 1709.9 624.6 1706.9 624.4 1703.9 624.2 1700.9 624.1 1697.9 623.9 1694.9 623.7 1691.9 623.5 1688.9 623.3 1685.9 623.1 1682.9 622.9 1679.9 622.7 1676.9 622.5 1673.9 622.3 1670.9 622.1 1667.9 621.9 1664.9 621.7 1662.0 621.4 1659.0 621.2 1656.0 620.9 1653.0 620.7 1650.0 620.4 1647.0 620.2 1644.0 619.9 1641.0 619.7 1638.0 619.4 1635.0 619.1 1632.0 618.8 1629.1 618.5 1626.1 618.3 1623.1 618.0 1620.1 617.7 1617.1 617.4 1614.1 617.0 1611.1 616.7 1608.2 616.4 1605.2 616.1 1602.2 615.7 1599.2 615.4 1596.2 615.1 1593.3 614.7 1590.3 614.4 1587.3 614.0 1584.3 613.7 1581.3 613.3 1578.4 612.9 1575.4 612.5 1572.4 612.2 1569.4 611.8 1566.5 611.4 1563.5 611.0 1560.5 610.6 1557.5 610.2 1554.6 609.8 1551.6 609.3 1548.6 608.9 1545.7 608.5 1542.7 608.1 1539.7 607.6 1536.8 607.2 1533.8 606.7 1530.8 606.3 1527.9 605.8 1524.9 605.4 1522.0 604.9 1519.0 604.4 1516.0 603.9 1513.1 603.5 1510.1 603.0 1507.2 602.5 1504.2 602.0 1501.3 601.5 1498.3 601.0 1495.4 600.4 1492.4 599.9 1489.5 599.4 1486.5 598.9 1483.6 598.3 1480.6 597.8 1477.7 597.2 1474.7 596.7 1471.8 596.1 1468.9 595.6 1465.9 595.0 1463.0 594.4 1460.1 593.8 1457.1 593.2 1454.2 592.6 1451.3 591.9 1448.4 591.2 1445.5 590.5 1442.6 589.8 1439.7 589.1 1436.8 588.3 1433.9 587.5 1431.1 586.7 1428.2 585.8 1425.4 584.9 1422.5 584.0 1419.7 583.0 1416.9 582.0 1414.1 581.0 1411.3 579.9 1408.5 578.7 1405.8 577.5 1403.0 576.3 1400.3 575.1 1397.6 573.8 1394.8 572.4 1392.1 571.1 1389.4 569.8 1386.7 568.4 1384.0 567.0 1381.3 565.6 1378.6 564.3 1375.9 562.9 1373.2 561.5 1370.4 560.2 1367.7 558.9 1365.0 557.6 1362.3 556.3 1359.5 555.0 1356.8 553.7 1354.1 552.4 1351.3 551.2 1348.6 549.9 1345.9 548.7 1343.2 547.4 1340.5 546.1 1337.8 544.9 1335.1 543.6 1332.4 542.2 1329.8 540.9 1327.1 539.6 1324.5 538.2 1321.9 536.8 1319.3 535.4 1316.8 533.9 1314.2 532.4 1311.7 530.9 1309.2 529.3 1306.8 527.7 1304.3 526.1 1301.9 524.4 1299.5 522.6 1297.2 520.8 1294.9 518.9 1292.6 517.0 1290.4 515.0 1288.2 513.0 1286.0 510.9 1283.9 508.7 1281.8 506.5 1279.7 504.3 1277.6 502.1 1275.5 499.8 1273.5 497.5 1271.5 495.2 1269.4 492.8 1267.4 490.5 1265.4 488.1 1263.4 485.7 1261.4 483.3 1259.4 481.0 1257.4 478.6 1255.4 476.3 1253.4 473.9 1251.3 471.6 1249.3 469.3 1247.2 467.1 1245.1 464.8 1243.0 462.7 1240.9 460.5 1238.7 458.4 1236.5 456.4 1234.3 454.4 1232.0 452.4 1229.7 450.5 1227.4 448.7 1225.0 447.0 1222.6 445.3 1220.1 443.7 1217.6 442.2 1215.0 440.8 1212.4 439.5 1209.7 438.2 1207.0 437.1 1204.2 436.1 1201.4 435.2 1198.5 434.4 1195.6 433.8 1192.7 433.4 1189.9 433.1 1187.0 433.0 1184.2 433.1 1181.4 433.5 1178.7 434.0 1176.0 434.8 1173.4 435.9 1171.0 437.2 1168.6 438.8 1166.2 440.7 1164.0 442.7 1161.8 444.8 1159.7 447.1 1157.6 449.4 1155.6 451.8 1153.5 454.1 1151.5 456.4 1149.5 458.8 1147.5 461.2 1145.6 463.5 1143.7 465.9 1141.7 468.3 1139.9 470.6 1138.0 473.0 1136.1 475.4 1134.3 477.8 1132.5 480.2 1130.7 482.6 1128.9 485.0 1127.1 487.5 1125.3 489.9 1123.6 492.3 1121.9 494.8 1120.1 497.2 1118.4 499.7 1116.7 502.1 1115.1 504.6 1113.4 507.0 1111.8 509.5 1110.1 512.0 1108.5 514.5 1106.9 517.0 1105.2 519.5 1103.6 522.0 1102.0 524.5 1100.5 527.0 1098.9 529.5 1097.3 532.1 1095.7 534.6 1094.2 537.1 1092.6 539.7 1091.1 542.2 1089.5 544.8 1088.0 547.3 1086.4 549.9 1084.9 552.5 1083.4 555.1 1081.8 557.7 1080.3 560.3 1078.8 562.9 1077.3 565.5 1075.7 568.1 1074.2 570.7 1072.7 573.3 1071.1 575.9 1069.6 578.5 1068.0 581.1 1066.5 583.7 1064.9 586.3 1063.3 588.9 1061.7 591.5 1060.1 594.0 1058.5 596.6 1056.8 599.1 1055.2 601.6 1053.5 604.1 1051.8 606.6 1050.1 609.0 1048.3 611.5 1046.6 613.9 1044.8 616.2 1043.0 618.6 1041.1 620.9 1039.3 623.2 1037.4 625.5 1035.4 627.7 1033.5 629.9 1031.5 632.1 1029.4 634.2 1027.4 636.3 1025.3 638.3 1023.1 640.3 1020.9 642.2 1018.7 644.1 1016.5 646.0 1014.2 647.8 1011.8 649.6 1009.4 651.3 1007.0 653.0 1004.6 654.6 1002.1 656.3 999.6 657.8 997.0 659.4 994.5 660.8 991.9 662.3 989.3 663.7 986.6 665.1 983.9 666.5 981.2 667.8 978.5 669.1 975.8 670.4 973.1 671.6 970.3 672.8 967.5 674.0 964.7 675.2 961.9 676.4 959.1 677.5 956.3 678.6 953.5 679.7 950.7 680.7 947.8 681.8 945.0 682.8 942.2 683.8 939.3 684.8 936.5 685.8 933.6 686.8 930.8 687.7 927.9 688.6 925.0 689.5 922.2 690.5 919.3 691.3 916.4 692.2 913.6 693.1 910.7 693.9 907.8 694.8 904.9 695.6 902.0 696.4 899.1 697.2 896.2 698.0 893.3 698.7 890.4 699.5 887.5 700.2 884.6 701.0 881.7 701.7 878.8 702.4 875.9 703.1 873.0 703.8 870.1 704.5 867.2 705.2 864.2 705.8 861.3 706.5 858.4 707.2 855.5 707.8 852.6 708.4 849.6 709.1 846.7 709.7 843.8 710.3 840.8 710.9 837.9 711.5 835.0 712.1 832.0 712.7 829.1 713.3 826.2 713.8 823.2 714.4 820.3 715.0 817.3 715.5 814.4 716.1 811.5 716.7 808.5 717.2 805.6 717.8 802.6 718.3 799.7 718.9 796.7 719.4 793.8 719.9 790.8 720.5 787.9 721.0 785.0 721.6 782.0 722.1 779.1 722.6 776.1 723.2 773.2 723.7 770.2 724.2 767.3 724.8 764.3 725.3 761.4 725.8 758.5 726.4 755.5 726.9 752.6 727.4 749.6 728.0 746.7 728.5 743.7 729.0 740.8 729.6 737.8 730.1 734.9 730.6 732.0 731.1 729.0 731.7 726.1 732.2 723.1 732.7 720.2 733.2 717.2 733.7 714.3 734.2 711.3 734.8 708.4 735.3 705.4 735.8 702.5 736.3 699.5 736.8 696.6 737.3 693.7 737.8 690.7 738.3 687.8 738.8 684.8 739.3 681.9 739.8 678.9 740.3 675.9 740.7 673.0 741.2 670.0 741.7 667.1 742.2 664.1 742.7 661.2 743.1 658.2 743.6 655.3 744.0 652.3 744.5 649.3 745.0 646.4 745.4 643.4 745.9 640.5 746.3 637.5 746.7 634.5 747.2 631.6 747.6 628.6 748.0 625.6 748.4 622.7 748.9 619.7 749.3 616.7 749.7 613.8 750.1 610.8 750.5 607.8 750.9 604.8 751.3 601.9 751.6 598.9 752.0 595.9 752.4 592.9 752.8 590.0 753.1 587.0 753.5 584.0 753.8 581.0 754.2 578.0 754.5 575.0 754.8 572.1 755.2 569.1 755.5 566.1 755.8 563.1 756.1 560.1 756.4 557.1 756.7 554.1 757.0 551.1 757.3 548.1 757.6 545.1 757.8 542.1 758.1 539.1 758.4 536.1 758.6 533.1 758.9 530.1 759.2 527.1 759.4 524.1 759.7 521.1 759.9 518.1 760.2 515.1 760.5 512.1 760.7 509.1 761.0 506.1 761.3 503.1 761.5 500.1 761.8 497.1 762.1 494.1 762.4 491.1 762.7 488.1 763.0 485.1 763.3 482.1 763.6 479.1 763.9 476.2 764.3 473.2 764.6 470.2 765.0 467.2 765.3 464.2 765.7 461.3 766.1 458.3 766.5 455.4 766.9 452.4 767.3 449.4 767.7 446.5 768.2 443.5 768.6 440.6 769.1 437.7 769.6 434.7 770.1 431.8 770.7 428.9 771.2 426.0 771.8 423.0 772.3 420.1 773.0 417.2 773.6 414.3 774.2 411.4 774.9 408.5 775.5 405.7 776.2 402.8 776.9 399.9 777.7 397.0 778.4 394.1 779.1 391.3 779.9 388.4 780.7 385.5 781.5 382.7 782.2 379.8 783.0 376.9 783.8 374.0 784.6 371.2 785.4 368.3 786.3 365.4 787.1 362.5 787.9 359.7 788.7 356.8 789.5 353.9 790.3 351.0 791.1 348.1 792.0 345.2 792.8 342.3 793.6 339.4 794.3 336.5 795.1 333.6 795.9 330.7 796.7 327.8 797.5 324.8 798.2 321.9 799.0 319.0 799.8 316.1 800.5 313.1 801.3 310.2 802.1 307.3 802.8 304.3 803.6 301.4 804.4 298.5 805.2 295.5 806.0 292.6 806.8 289.7 807.6 286.8 808.4 283.9 809.2 281.0 810.0 278.1 810.9 275.2 811.7 272.3 812.6 269.4 813.5 266.5 814.4 263.7 815.3 260.8 816.2 258.0 817.2 255.1 818.1 252.3 819.1 249.5 820.1 246.7 821.2 243.9 822.2 241.1 823.3 238.3 824.4 235.6 825.5 232.8 826.6 230.1 827.8 227.4 829.0 224.7 830.2 222.0 831.5 219.3 832.8 216.7 834.1 214.0 835.4 211.4 836.8 208.8 838.2 206.3 839.7 203.7 841.2 201.2 842.7 198.6 844.2 196.1 845.8 193.7 847.4 191.2 849.1 188.8 850.8 186.4 852.5 184.0 854.3 181.6 856.1 179.2 857.9 176.9 859.8 174.6 861.7 172.3 863.7 170.1 865.7 167.9 867.7 165.7 869.7 163.5 871.8 161.4 873.9 159.2 876.1 157.2 878.3 155.1 880.5 153.1 882.7 151.1 885.0 149.2 887.3 147.2 889.6 145.4 892.0 143.5 894.4 141.7 896.8 139.9 899.2 138.2 901.7 136.5 904.2 134.9 906.7 133.3 909.3 131.7 911.8 130.2 914.4 128.7 917.1 127.3 919.7 125.9 922.4 124.6 925.0 123.3 927.8 122.1 930.5 120.9 933.2 119.7 936.0 118.7 938.8 117.6 941.6 116.7 944.4 115.8 947.3 114.9 950.1 114.1 953.0 113.3 955.9 112.6 958.8 112.0 961.7 111.5 964.6 110.9 967.6 110.5 970.5 110.1 973.5 109.8 976.5" stroke="#0072b2"/>
<path d="M97.0 1285.0L99.9 1284.5 102.9 1284.0 105.8 1283.4 108.7 1282.9 111.6 1282.4 114.6 1281.9 117.5 1281.4 120.4 1280.9 123.4 1280.3 126.3 1279.8 129.2 1279.3 132.2 1278.8 135.1 1278.3 138.1 1277.8 141.0 1277.2 143.9 1276.7 146.9 1276.2 149.8 1275.7 152.7 1275.2 155.7 1274.6 158.6 1274.1 161.6 1273.6 164.5 1273.1 167.5 1272.6 170.4 1272.1 173.3 1271.5 176.3 1271.0 179.2 1270.5 182.2 1270.0 185.1 1269.5 188.1 1269.0 191.0 1268.5 194.0 1267.9 196.9 1267.4 199.9 1266.9 202.8 1266.4 205.8 1265.9 208.7 1265.4 211.7 1264.9 214.6 1264.3 217.6 1263.8 220.6 1263.3 223.5 1262.8 226.5 1262.3 229.4 1261.8 232.4 1261.3 235.3 1260.8 238.3 1260.2 241.2 1259.7 244.2 1259.2 247.2 1258.7 250.1 1258.2 253.1 1257.7 256.0 1257.2 259.0 1256.7 262.0 1256.2 264.9 1255.7 267.9 1255.2 270.9 1254.7 273.8 1254.2 276.8 1253.6 279.7 1253.1 282.7 1252.6 285.7 1252.1 288.6 1251.6 291.6 1251.1 294.6 1250.6 297.5 1250.1 300.5 1249.6 303.5 1249.1 306.4 1248.6 309.4 1248.1 312.4 1247.6 315.3 1247.1 318.3 1246.7 321.3 1246.2 324.3 1245.7 327.2 1245.2 330.2 1244.7 333.2 1244.2 336.1 1243.7 339.1 1243.2 342.1 1242.7 345.0 1242.2 348.0 1241.7 351.0 1241.3 354.0 1240.8 356.9 1240.3 359.9 1239.8 362.9 1239.3 365.9 1238.8 368.8 1238.3 371.8 1237.9 374.8 1237.4 377.8 1236.9 380.7 1236.4 383.7 1236.0 386.7 1235.5 389.7 1235.0 392.6 1234.5 395.6 1234.1 398.6 1233.6 401.6 1233.1 404.5 1232.6 407.5 1232.2 410.5 1231.7 413.5 1231.2 416.4 1230.8 419.4 1230.3 422.4 1229.8 425.4 1229.4 428.3 1228.9 431.3 1228.5 434.3 1228.0 437.3 1227.5 440.3 1227.1 443.2 1226.6 446.2 1226.2 449.2 1225.7 452.2 1225.3 455.1 1224.8 458.1 1224.4 461.1 1223.9 464.1 1223.5 467.0 1223.0 470.0 1222.6 473.0 1222.1 476.0 1221.7 479.0 1221.3 481.9 1220.8 484.9 1220.4 487.9 1220.0 490.9 1219.5 493.8 1219.1 496.8 1218.7 499.8 1218.2 502.8 1217.8 505.8 1217.4 508.7 1216.9 511.7 1216.5 514.7 1216.1 517.7 1215.7 520.6 1215.3 523.6 1214.8 526.6 1214.4 529.6 1214.0 532.6 1213.6 535.5 1213.2 538.5 1212.8 541.5 1212.4 544.5 1211.9 547.4 1211.5 550.4 1211.1 553.4 1210.7 556.4 1210.3 559.3 1209.9 562.3 1209.5 565.3 1209.1 568.3 1208.7 571.2 1208.3 574.2 1208.0 577.2 1207.6 580.2 1207.2 583.1 1206.8 586.1 1206.4 589.1 1206.0 592.1 1205.6 595.0 1205.3 598.0 1204.9 601.0 1204.5 604.0 1204.1 606.9 1203.8 609.9 1203.4 612.9 1203.0 615.8 1202.7 618.8 1202.3 621.8 1201.9 624.8 1201.6 627.7 1201.2 630.7 1200.9 633.7 1200.5 636.6 1200.2 639.6 1199.8 642.6 1199.5 645.5 1199.1 648.5 1198.8 651.5 1198.4 654.4 1198.1 657.4 1197.7 660.4 1197.4 663.3 1197.1 666.3 1196.7 669.3 1196.4 672.2 1196.1 675.2 1195.8 678.2 1195.4 681.1 1195.1 684.1 1194.8 687.1 1194.5 690.0 1194.2 693.0 1193.9 696.0 1193.6 698.9 1193.3 701.9 1193.0 704.9 1192.7 707.8 1192.4 710.8 1192.2 713.8 1191.9 716.7 1191.6 719.7 1191.3 722.7 1191.1 725.6 1190.8 728.6 1190.6 731.6 1190.3 734.5 1190.1 737.5 1189.9 740.5 1189.6 743.5 1189.4 746.4 1189.2 749.4 1189.0 752.4 1188.8 755.4 1188.6 758.3 1188.4 761.3 1188.2 764.3 1188.0 767.3 1187.8 770.2 1187.6 773.2 1187.5 776.2 1187.3 779.2 1187.2 782.2 1187.0 785.2 1186.9 788.1 1186.8 791.1 1186.6 794.1 1186.5 797.1 1186.4 800.1 1186.3 803.1 1186.2 806.1 1186.2 809.1 1186.1 812.1 1186.0 815.1 1186.0 818.1 1185.9 821.1 1185.9 824.1 1185.8 827.1 1185.8 830.1 1185.8 833.1 1185.8 836.1 1185.8 839.1 1185.8 842.1 1185.8 845.2 1185.9 848.2 1185.9 851.2 1186.0 854.2 1186.0 857.2 1186.1 860.3 1186.2 863.3 1186.3 866.3 1186.4 869.3 1186.5 872.4 1186.6 875.4 1186.8 878.4 1186.9 881.5 1187.1 884.5 1187.2 887.6 1187.4 890.6 1187.6 893.7 1187.8 896.7 1188.0 899.8 1188.2 902.8 1188.4 905.9 1188.6 908.9 1188.8 911.9 1189.0 915.0 1189.2 918.0 1189.4 921.1 1189.6 924.1 1189.8 927.2 1190.0 930.2 1190.2 933.2 1190.4 936.3 1190.5 939.3 1190.7 942.3 1190.8 945.3 1190.9 948.4 1191.0 951.4 1191.1 954.4 1191.2 957.4 1191.2 960.4 1191.2 963.4 1191.2 966.3 1191.2 969.3 1191.1 972.3 1191.0 975.2 1190.9 978.2 1190.8 981.1 1190.6 984.1 1190.4 987.0 1190.1 989.9 1189.8 992.8 1189.5 995.7 1189.2 998.6 1188.8 1001.5 1188.3 1004.4 1187.8 1007.2 1187.3 1010.1 1186.7 1012.9 1186.1 1015.7 1185.4 1018.5 1184.7 1021.3 1183.9 1024.1 1183.1 1026.9 1182.2 1029.6 1181.3 1032.4 1180.3 1035.1 1179.3 1037.8 1178.1 1040.5 1177.0 1043.2 1175.7 1045.8 1174.5 1048.5 1173.1 1051.1 1171.7 1053.8 1170.3 1056.4 1168.8 1059.0 1167.3 1061.6 1165.7 1064.2 1164.1 1066.8 1162.5 1069.3 1160.8 1071.9 1159.2 1074.5 1157.4 1077.0 1155.7 1079.6 1154.0 1082.1 1152.2 1084.6 1150.4 1087.2 1148.6 1089.7 1146.9 1092.2 1145.1 1094.8 1143.3 1097.3 1141.5 1099.8 1139.7 1102.3 1137.9 1104.9 1136.1 1107.4 1134.4 1109.9 1132.6 1112.5 1130.9 1115.0 1129.2 1117.5 1127.4 1120.1 1125.7 1122.6 1124.0 1125.2 1122.3 1127.7 1120.7 1130.2 1119.0 1132.8 1117.3 1135.3 1115.7 1137.9 1114.1 1140.5 1112.4 1143.0 1110.8 1145.6 1109.3 1148.2 1107.7 1150.7 1106.1 1153.3 1104.6 1155.9 1103.0 1158.5 1101.5 1161.1 1100.0 1163.7 1098.5 1166.3 1097.0 1168.9 1095.6 1171.5 1094.1 1174.1 1092.7 1176.7 1091.3 1179.4 1089.9 1182.0 1088.5 1184.6 1087.2 1187.3 1085.9 1190.0 1084.5 1192.6 1083.2 1195.3 1082.0 1198.0 1080.7 1200.6 1079.5 1203.3 1078.2 1206.0 1077.0 1208.7 1075.9 1211.5 1074.7 1214.2 1073.6 1216.9 1072.4 1219.7 1071.3 1222.4 1070.3 1225.2 1069.2 1227.9 1068.2 1230.7 1067.2 1233.5 1066.2 1236.3 1065.2 1239.1 1064.3 1241.9 1063.4 1244.7 1062.5 1247.6 1061.6 1250.4 1060.8 1253.3 1060.0 1256.1 1059.2 1259.0 1058.4 1261.9 1057.6 1264.8 1056.9 1267.7 1056.2 1270.6 1055.5 1273.5 1054.8 1276.4 1054.1 1279.3 1053.5 1282.2 1052.8 1285.2 1052.2 1288.1 1051.6 1291.0 1051.0 1294.0 1050.4 1296.9 1049.8 1299.9 1049.3 1302.8 1048.7 1305.8 1048.2 1308.8 1047.6 1311.7 1047.1 1314.7 1046.6 1317.7 1046.1 1320.7 1045.6 1323.6 1045.1 1326.6 1044.6 1329.6 1044.1 1332.6 1043.6 1335.6 1043.1 1338.5 1042.7 1341.5 1042.2 1344.5 1041.7 1347.5 1041.2 1350.5 1040.8 1353.4 1040.3 1356.4 1039.8 1359.4 1039.4 1362.4 1038.9 1365.4 1038.4 1368.3 1038.0 1371.3 1037.5 1374.3 1037.1 1377.3 1036.6 1380.2 1036.2 1383.2 1035.7 1386.2 1035.3 1389.2 1034.8 1392.2 1034.4 1395.1 1033.9 1398.1 1033.5 1401.1 1033.0 1404.1 1032.6 1407.0 1032.1 1410.0 1031.7 1413.0 1031.2 1416.0 1030.8 1418.9 1030.4 1421.9 1029.9 1424.9 1029.5 1427.9 1029.1 1430.8 1028.6 1433.8 1028.2 1436.8 1027.8 1439.8 1027.3 1442.7 1026.9 1445.7 1026.5 1448.7 1026.1 1451.6 1025.6 1454.6 1025.2 1457.6 1024.8 1460.6 1024.4 1463.5 1024.0 1466.5 1023.5 1469.5 1023.1 1472.4 1022.7 1475.4 1022.3 1478.4 1021.9 1481.4 1021.5 1484.3 1021.1 1487.3 1020.7 1490.3 1020.3 1493.2 1019.8 1496.2 1019.4 1499.2 1019.0 1502.2 1018.6 1505.1 1018.2 1508.1 1017.8 1511.1 1017.4 1514.0 1017.0 1517.0 1016.6 1520.0 1016.2 1523.0 1015.8 1525.9 1015.4 1528.9 1015.0 1531.9 1014.6 1534.8 1014.2 1537.8 1013.9 1540.8 1013.5 1543.7 1013.1 1546.7 1012.7 1549.7 1012.3 1552.6 1011.9 1555.6 1011.5 1558.6 1011.1 1561.6 1010.7 1564.5 1010.4 1567.5 1010.0 1570.5 1009.6 1573.4 1009.2 1576.4 1008.8 1579.4 1008.4 1582.3 1008.1 1585.3 1007.7 1588.3 1007.3 1591.3 1006.9 1594.2 1006.5 1597.2 1006.2 1600.2 1005.8 1603.1 1005.4 1606.1 1005.0 1609.1 1004.7 1612.0 1004.3 1615.0 1003.9 1618.0 1003.5 1620.9 1003.2 1623.9 1002.8 1626.9 1002.4 1629.9 1002.1 1632.8 1001.7 1635.8 1001.3 1638.8 1000.9 1641.7 1000.6 1644.7 1000.2 1647.7 999.8 1650.6 999.5 1653.6 999.1 1656.6 998.7 1659.6 998.4 1662.5 998.0 1665.5 997.6 1668.5 997.3 1671.4 996.9 1674.4 996.6 1677.4 996.2 1680.4 995.8 1683.3 995.5 1686.3 995.1 1689.3 994.7 1692.2 994.4 1695.2 994.0 1698.2 993.7 1701.2 993.3 1704.1 992.9 1707.1 992.6 1710.1 992.2 1713.0 991.9 1716.0 991.5 1719.0 991.1 1722.0 990.8 1724.9 990.4 1727.9 990.1 1730.9 989.7 1733.9 989.4 1736.8 989.0 1739.8 988.6 1742.8 988.3 1745.8 987.9 1748.7 987.6 1751.7 987.2 1754.7 986.9 1757.7 986.5 1760.6 986.1 1763.6 985.8 1766.6 985.4 1769.6 985.1 1772.5 984.7 1775.5 984.4 1778.5 984.0 1781.5 983.7 1784.4 983.3 1787.4 982.9 1790.4 982.6 1793.4 982.2 1796.4 981.9 1799.3 981.5 1802.3 981.2 1805.3 980.8 1808.3 980.4 1811.3 980.1 1814.2 979.7 1817.2 979.4 1820.2 979.0 1823.2 978.7 1826.2 978.3 1829.1 977.9 1832.1 977.6 1835.1 977.2 1838.1 976.9 1841.1 976.5 1844.1 976.2 1847.0 975.8 1850.0 975.4 1853.0 975.1 1856.0 974.7 1859.0 974.4 1862.0 974.0 1864.9 973.6 1867.9 973.3 1870.9 972.9 1873.9 972.6 1876.9 972.2 1879.9 971.8 1882.9 971.5 1885.8 971.1 1888.8 970.7 1891.8 970.4 1894.8 970.0 1897.8 969.6 1900.8 969.2 1903.7 968.8 1906.7 968.5 1909.7 968.1 1912.7 967.7 1915.7 967.3 1918.7 966.9 1921.6 966.5 1924.6 966.1 1927.6 965.7 1930.6 965.3 1933.6 964.8 1936.5 964.4 1939.5 964.0 1942.5 963.6 1945.4 963.1 1948.4 962.7 1951.4 962.2 1954.4 961.8 1957.3 961.3 1960.3 960.8 1963.2 960.4 1966.2 959.9 1969.2 959.4 1972.1 958.9 1975.1 958.4 1978.0 957.9 1981.0 957.4 1983.9 956.9 1986.9 956.3 1989.8 955.8 1992.8 955.3 1995.7 954.7 1998.7 954.1 2001.6 953.6 2004.5 953.0 2007.5 952.4 2010.4 951.8 2013.3 951.2 2016.3 950.6 2019.2 950.0 2022.1 949.3 2025.0 948.7 2027.9 948.0 2030.8 947.4 2033.8 946.7 2036.7 946.0 2039.6 945.3 2042.5 944.6 2045.4 943.9 2048.3 943.1 2051.1 942.4 2054.0 941.6 2056.9 940.9 2059.8 940.1 2062.7 939.3 2065.6 938.5 2068.4 937.7 2071.3 936.9 2074.2 936.0 2077.0 935.2 2079.9 934.3 2082.7 933.4 2085.6 932.5 2088.4 931.6 2091.2 930.7 2094.1 929.7 2096.9 928.8 2099.7 927.8 2102.6 926.8 2105.4 925.8 2108.2 924.8 2111.0 923.8 2113.8 922.8 2116.6 921.7 2119.4 920.6 2122.2 919.5 2125.0 918.4 2127.8 917.3 2130.5 916.2 2133.3 915.0 2136.1 913.8 2138.8 912.7 2141.6 911.4 2144.4 910.2 2147.1 909.0 2149.8 907.7 2152.6 906.4 2155.3 905.1 2158.0 903.8 2160.8 902.5 2163.5 901.1 2166.2 899.8 2168.9 898.4 2171.6 897.0 2174.3 895.6 2177.0 894.1 2179.6 892.7 2182.3 891.2 2184.9 889.7 2187.6 888.2 2190.2 886.7 2192.8 885.1 2195.4 883.6 2198.0 882.0 2200.6 880.4 2203.2 878.8 2205.7 877.2 2208.3 875.6 2210.8 873.9 2213.3 872.3 2215.8 870.6 2218.3 868.9 2220.7 867.2 2223.2 865.5 2225.6 863.8 2228.0 862.1 2230.4 860.3 2232.7 858.6 2235.1 856.8 2237.4 855.0 2239.7 853.1 2241.9 851.2 2244.1 849.3 2246.3 847.4 2248.4 845.4 2250.5 843.3 2252.5 841.2 2254.5 839.0 2256.5 836.8 2258.4 834.6 2260.3 832.2 2262.1 829.9 2264.0 827.5 2265.8 825.1 2267.6 822.7 2269.3 820.2 2271.1 817.8 2272.9 815.3 2274.7 812.9 2276.5 810.5 2278.3 808.0 2280.1 805.6 2281.9 803.2 2283.8 800.9 2285.7 798.5 2287.6 796.2 2289.5 793.9 2291.4 791.5 2293.3 789.2 2295.2 786.9 2297.1 784.6 2299.1 782.3 2301.0 780.0 2302.8 777.7 2304.7 775.4 2306.6 773.1 2308.4 770.8 2310.2 768.4 2312.0 766.0 2313.8 763.7 2315.5 761.3 2317.2 758.8 2318.8 756.4 2320.4 753.9 2322.0 751.4 2323.5 748.8 2325.0 746.3 2326.5 743.7 2327.9 741.1 2329.3 738.4 2330.6 735.8 2331.9 733.1 2333.1 730.4 2334.3 727.6 2335.5 724.9 2336.7 722.1 2337.8 719.3 2338.8 716.5 2339.9 713.6 2340.9 710.8 2341.8 707.9 2342.8 705.0 2343.7 702.1 2344.5 699.1 2345.4 696.2 2346.2 693.3 2347.0 690.3 2347.7 687.3 2348.4 684.3 2349.1 681.3 2349.8 678.3 2350.4 675.3 2351.0 672.2 2351.6 669.2 2352.2 666.2 2352.8 663.2 2353.4 660.2 2354.1 657.2 2354.7 654.3 2355.4 651.4 2356.2 648.5 2356.9 645.6 2357.8 642.8 2358.7 640.1 2359.6 637.4 2360.7 634.8 2361.8 632.2 2363.0 629.7 2364.3 627.2 2365.8 625.0 2367.6 623.1 2369.7 621.8 2372.5 621.2 2375.8 621.5 2380.0 623.0 M2380.0 517.0L2377.3 518.5 2374.7 519.9 2372.0 521.4 2369.3 522.8 2366.7 524.3 2364.0 525.7 2361.3 527.1 2358.6 528.6 2355.9 530.0 2353.2 531.4 2350.5 532.7 2347.8 534.1 2345.1 535.5 2342.4 536.8 2339.7 538.2 2337.0 539.5 2334.3 540.8 2331.6 542.2 2328.8 543.5 2326.1 544.8 2323.4 546.1 2320.7 547.3 2317.9 548.6 2315.2 549.9 2312.5 551.1 2309.7 552.4 2307.0 553.6 2304.2 554.8 2301.5 556.0 2298.7 557.2 2296.0 558.4 2293.2 559.6 2290.4 560.8 2287.7 562.0 2284.9 563.1 2282.1 564.3 2279.4 565.4 2276.6 566.6 2273.8 567.7 2271.0 568.8 2268.2 569.9 2265.5 571.0 2262.7 572.1 2259.9 573.2 2257.1 574.3 2254.3 575.3 2251.5 576.4 2248.7 577.5 2245.9 578.5 2243.1 579.5 2240.3 580.5 2237.5 581.6 2234.6 582.6 2231.8 583.6 2229.0 584.6 2226.2 585.5 2223.4 586.5 2220.5 587.5 2217.7 588.4 2214.9 589.4 2212.0 590.3 2209.2 591.3 2206.4 592.2 2203.5 593.1 2200.7 594.0 2197.8 594.9 2195.0 595.8 2192.1 596.7 2189.3 597.5 2186.4 598.4 2183.6 599.3 2180.7 600.1 2177.8 601.0 2175.0 601.8 2172.1 602.6 2169.2 603.5 2166.4 604.3 2163.5 605.1 2160.6 605.9 2157.8 606.7 2154.9 607.4 2152.0 608.2 2149.1 609.0 2146.2 609.7 2143.3 610.5 2140.5 611.2 2137.6 612.0 2134.7 612.7 2131.8 613.4 2128.9 614.1 2126.0 614.8 2123.1 615.5 2120.2 616.2 2117.3 616.9 2114.4 617.6 2111.5 618.3 2108.6 618.9 2105.6 619.6 2102.7 620.2 2099.8 620.9 2096.9 621.5 2094.0 622.1 2091.1 622.7 2088.1 623.4 2085.2 624.0 2082.3 624.6 2079.4 625.2 2076.4 625.7 2073.5 626.3 2070.6 626.9 2067.6 627.5 2064.7 628.0 2061.8 628.6 2058.8 629.1 2055.9 629.6 2053.0 630.2 2050.0 630.7 2047.1 631.2 2044.1 631.7 2041.2 632.2 2038.2 632.7 2035.3 633.2 2032.3 633.7 2029.4 634.2 2026.4 634.7 2023.5 635.1 2020.5 635.6 2017.6 636.0 2014.6 636.5 2011.6 636.9 2008.7 637.3 2005.7 637.8 2002.7 638.2 1999.8 638.6 1996.8 639.0 1993.8 639.4 1990.9 639.8 1987.9 640.2 1984.9 640.6 1982.0 641.0 1979.0 641.3 1976.0 641.7 1973.0 642.1 1970.1 642.4 1967.1 642.8 1964.1 643.1 1961.1 643.4 1958.1 643.8 1955.2 644.1 1952.2 644.4 1949.2 644.7 1946.2 645.0 1943.2 645.3 1940.2 645.6 1937.2 645.9 1934.3 646.2 1931.3 646.5 1928.3 646.8 1925.3 647.0 1922.3 647.3 1919.3 647.6 1916.3 647.8 1913.3 648.1 1910.3 648.3 1907.3 648.5 1904.3 648.8 1901.3 649.0 1898.3 649.2 1895.3 649.4 1892.3 649.6 1889.3 649.8 1886.3 650.0 1883.3 650.2 1880.3 650.4 1877.3 650.6 1874.3 650.8 1871.3 651.0 1868.3 651.1 1865.3 651.3 1862.3 651.4 1859.3 651.6 1856.3 651.7 1853.3 651.9 1850.3 652.0 1847.3 652.2 1844.3 652.3 1841.2 652.4 1838.2 652.5 1835.2 652.7 1832.2 652.8 1829.2 652.9 1826.2 653.0 1823.2 653.1 1820.2 653.2 1817.2 653.2 1814.2 653.3 1811.1 653.4 1808.1 653.5 1805.1 653.6 1802.1 653.6 1799.1 653.7 1796.1 653.7 1793.1 653.8 1790.1 653.8 1787.0 653.9 1784.0 653.9 1781.0 654.0 1778.0 654.0 1775.0 654.0 1772.0 654.0 1769.0 654.1 1765.9 654.1 1762.9 654.1 1759.9 654.1 1756.9 654.1 1753.9 654.1 1750.9 654.1 1747.9 654.1 1744.9 654.1 1741.8 654.0 1738.8 654.0 1735.8 654.0 1732.8 654.0 1729.8 653.9 1726.8 653.9 1723.8 653.9 1720.8 653.8 1717.7 653.8 1714.7 653.7 1711.7 653.7 1708.7 653.6 1705.7 653.6 1702.7 653.5 1699.7 653.4 1696.7 653.3 1693.7 653.3 1690.6 653.2 1687.6 653.1 1684.6 653.0 1681.6 652.9 1678.6 652.8 1675.6 652.8 1672.6 652.7 1669.6 652.6 1666.6 652.5 1663.6 652.3 1660.6 652.2 1657.6 652.1 1654.6 652.0 1651.6 651.9 1648.6 651.8 1645.6 651.6 1642.6 651.5 1639.6 651.4 1636.6 651.2 1633.6 651.1 1630.6 651.0 1627.6 650.8 1624.6 650.7 1621.6 650.5 1618.6 650.4 1615.6 650.2 1612.6 650.1 1609.6 649.9 1606.6 649.7 1603.6 649.6 1600.6 649.4 1597.6 649.2 1594.6 649.0 1591.7 648.8 1588.7 648.6 1585.7 648.4 1582.7 648.3 1579.7 648.0 1576.7 647.8 1573.7 647.6 1570.7 647.4 1567.8 647.2 1564.8 647.0 1561.8 646.8 1558.8 646.5 1555.8 646.3 1552.9 646.0 1549.9 645.8 1546.9 645.5 1543.9 645.3 1540.9 645.0 1538.0 644.8 1535.0 644.5 1532.0 644.2 1529.0 643.9 1526.1 643.6 1523.1 643.4 1520.1 643.1 1517.2 642.8 1514.2 642.5 1511.2 642.1 1508.3 641.8 1505.3 641.5 1502.3 641.2 1499.4 640.8 1496.4 640.5 1493.4 640.1 1490.5 639.8 1487.5 639.4 1484.5 639.1 1481.6 638.7 1478.6 638.3 1475.7 637.9 1472.7 637.5 1469.8 637.1 1466.8 636.7 1463.8 636.3 1460.9 635.9 1457.9 635.5 1455.0 635.0 1452.0 634.6 1449.1 634.2 1446.1 633.7 1443.2 633.3 1440.2 632.8 1437.3 632.3 1434.3 631.8 1431.4 631.3 1428.5 630.9 1425.5 630.4 1422.6 629.8 1419.6 629.3 1416.7 628.8 1413.7 628.3 1410.8 627.7 1407.9 627.2 1404.9 626.6 1402.0 626.1 1399.1 625.5 1396.1 624.9 1393.2 624.3 1390.3 623.7 1387.3 623.1 1384.4 622.5 1381.5 621.9 1378.6 621.3 1375.6 620.6 1372.7 620.0 1369.8 619.3 1366.9 618.7 1363.9 618.0 1361.0 617.3 1358.1 616.6 1355.2 615.9 1352.3 615.2 1349.3 614.5 1346.4 613.7 1343.5 613.0 1340.6 612.2 1337.7 611.5 1334.8 610.7 1331.9 609.9 1329.0 609.1 1326.1 608.3 1323.2 607.4 1320.4 606.6 1317.5 605.7 1314.6 604.8 1311.7 603.9 1308.9 603.0 1306.0 602.1 1303.1 601.2 1300.3 600.2 1297.4 599.2 1294.6 598.2 1291.7 597.2 1288.9 596.2 1286.1 595.2 1283.2 594.1 1280.4 593.0 1277.6 591.9 1274.8 590.8 1272.0 589.6 1269.2 588.5 1266.4 587.3 1263.6 586.1 1260.9 584.9 1258.1 583.6 1255.3 582.3 1252.6 581.1 1249.8 579.7 1247.1 578.4 1244.4 577.0 1241.6 575.7 1238.9 574.3 1236.2 572.9 1233.5 571.6 1230.8 570.2 1228.0 568.8 1225.3 567.5 1222.6 566.2 1219.9 564.9 1217.2 563.7 1214.4 562.4 1211.7 561.3 1209.0 560.1 1206.2 559.1 1203.5 558.0 1200.7 557.1 1197.9 556.2 1195.2 555.4 1192.4 554.6 1189.5 554.0 1186.7 553.4 1183.9 552.9 1181.0 552.5 1178.2 552.2 1175.3 552.0 1172.4 552.0 1169.4 552.0 1166.5 552.2 1163.5 552.4 1160.5 552.8 1157.6 553.3 1154.6 553.9 1151.6 554.7 1148.7 555.5 1145.8 556.4 1142.9 557.5 1140.0 558.6 1137.2 559.8 1134.4 561.2 1131.7 562.6 1129.0 564.1 1126.4 565.8 1123.8 567.5 1121.3 569.3 1118.9 571.2 1116.6 573.2 1114.4 575.2 1112.2 577.4 1110.2 579.6 1108.2 581.9 1106.2 584.2 1104.3 586.5 1102.5 588.9 1100.6 591.2 1098.6 593.5 1096.7 595.8 1094.7 598.0 1092.8 600.2 1090.7 602.4 1088.7 604.6 1086.7 606.7 1084.6 608.8 1082.5 610.9 1080.4 613.0 1078.3 615.1 1076.1 617.1 1074.0 619.1 1071.8 621.1 1069.6 623.0 1067.4 625.0 1065.1 626.9 1062.9 628.8 1060.6 630.7 1058.4 632.6 1056.1 634.4 1053.7 636.3 1051.4 638.1 1049.1 639.9 1046.7 641.7 1044.4 643.5 1042.0 645.2 1039.6 647.0 1037.2 648.8 1034.8 650.5 1032.3 652.2 1029.9 653.9 1027.5 655.6 1025.0 657.3 1022.5 659.0 1020.0 660.7 1017.6 662.4 1015.1 664.0 1012.6 665.7 1010.0 667.3 1007.5 669.0 1005.0 670.6 1002.4 672.2 999.9 673.8 997.3 675.4 994.7 676.9 992.1 678.4 989.5 679.9 986.9 681.4 984.3 682.9 981.6 684.3 979.0 685.7 976.3 687.1 973.6 688.4 971.0 689.7 968.3 691.0 965.5 692.2 962.8 693.4 960.1 694.6 957.3 695.7 954.6 696.8 951.8 697.9 949.0 698.9 946.2 699.9 943.4 700.8 940.5 701.7 937.7 702.6 934.9 703.4 932.0 704.2 929.1 705.0 926.2 705.8 923.4 706.5 920.5 707.2 917.6 707.9 914.6 708.5 911.7 709.2 908.8 709.8 905.9 710.4 902.9 710.9 900.0 711.5 897.0 712.0 894.1 712.5 891.1 713.0 888.1 713.5 885.2 713.9 882.2 714.4 879.2 714.8 876.2 715.2 873.2 715.6 870.3 716.0 867.3 716.4 864.3 716.8 861.3 717.2 858.3 717.6 855.3 718.0 852.3 718.3 849.3 718.7 846.4 719.1 843.4 719.4 840.4 719.8 837.4 720.2 834.4 720.5 831.4 720.9 828.4 721.2 825.5 721.6 822.5 721.9 819.5 722.3 816.5 722.7 813.5 723.0 810.6 723.4 807.6 723.7 804.6 724.1 801.6 724.4 798.7 724.7 795.7 725.1 792.7 725.4 789.7 725.8 786.7 726.1 783.8 726.4 780.8 726.8 777.8 727.1 774.9 727.5 771.9 727.8 768.9 728.1 765.9 728.5 763.0 728.8 760.0 729.1 757.0 729.4 754.0 729.8 751.1 730.1 748.1 730.4 745.1 730.8 742.1 731.1 739.2 731.4 736.2 731.7 733.2 732.0 730.3 732.4 727.3 732.7 724.3 733.0 721.3 733.3 718.4 733.6 715.4 733.9 712.4 734.3 709.4 734.6 706.5 734.9 703.5 735.2 700.5 735.5 697.5 735.8 694.5 736.1 691.6 736.4 688.6 736.7 685.6 737.0 682.6 737.4 679.6 737.7 676.7 738.0 673.7 738.3 670.7 738.6 667.7 738.9 664.7 739.2 661.7 739.5 658.8 739.8 655.8 740.1 652.8 740.4 649.8 740.7 646.8 741.0 643.8 741.3 640.8 741.6 637.8 741.9 634.8 742.1 631.8 742.4 628.8 742.7 625.8 743.0 622.8 743.3 619.9 743.6 616.9 743.9 613.9 744.2 610.9 744.5 607.9 744.8 604.9 745.1 601.9 745.5 598.9 745.8 595.9 746.1 592.9 746.4 589.9 746.7 586.9 747.0 583.9 747.3 580.9 747.7 577.9 748.0 574.9 748.3 571.9 748.6 568.9 749.0 565.9 749.3 562.9 749.7 559.9 750.0 556.9 750.4 553.9 750.7 550.9 751.1 547.9 751.4 545.0 751.8 542.0 752.2 539.0 752.6 536.0 752.9 533.0 753.3 530.0 753.7 527.0 754.1 524.1 754.5 521.1 754.9 518.1 755.3 515.1 755.8 512.2 756.2 509.2 756.6 506.2 757.1 503.2 757.5 500.3 758.0 497.3 758.4 494.3 758.9 491.4 759.4 488.4 759.9 485.5 760.4 482.5 760.9 479.6 761.4 476.6 761.9 473.7 762.4 470.7 763.0 467.8 763.5 464.8 764.1 461.9 764.6 458.9 765.2 456.0 765.8 453.1 766.4 450.2 767.0 447.2 767.6 444.3 768.2 441.4 768.8 438.5 769.4 435.6 770.1 432.6 770.7 429.7 771.4 426.8 772.1 423.9 772.8 421.0 773.5 418.1 774.2 415.3 774.9 412.4 775.7 409.5 776.4 406.6 777.2 403.7 777.9 400.8 778.7 398.0 779.5 395.1 780.3 392.2 781.0 389.3 781.8 386.5 782.6 383.6 783.4 380.7 784.3 377.9 785.1 375.0 785.9 372.1 786.7 369.2 787.5 366.4 788.3 363.5 789.2 360.6 790.0 357.7 790.8 354.8 791.6 352.0 792.4 349.1 793.2 346.2 794.0 343.3 794.8 340.4 795.6 337.5 796.4 334.6 797.2 331.7 798.0 328.7 798.8 325.8 799.6 322.9 800.4 320.0 801.1 317.1 801.9 314.2 802.7 311.2 803.5 308.3 804.3 305.4 805.0 302.5 805.8 299.6 806.6 296.7 807.4 293.7 808.2 290.8 809.0 287.9 809.9 285.0 810.7 282.1 811.5 279.2 812.4 276.3 813.2 273.4 814.1 270.6 815.0 267.7 815.9 264.8 816.8 262.0 817.7 259.1 818.6 256.3 819.6 253.4 820.5 250.6 821.5 247.8 822.5 244.9 823.5 242.1 824.6 239.3 825.6 236.6 826.7 233.8 827.8 231.0 828.9 228.3 830.1 225.5 831.3 222.8 832.4 220.1 833.7 217.4 834.9 214.7 836.2 212.0 837.5 209.4 838.8 206.7 840.2 204.1 841.6 201.5 843.0 198.9 844.4 196.3 845.9 193.7 847.4 191.2 849.0 188.7 850.6 186.2 852.2 183.7 853.8 181.3 855.5 178.8 857.3 176.5 859.1 174.1 860.9 171.8 862.8 169.5 864.7 167.2 866.6 164.9 868.6 162.7 870.6 160.5 872.7 158.4 874.8 156.3 877.0 154.2 879.1 152.2 881.3 150.2 883.6 148.2 885.9 146.3 888.2 144.4 890.5 142.5 892.9 140.7 895.3 138.9 897.8 137.2 900.2 135.5 902.7 133.9 905.3 132.3 907.8 130.7 910.4 129.2 913.0 127.7 915.6 126.3 918.3 124.9 920.9 123.5 923.6 122.2 926.3 121.0 929.1 119.8 931.8 118.6 934.6 117.6 937.4 116.5 940.2 115.5 943.0 114.6 945.9 113.7 948.7 112.8 951.6 112.0 954.5 111.3 957.4 110.6 960.3 110.0 963.2 109.5 966.1 109.0 969.1 108.5 972.0" stroke="#f0e442"/>
</g>
<g fill="#000">
<rect x="84" y="16" width="2307" height="25"/>
<rect x="84" y="1459" width="2307" height="26"/>
<rect x="84" y="16" width="26" height="1469"/>
<rect x="2365" y="16" width="26" height="1469"/>
<rect x="375.6" y="1449.5" width="13" height="12"/>
<rect x="660.8" y="1449.5" width="13" height="12"/>
<rect x="945.9" y="1449.5" width="13" height="12"/>
<rect x="1231.0" y="1449.5" width="13" height="12"/>
<rect x="1516.1" y="1449.5" width="13" height="12"/>
<rect x="1801.3" y="1449.5" width="13" height="12"/>
<rect x="2086.4" y="1449.5" width="13" height="12"/>
</g>
<g class="tl" text-anchor="middle" fill="#000">
<text x="97.0" y="1569">−0.2</text>
<text x="382.1" y="1569">−0.1</text>
<text x="667.2" y="1569">0</text>
<text x="952.4" y="1569">0.1</text>
<text x="1237.5" y="1569">0.2</text>
<text x="1522.6" y="1569">0.3</text>
<text x="1807.8" y="1569">0.4</text>
<text x="2092.9" y="1569">0.5</text>
<text x="2378.0" y="1569">0.6</text>
</g>
<text class="xl" x="1238" y="1676" text-anchor="middle">E/V vs SCE</text>
<g class="leg" text-anchor="end" fill="#000">
<text x="2090" y="102.3">BCPE</text>
<rect x="2125" y="72.8" width="174" height="17" fill="#000000"/>
<text x="2090" y="164.9">2 mg ASP–MCPE</text>
<rect x="2125" y="135.4" width="174" height="17" fill="#9400d3"/>
<text x="2090" y="227.6">4 mg ASP–MCPE</text>
<rect x="2125" y="198.1" width="174" height="17" fill="#56b4e9"/>
<text x="2090" y="290.2">6 mg ASP–MCPE</text>
<rect x="2125" y="260.7" width="174" height="17" fill="#009e73"/>
<text x="2090" y="352.9">8 mg ASP–MCPE</text>
<rect x="2125" y="323.4" width="174" height="17" fill="#0072b2"/>
<text x="2090" y="415.5">10 mg ASP–MCPE</text>
<rect x="2125" y="386.0" width="174" height="17" fill="#f0e442"/>
</g>
<g fill="#000">
<rect x="354" y="602" width="57" height="7"/>
<rect x="354" y="629" width="57" height="6.5"/>
<rect x="379" y="609" width="6" height="20"/>
</g>
<text x="429" y="635"><tspan class="sb">10 </tspan><tspan class="mu">μ</tspan><tspan class="sb">A</tspan></text>
<g stroke="#000" stroke-width="6" fill="none" stroke-linecap="butt" stroke-linejoin="miter">
<path d="M1810 540 H1951"/>
<path d="M1847 529.5 L1810 540 L1847 550.5"/>
<path d="M1808 1151 H1949"/>
<path d="M1911 1140 L1949 1151 L1911 1162"/>
</g>
</svg>
</body></html>
